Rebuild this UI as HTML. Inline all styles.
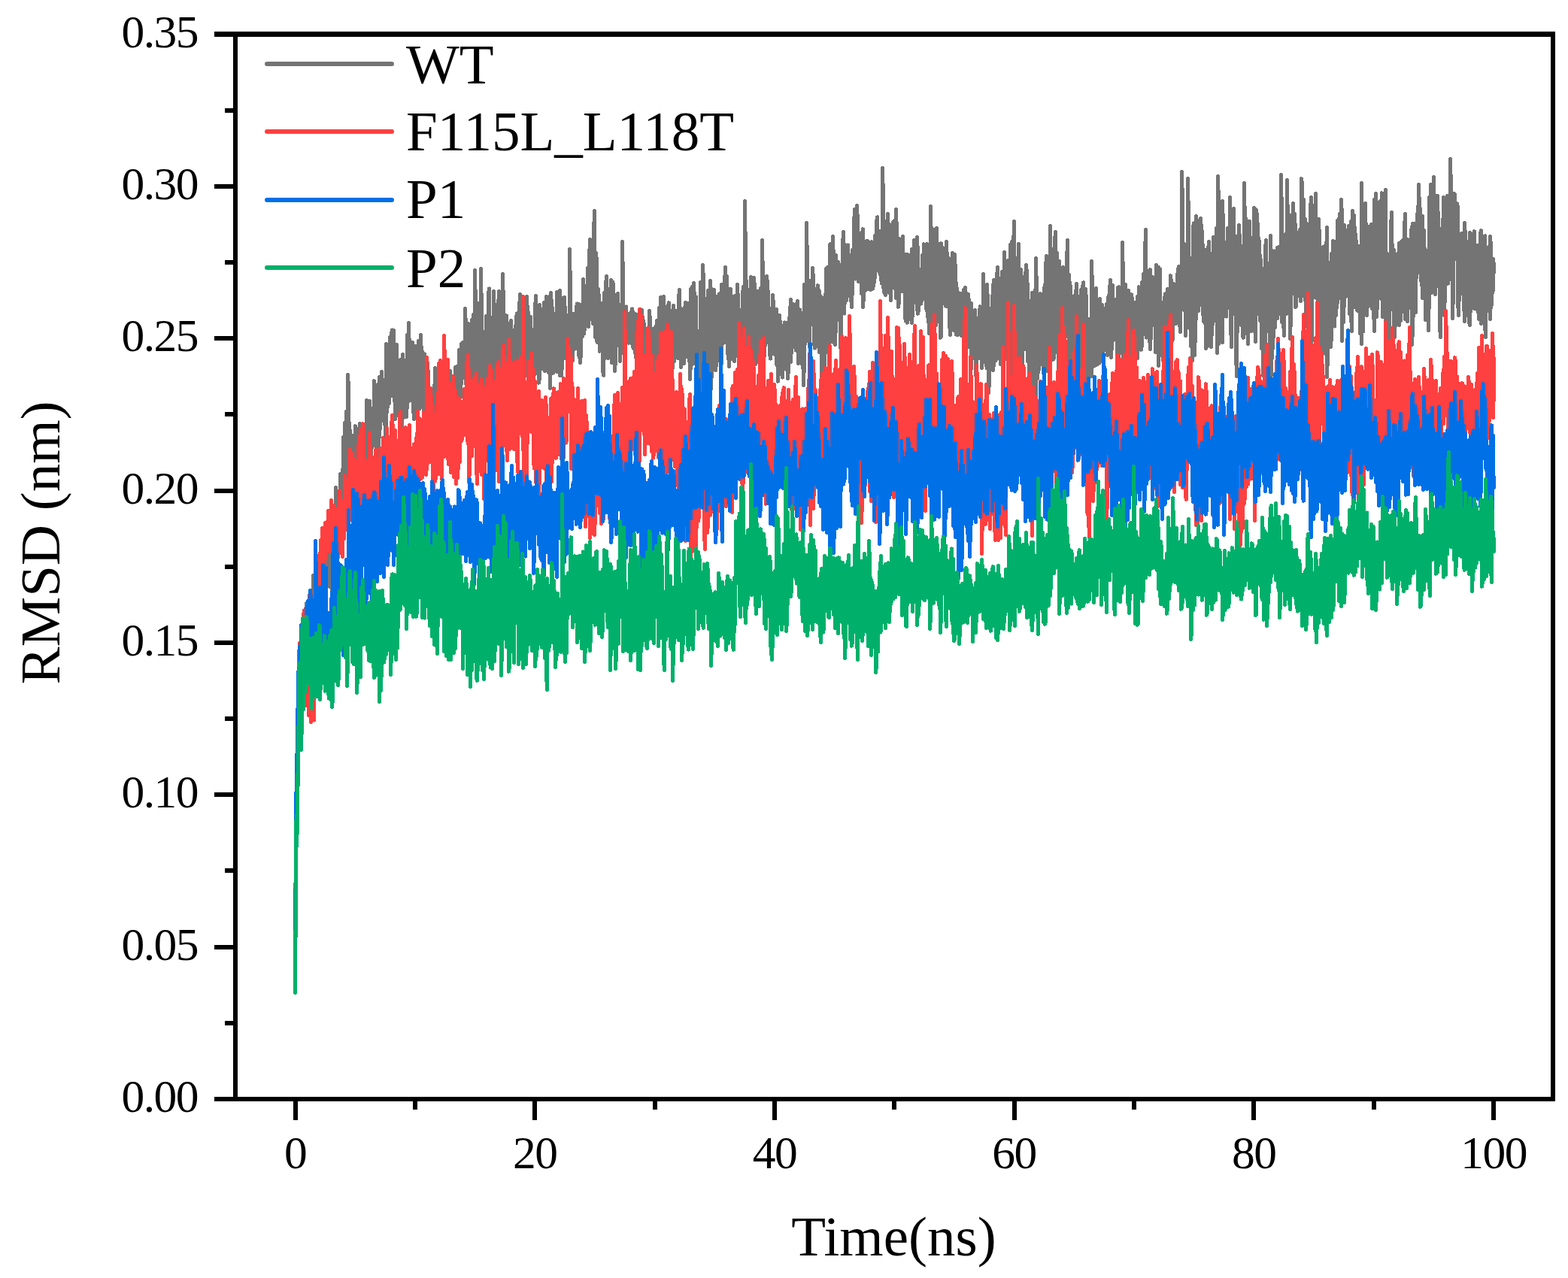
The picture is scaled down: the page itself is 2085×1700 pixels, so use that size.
<!DOCTYPE html><html><head><meta charset="utf-8"><style>html,body{margin:0;padding:0;background:#fff;overflow:hidden}svg{display:block}</style></head><body><svg width="2085" height="1700" viewBox="0 0 2085 1700"><rect width="100%" height="100%" fill="#fff"/><g><path d="M392.5 1240L392.5 1240 392.5 1197 393.5 1184 393.5 1116 394.5 1120 394.5 1063 395.5 1041 395.5 1017 396.5 1010 396.5 950 397.5 964 397.5 927 398.5 936 398.5 902 399.5 887 399.5 921 400.5 888 400.5 877 401.5 867 401.5 898 402.5 861 402.5 846 403.5 841 403.5 872 404.5 855 404.5 842 405.5 831 405.5 868 406.5 861 406.5 823 407.5 803 407.5 863 408.5 840 408.5 823 409.5 831 409.5 840 410.5 848 410.5 822 411.5 816 411.5 876 412.5 838 412.5 809 413.5 813 413.5 844 414.5 820 414.5 802 415.5 805 415.5 855 416.5 820 416.5 766 417.5 785 417.5 815 418.5 807 418.5 833 419.5 817 419.5 802 420.5 790 420.5 816 421.5 832 421.5 785 422.5 792 422.5 816 423.5 819 423.5 792 424.5 788 424.5 819 425.5 803 425.5 766 426.5 778 426.5 817 427.5 795 427.5 760 428.5 749 428.5 783 429.5 799 429.5 749 430.5 754 430.5 779 431.5 774 431.5 732 432.5 748 432.5 764 433.5 755 433.5 735 434.5 740 434.5 764 435.5 760 435.5 702 436.5 729 436.5 761 437.5 762 437.5 736 438.5 730 438.5 780 439.5 754 439.5 734 440.5 765 440.5 699 441.5 734 441.5 792 442.5 794 442.5 729 443.5 735 443.5 697 444.5 679 444.5 716 445.5 694 445.5 742 446.5 735 446.5 649 447.5 668 447.5 746 448.5 701 448.5 681 449.5 668 449.5 718 450.5 721 450.5 665 451.5 653 451.5 692 452.5 695 452.5 631 453.5 633 453.5 671 454.5 672 454.5 654 455.5 668 455.5 625 456.5 634 456.5 582 457.5 601 457.5 675 458.5 622 458.5 563 459.5 566 459.5 644 460.5 632 460.5 548 461.5 549 461.5 618 462.5 595 462.5 499 463.5 530 463.5 623 464.5 619 464.5 563 465.5 594 465.5 623 466.5 649 466.5 597 467.5 582 467.5 615 468.5 618 468.5 582 469.5 580 469.5 641 470.5 636 470.5 605 471.5 617 471.5 629 472.5 653 472.5 567 473.5 573 473.5 599 474.5 585 474.5 615 475.5 609 475.5 575 476.5 595 476.5 625 477.5 628 477.5 581 478.5 564 478.5 625 479.5 634 479.5 603 480.5 592 480.5 637 481.5 615 481.5 594 482.5 588 482.5 644 483.5 631 483.5 599 484.5 599 484.5 617 485.5 591 485.5 565 486.5 570 486.5 597 487.5 578 487.5 533 488.5 565 488.5 600 489.5 605 489.5 576 490.5 544 490.5 624 491.5 587 491.5 534 492.5 578 492.5 631 493.5 597 493.5 568 494.5 553 494.5 595 495.5 592 495.5 564 496.5 580 496.5 543 497.5 566 497.5 507 498.5 519 498.5 555 499.5 553 499.5 517 500.5 537 500.5 593 501.5 612 501.5 530 502.5 534 502.5 608 503.5 597 503.5 531 504.5 502 504.5 581 505.5 547 505.5 503 506.5 513 506.5 540 507.5 542 507.5 495 508.5 526 508.5 551 509.5 558 509.5 508 510.5 506 510.5 556 511.5 564 511.5 519 512.5 516 512.5 574 513.5 583 513.5 458 514.5 495 514.5 548 515.5 531 515.5 489 516.5 480 516.5 513 517.5 536 517.5 469 518.5 488 518.5 449 519.5 449 519.5 518 520.5 495 520.5 448 521.5 439 521.5 526 522.5 488 522.5 443 523.5 440 523.5 505 524.5 533 524.5 464 525.5 460 525.5 557 526.5 519 526.5 483 527.5 459 527.5 538 528.5 544 528.5 490 529.5 483 529.5 552 530.5 533 530.5 485 531.5 507 531.5 561 532.5 543 532.5 479 533.5 513 533.5 595 534.5 545 534.5 516 535.5 553 535.5 472 536.5 491 536.5 555 537.5 527 537.5 491 538.5 491 538.5 541 539.5 513 539.5 486 540.5 502 540.5 554 541.5 518 541.5 446 542.5 458 542.5 508 543.5 533 543.5 430 544.5 504 544.5 530 545.5 530 545.5 505 546.5 532 546.5 474 547.5 471 547.5 507 548.5 531 548.5 456 549.5 485 549.5 528 550.5 557 550.5 494 551.5 509 551.5 539 552.5 548 552.5 461 553.5 508 553.5 532 554.5 509 554.5 488 555.5 488 555.5 525 556.5 525 556.5 454 557.5 513 557.5 544 558.5 533 558.5 478 559.5 446 559.5 542 560.5 531 560.5 462 561.5 478 561.5 525 562.5 518 562.5 483 563.5 505 563.5 540 564.5 576 564.5 471 565.5 484 565.5 561 566.5 562 566.5 516 567.5 509 567.5 576 568.5 558 568.5 483 569.5 518 569.5 560 570.5 563 570.5 528 571.5 516 571.5 590 572.5 563 572.5 535 573.5 536 573.5 561 574.5 564 574.5 525 575.5 548 575.5 600 576.5 551 576.5 541 577.5 513 577.5 573 578.5 600 578.5 490 579.5 516 579.5 578 580.5 548 580.5 530 581.5 529 581.5 586 582.5 562 582.5 508 583.5 539 583.5 568 584.5 546 584.5 498 585.5 521 585.5 550 586.5 548 586.5 532 587.5 514 587.5 550 588.5 542 588.5 587 589.5 551 589.5 524 590.5 541 590.5 497 591.5 522 591.5 548 592.5 558 592.5 531 593.5 558 593.5 501 594.5 532 594.5 569 595.5 549 595.5 530 596.5 502 596.5 569 597.5 551 597.5 532 598.5 547 598.5 494 599.5 526 599.5 577 600.5 556 600.5 537 601.5 523 601.5 593 602.5 557 602.5 532 603.5 526 603.5 590 604.5 581 604.5 519 605.5 546 605.5 489 606.5 491 606.5 538 607.5 525 607.5 488 608.5 503 608.5 535 609.5 507 609.5 566 610.5 550 610.5 466 611.5 504 611.5 526 612.5 528 612.5 489 613.5 510 613.5 458 614.5 471 614.5 503 615.5 482 615.5 456 616.5 456 616.5 496 617.5 487 617.5 460 618.5 487 618.5 411 619.5 453 619.5 497 620.5 516 620.5 447 621.5 435 621.5 483 622.5 474 622.5 431 623.5 432 623.5 490 624.5 474 624.5 442 625.5 446 625.5 487 626.5 483 626.5 444 627.5 426 627.5 510 628.5 462 628.5 436 629.5 419 629.5 526 630.5 482 630.5 438 631.5 457 631.5 360 632.5 451 632.5 502 633.5 466 633.5 543 634.5 509 634.5 455 635.5 488 635.5 554 636.5 502 636.5 404 637.5 455 637.5 528 638.5 529 638.5 474 639.5 496 639.5 358 640.5 477 640.5 521 641.5 527 641.5 465 642.5 490 642.5 526 643.5 484 643.5 442 644.5 445 644.5 485 645.5 467 645.5 545 646.5 520 646.5 421 647.5 457 647.5 532 648.5 494 648.5 453 649.5 502 649.5 396 650.5 384 650.5 480 651.5 500 651.5 422 652.5 433 652.5 468 653.5 470 653.5 453 654.5 445 654.5 482 655.5 444 655.5 555 656.5 463 656.5 388 657.5 455 657.5 489 658.5 482 658.5 406 659.5 425 659.5 480 660.5 505 660.5 430 661.5 411 661.5 503 662.5 474 662.5 428 663.5 388 663.5 490 664.5 514 664.5 418 665.5 444 665.5 518 666.5 504 666.5 447 667.5 451 667.5 482 668.5 498 668.5 365 669.5 441 669.5 507 670.5 478 670.5 445 671.5 424 671.5 486 672.5 478 672.5 426 673.5 420 673.5 471 674.5 465 674.5 432 675.5 431 675.5 496 676.5 512 676.5 452 677.5 490 677.5 539 678.5 499 678.5 469 679.5 504 679.5 427 680.5 469 680.5 491 681.5 458 681.5 531 682.5 488 682.5 455 683.5 478 683.5 498 684.5 531 684.5 448 685.5 434 685.5 529 686.5 484 686.5 426 687.5 417 687.5 491 688.5 492 688.5 433 689.5 475 689.5 528 690.5 476 690.5 430 691.5 392 691.5 500 692.5 489 692.5 444 693.5 424 693.5 494 694.5 482 694.5 413 695.5 471 695.5 497 696.5 499 696.5 447 697.5 405 697.5 500 698.5 477 698.5 438 699.5 417 699.5 480 700.5 469 700.5 395 701.5 434 701.5 473 702.5 478 702.5 416 703.5 427 703.5 483 704.5 506 704.5 455 705.5 422 705.5 511 706.5 496 706.5 442 707.5 439 707.5 532 708.5 489 708.5 466 709.5 488 709.5 439 710.5 440 710.5 484 711.5 495 711.5 430 712.5 394 712.5 497 713.5 494 713.5 425 714.5 429 714.5 496 715.5 488 715.5 453 716.5 450 716.5 509 717.5 497 717.5 406 718.5 448 718.5 467 719.5 453 719.5 490 720.5 490 720.5 417 721.5 439 721.5 489 722.5 476 722.5 426 723.5 403 723.5 460 724.5 493 724.5 413 725.5 434 725.5 465 726.5 469 726.5 395 727.5 425 727.5 484 728.5 472 728.5 449 729.5 417 729.5 495 730.5 479 730.5 453 731.5 394 731.5 516 732.5 449 732.5 390 733.5 419 733.5 456 734.5 472 734.5 410 735.5 430 735.5 496 736.5 486 736.5 435 737.5 424 737.5 464 738.5 460 738.5 425 739.5 433 739.5 451 740.5 494 740.5 389 741.5 418 741.5 454 742.5 456 742.5 422 743.5 433 743.5 454 744.5 499 744.5 387 745.5 418 745.5 447 746.5 397 746.5 499 747.5 472 747.5 438 748.5 448 748.5 423 749.5 427 749.5 460 750.5 448 750.5 396 751.5 437 751.5 466 752.5 477 752.5 422 753.5 428 753.5 466 754.5 476 754.5 433 755.5 441 755.5 420 756.5 423 756.5 462 757.5 480 757.5 332 758.5 434 758.5 497 759.5 485 759.5 431 760.5 424 760.5 463 761.5 479 761.5 447 762.5 465 762.5 418 763.5 446 763.5 455 764.5 464 764.5 428 765.5 438 765.5 460 766.5 463 766.5 415 767.5 404 767.5 444 768.5 457 768.5 423 769.5 428 769.5 470 770.5 475 770.5 405 771.5 417 771.5 482 772.5 460 772.5 409 773.5 417 773.5 447 774.5 447 774.5 415 775.5 435 775.5 372 776.5 413 776.5 444 777.5 430 777.5 380 778.5 383 778.5 418 779.5 416 779.5 385 780.5 402 780.5 432 781.5 430 781.5 357 782.5 412 782.5 434 783.5 407 783.5 370 784.5 319 784.5 424 785.5 412 785.5 368 786.5 332 786.5 419 787.5 408 787.5 382 788.5 377 788.5 430 789.5 419 789.5 338 790.5 281 790.5 415 791.5 386 791.5 448 792.5 410 792.5 337 793.5 356 793.5 452 794.5 455 794.5 384 795.5 385 795.5 439 796.5 454 796.5 393 797.5 421 797.5 467 798.5 457 798.5 403 799.5 414 799.5 450 800.5 464 800.5 426 801.5 432 801.5 484 802.5 499 802.5 447 803.5 477 803.5 390 804.5 410 804.5 441 805.5 447 805.5 390 806.5 368 806.5 452 807.5 445 807.5 397 808.5 385 808.5 476 809.5 446 809.5 385 810.5 414 810.5 441 811.5 427 811.5 472 812.5 449 812.5 373 813.5 417 813.5 482 814.5 448 814.5 375 815.5 379 815.5 446 816.5 440 816.5 403 817.5 421 817.5 493 818.5 468 818.5 399 819.5 393 819.5 460 820.5 454 820.5 406 821.5 391 821.5 436 822.5 453 822.5 413 823.5 407 823.5 444 824.5 423 824.5 480 825.5 451 825.5 406 826.5 409 826.5 464 827.5 434 827.5 322 828.5 419 828.5 457 829.5 466 829.5 432 830.5 435 830.5 483 831.5 469 831.5 421 832.5 408 832.5 444 833.5 446 833.5 429 834.5 418 834.5 447 835.5 448 835.5 420 836.5 418 836.5 456 837.5 444 837.5 421 838.5 431 838.5 447 839.5 437 839.5 422 840.5 411 840.5 450 841.5 461 841.5 415 842.5 424 842.5 463 843.5 456 843.5 419 844.5 433 844.5 458 845.5 475 845.5 418 846.5 430 846.5 461 847.5 480 847.5 434 848.5 437 848.5 479 849.5 456 849.5 422 850.5 426 850.5 468 851.5 478 851.5 422 852.5 412 852.5 447 853.5 455 853.5 413 854.5 440 854.5 456 855.5 458 855.5 427 856.5 436 856.5 477 857.5 458 857.5 505 858.5 492 858.5 456 859.5 458 859.5 482 860.5 478 860.5 451 861.5 450 861.5 482 862.5 461 862.5 452 863.5 488 863.5 414 864.5 436 864.5 455 865.5 447 865.5 466 866.5 456 866.5 437 867.5 450 867.5 479 868.5 494 868.5 458 869.5 454 869.5 471 870.5 489 870.5 437 871.5 450 871.5 479 872.5 501 872.5 447 873.5 427 873.5 497 874.5 475 874.5 437 875.5 438 875.5 454 876.5 459 876.5 410 877.5 442 877.5 469 878.5 460 878.5 396 879.5 431 879.5 468 880.5 444 880.5 432 881.5 437 881.5 450 882.5 470 882.5 395 883.5 436 883.5 486 884.5 470 884.5 434 885.5 432 885.5 490 886.5 451 886.5 431 887.5 421 887.5 446 888.5 464 888.5 409 889.5 403 889.5 484 890.5 493 890.5 432 891.5 415 891.5 482 892.5 499 892.5 436 893.5 421 893.5 502 894.5 460 894.5 424 895.5 407 895.5 480 896.5 480 896.5 439 897.5 444 897.5 462 898.5 466 898.5 421 899.5 414 899.5 473 900.5 466 900.5 417 901.5 420 901.5 476 902.5 438 902.5 406 903.5 386 903.5 464 904.5 467 904.5 411 905.5 411 905.5 488 906.5 472 906.5 434 907.5 414 907.5 458 908.5 439 908.5 417 909.5 428 909.5 483 910.5 462 910.5 419 911.5 403 911.5 456 912.5 452 912.5 414 913.5 406 913.5 453 914.5 439 914.5 404 915.5 424 915.5 467 916.5 480 916.5 431 917.5 404 917.5 504 918.5 461 918.5 385 919.5 409 919.5 481 920.5 444 920.5 382 921.5 425 921.5 484 922.5 479 922.5 377 923.5 417 923.5 457 924.5 483 924.5 399 925.5 395 925.5 443 926.5 440 926.5 531 927.5 510 927.5 459 928.5 464 928.5 530 929.5 535 929.5 462 930.5 441 930.5 531 931.5 492 931.5 376 932.5 414 932.5 469 933.5 491 933.5 416 934.5 457 934.5 353 935.5 389 935.5 468 936.5 505 936.5 427 937.5 419 937.5 447 938.5 452 938.5 398 939.5 425 939.5 465 940.5 488 940.5 431 941.5 463 941.5 387 942.5 418 942.5 451 943.5 445 943.5 416 944.5 442 944.5 374 945.5 421 945.5 517 946.5 462 946.5 397 947.5 385 947.5 458 948.5 453 948.5 403 949.5 386 949.5 479 950.5 490 950.5 395 951.5 416 951.5 492 952.5 477 952.5 427 953.5 448 953.5 395 954.5 416 954.5 438 955.5 453 955.5 403 956.5 391 956.5 477 957.5 480 957.5 408 958.5 420 958.5 452 959.5 483 959.5 379 960.5 417 960.5 448 961.5 452 961.5 406 962.5 406 962.5 456 963.5 450 963.5 398 964.5 356 964.5 441 965.5 435 965.5 385 966.5 368 966.5 417 967.5 417 967.5 457 968.5 477 968.5 385 969.5 414 969.5 487 970.5 459 970.5 411 971.5 385 971.5 445 972.5 444 972.5 395 973.5 395 973.5 456 974.5 461 974.5 433 975.5 437 975.5 478 976.5 480 976.5 430 977.5 462 977.5 394 978.5 422 978.5 473 979.5 457 979.5 419 980.5 457 980.5 379 981.5 417 981.5 470 982.5 460 982.5 412 983.5 418 983.5 473 984.5 465 984.5 414 985.5 434 985.5 445 986.5 420 986.5 486 987.5 444 987.5 397 988.5 382 988.5 447 989.5 443 989.5 407 990.5 452 990.5 268 991.5 416 991.5 493 992.5 483 992.5 374 993.5 408 993.5 441 994.5 407 994.5 487 995.5 440 995.5 412 996.5 426 996.5 393 997.5 405 997.5 437 998.5 414 998.5 369 999.5 399 999.5 465 1000.5 472 1000.5 376 1001.5 402 1001.5 436 1002.5 439 1002.5 370 1003.5 393 1003.5 440 1004.5 410 1004.5 484 1005.5 461 1005.5 423 1006.5 432 1006.5 481 1007.5 450 1007.5 388 1008.5 418 1008.5 452 1009.5 433 1009.5 395 1010.5 406 1010.5 442 1011.5 470 1011.5 384 1012.5 402 1012.5 461 1013.5 453 1013.5 320 1014.5 418 1014.5 451 1015.5 432 1015.5 482 1016.5 457 1016.5 423 1017.5 412 1017.5 459 1018.5 455 1018.5 399 1019.5 368 1019.5 442 1020.5 442 1020.5 374 1021.5 417 1021.5 451 1022.5 441 1022.5 410 1023.5 421 1023.5 465 1024.5 477 1024.5 423 1025.5 414 1025.5 455 1026.5 453 1026.5 420 1027.5 438 1027.5 393 1028.5 414 1028.5 457 1029.5 471 1029.5 430 1030.5 436 1030.5 458 1031.5 464 1031.5 429 1032.5 412 1032.5 484 1033.5 486 1033.5 437 1034.5 447 1034.5 507 1035.5 471 1035.5 447 1036.5 420 1036.5 478 1037.5 467 1037.5 428 1038.5 438 1038.5 463 1039.5 455 1039.5 493 1040.5 502 1040.5 437 1041.5 442 1041.5 474 1042.5 483 1042.5 441 1043.5 429 1043.5 483 1044.5 489 1044.5 461 1045.5 459 1045.5 491 1046.5 479 1046.5 437 1047.5 454 1047.5 503 1048.5 480 1048.5 442 1049.5 423 1049.5 461 1050.5 475 1050.5 431 1051.5 399 1051.5 481 1052.5 445 1052.5 411 1053.5 404 1053.5 452 1054.5 449 1054.5 430 1055.5 436 1055.5 456 1056.5 444 1056.5 423 1057.5 414 1057.5 456 1058.5 466 1058.5 405 1059.5 421 1059.5 441 1060.5 442 1060.5 401 1061.5 429 1061.5 483 1062.5 462 1062.5 422 1063.5 412 1063.5 480 1064.5 481 1064.5 424 1065.5 416 1065.5 449 1066.5 433 1066.5 476 1067.5 489 1067.5 434 1068.5 443 1068.5 512 1069.5 453 1069.5 379 1070.5 428 1070.5 457 1071.5 445 1071.5 415 1072.5 442 1072.5 297 1073.5 404 1073.5 443 1074.5 450 1074.5 412 1075.5 407 1075.5 441 1076.5 461 1076.5 374 1077.5 390 1077.5 427 1078.5 432 1078.5 392 1079.5 400 1079.5 429 1080.5 428 1080.5 357 1081.5 383 1081.5 417 1082.5 384 1082.5 451 1083.5 463 1083.5 395 1084.5 421 1084.5 454 1085.5 459 1085.5 437 1086.5 448 1086.5 413 1087.5 426 1087.5 380 1088.5 394 1088.5 446 1089.5 468 1089.5 388 1090.5 403 1090.5 438 1091.5 459 1091.5 411 1092.5 396 1092.5 502 1093.5 470 1093.5 419 1094.5 406 1094.5 456 1095.5 437 1095.5 500 1096.5 453 1096.5 411 1097.5 392 1097.5 442 1098.5 436 1098.5 358 1099.5 397 1099.5 441 1100.5 407 1100.5 356 1101.5 384 1101.5 469 1102.5 449 1102.5 399 1103.5 449 1103.5 326 1104.5 325 1104.5 412 1105.5 410 1105.5 373 1106.5 387 1106.5 438 1107.5 455 1107.5 315 1108.5 379 1108.5 432 1109.5 434 1109.5 383 1110.5 371 1110.5 458 1111.5 404 1111.5 340 1112.5 377 1112.5 409 1113.5 425 1113.5 369 1114.5 349 1114.5 407 1115.5 425 1115.5 360 1116.5 360 1116.5 408 1117.5 361 1117.5 462 1118.5 412 1118.5 353 1119.5 363 1119.5 402 1120.5 413 1120.5 343 1121.5 309 1121.5 408 1122.5 417 1122.5 345 1123.5 332 1123.5 403 1124.5 378 1124.5 326 1125.5 339 1125.5 399 1126.5 373 1126.5 335 1127.5 326 1127.5 355 1128.5 345 1128.5 372 1129.5 382 1129.5 347 1130.5 340 1130.5 384 1131.5 400 1131.5 365 1132.5 340 1132.5 408 1133.5 353 1133.5 333 1134.5 333 1134.5 351 1135.5 352 1135.5 316 1136.5 279 1136.5 363 1137.5 371 1137.5 315 1138.5 310 1138.5 355 1139.5 336 1139.5 274 1140.5 314 1140.5 348 1141.5 336 1141.5 374 1142.5 358 1142.5 329 1143.5 311 1143.5 350 1144.5 361 1144.5 313 1145.5 327 1145.5 390 1146.5 363 1146.5 313 1147.5 305 1147.5 408 1148.5 383 1148.5 346 1149.5 329 1149.5 366 1150.5 386 1150.5 332 1151.5 352 1151.5 380 1152.5 378 1152.5 321 1153.5 321 1153.5 384 1154.5 359 1154.5 322 1155.5 333 1155.5 360 1156.5 379 1156.5 335 1157.5 325 1157.5 385 1158.5 359 1158.5 346 1159.5 370 1159.5 322 1160.5 332 1160.5 384 1161.5 375 1161.5 346 1162.5 333 1162.5 375 1163.5 361 1163.5 314 1164.5 321 1164.5 350 1165.5 343 1165.5 303 1166.5 289 1166.5 342 1167.5 327 1167.5 359 1168.5 357 1168.5 326 1169.5 311 1169.5 360 1170.5 365 1170.5 308 1171.5 335 1171.5 362 1172.5 377 1172.5 335 1173.5 358 1173.5 224 1174.5 299 1174.5 370 1175.5 388 1175.5 337 1176.5 345 1176.5 390 1177.5 392 1177.5 325 1178.5 350 1178.5 295 1179.5 336 1179.5 372 1180.5 357 1180.5 285 1181.5 324 1181.5 358 1182.5 389 1182.5 302 1183.5 329 1183.5 355 1184.5 399 1184.5 301 1185.5 328 1185.5 344 1186.5 378 1186.5 300 1187.5 296 1187.5 339 1188.5 321 1188.5 359 1189.5 383 1189.5 294 1190.5 320 1190.5 345 1191.5 396 1191.5 279 1192.5 339 1192.5 380 1193.5 378 1193.5 327 1194.5 324 1194.5 408 1195.5 395 1195.5 318 1196.5 333 1196.5 367 1197.5 371 1197.5 323 1198.5 321 1198.5 384 1199.5 387 1199.5 348 1200.5 315 1200.5 386 1201.5 387 1201.5 345 1202.5 338 1202.5 381 1203.5 346 1203.5 418 1204.5 427 1204.5 351 1205.5 339 1205.5 394 1206.5 362 1206.5 429 1207.5 421 1207.5 339 1208.5 345 1208.5 407 1209.5 402 1209.5 357 1210.5 389 1210.5 417 1211.5 392 1211.5 361 1212.5 332 1212.5 429 1213.5 403 1213.5 336 1214.5 364 1214.5 387 1215.5 367 1215.5 320 1216.5 336 1216.5 369 1217.5 377 1217.5 338 1218.5 336 1218.5 382 1219.5 412 1219.5 316 1220.5 357 1220.5 417 1221.5 407 1221.5 381 1222.5 378 1222.5 400 1223.5 402 1223.5 361 1224.5 359 1224.5 404 1225.5 394 1225.5 369 1226.5 393 1226.5 340 1227.5 352 1227.5 381 1228.5 386 1228.5 325 1229.5 328 1229.5 397 1230.5 390 1230.5 356 1231.5 374 1231.5 409 1232.5 413 1232.5 325 1233.5 356 1233.5 406 1234.5 428 1234.5 372 1235.5 345 1235.5 443 1236.5 430 1236.5 392 1237.5 416 1237.5 275 1238.5 370 1238.5 466 1239.5 448 1239.5 379 1240.5 380 1240.5 427 1241.5 416 1241.5 376 1242.5 439 1242.5 306 1243.5 362 1243.5 400 1244.5 432 1244.5 322 1245.5 304 1245.5 387 1246.5 427 1246.5 324 1247.5 341 1247.5 383 1248.5 376 1248.5 404 1249.5 399 1249.5 364 1250.5 374 1250.5 449 1251.5 447 1251.5 324 1252.5 334 1252.5 404 1253.5 389 1253.5 345 1254.5 356 1254.5 392 1255.5 395 1255.5 331 1256.5 334 1256.5 393 1257.5 407 1257.5 351 1258.5 322 1258.5 403 1259.5 407 1259.5 337 1260.5 352 1260.5 387 1261.5 374 1261.5 344 1262.5 356 1262.5 412 1263.5 445 1263.5 351 1264.5 384 1264.5 405 1265.5 416 1265.5 381 1266.5 337 1266.5 429 1267.5 439 1267.5 339 1268.5 371 1268.5 433 1269.5 403 1269.5 339 1270.5 382 1270.5 430 1271.5 445 1271.5 377 1272.5 395 1272.5 434 1273.5 428 1273.5 389 1274.5 395 1274.5 445 1275.5 433 1275.5 396 1276.5 404 1276.5 434 1277.5 440 1277.5 391 1278.5 391 1278.5 446 1279.5 445 1279.5 407 1280.5 407 1280.5 423 1281.5 443 1281.5 386 1282.5 399 1282.5 442 1283.5 450 1283.5 383 1284.5 404 1284.5 437 1285.5 427 1285.5 391 1286.5 409 1286.5 430 1287.5 461 1287.5 392 1288.5 411 1288.5 432 1289.5 412 1289.5 455 1290.5 457 1290.5 419 1291.5 404 1291.5 490 1292.5 448 1292.5 424 1293.5 429 1293.5 472 1294.5 476 1294.5 420 1295.5 425 1295.5 466 1296.5 470 1296.5 413 1297.5 445 1297.5 495 1298.5 503 1298.5 448 1299.5 443 1299.5 467 1300.5 471 1300.5 446 1301.5 428 1301.5 476 1302.5 476 1302.5 416 1303.5 408 1303.5 461 1304.5 455 1304.5 426 1305.5 412 1305.5 489 1306.5 471 1306.5 416 1307.5 443 1307.5 365 1308.5 409 1308.5 458 1309.5 455 1309.5 400 1310.5 399 1310.5 436 1311.5 429 1311.5 479 1312.5 490 1312.5 379 1313.5 422 1313.5 465 1314.5 429 1314.5 522 1315.5 496 1315.5 425 1316.5 421 1316.5 451 1317.5 484 1317.5 411 1318.5 435 1318.5 470 1319.5 464 1319.5 432 1320.5 379 1320.5 492 1321.5 477 1321.5 373 1322.5 435 1322.5 475 1323.5 480 1323.5 456 1324.5 463 1324.5 434 1325.5 446 1325.5 380 1326.5 356 1326.5 477 1327.5 466 1327.5 398 1328.5 373 1328.5 460 1329.5 461 1329.5 390 1330.5 377 1330.5 484 1331.5 436 1331.5 385 1332.5 362 1332.5 470 1333.5 432 1333.5 382 1334.5 377 1334.5 439 1335.5 425 1335.5 336 1336.5 390 1336.5 477 1337.5 445 1337.5 383 1338.5 370 1338.5 413 1339.5 437 1339.5 354 1340.5 347 1340.5 452 1341.5 488 1341.5 381 1342.5 348 1342.5 463 1343.5 437 1343.5 326 1344.5 368 1344.5 515 1345.5 429 1345.5 322 1346.5 375 1346.5 487 1347.5 421 1347.5 370 1348.5 295 1348.5 452 1349.5 484 1349.5 380 1350.5 400 1350.5 446 1351.5 481 1351.5 407 1352.5 421 1352.5 470 1353.5 456 1353.5 393 1354.5 325 1354.5 483 1355.5 490 1355.5 380 1356.5 371 1356.5 448 1357.5 442 1357.5 359 1358.5 425 1358.5 493 1359.5 510 1359.5 369 1360.5 426 1360.5 445 1361.5 421 1361.5 395 1362.5 404 1362.5 464 1363.5 429 1363.5 387 1364.5 353 1364.5 450 1365.5 438 1365.5 360 1366.5 419 1366.5 480 1367.5 467 1367.5 452 1368.5 439 1368.5 504 1369.5 488 1369.5 450 1370.5 430 1370.5 489 1371.5 524 1371.5 422 1372.5 390 1372.5 494 1373.5 477 1373.5 418 1374.5 403 1374.5 519 1375.5 459 1375.5 409 1376.5 386 1376.5 496 1377.5 540 1377.5 344 1378.5 429 1378.5 470 1379.5 439 1379.5 503 1380.5 482 1380.5 408 1381.5 404 1381.5 491 1382.5 443 1382.5 395 1383.5 391 1383.5 479 1384.5 474 1384.5 426 1385.5 434 1385.5 484 1386.5 464 1386.5 420 1387.5 393 1387.5 496 1388.5 491 1388.5 387 1389.5 379 1389.5 436 1390.5 401 1390.5 369 1391.5 341 1391.5 493 1392.5 420 1392.5 370 1393.5 351 1393.5 434 1394.5 443 1394.5 387 1395.5 390 1395.5 478 1396.5 435 1396.5 301 1397.5 403 1397.5 462 1398.5 450 1398.5 387 1399.5 400 1399.5 474 1400.5 478 1400.5 405 1401.5 381 1401.5 476 1402.5 458 1402.5 330 1403.5 309 1403.5 436 1404.5 417 1404.5 366 1405.5 337 1405.5 412 1406.5 430 1406.5 356 1407.5 364 1407.5 441 1408.5 506 1408.5 348 1409.5 420 1409.5 458 1410.5 465 1410.5 416 1411.5 404 1411.5 492 1412.5 511 1412.5 389 1413.5 356 1413.5 449 1414.5 427 1414.5 390 1415.5 363 1415.5 431 1416.5 425 1416.5 379 1417.5 378 1417.5 436 1418.5 429 1418.5 376 1419.5 320 1419.5 447 1420.5 428 1420.5 399 1421.5 366 1421.5 445 1422.5 489 1422.5 376 1423.5 387 1423.5 475 1424.5 446 1424.5 409 1425.5 414 1425.5 491 1426.5 467 1426.5 430 1427.5 403 1427.5 502 1428.5 420 1428.5 394 1429.5 405 1429.5 483 1430.5 457 1430.5 408 1431.5 378 1431.5 445 1432.5 435 1432.5 401 1433.5 429 1433.5 444 1434.5 423 1434.5 498 1435.5 447 1435.5 398 1436.5 394 1436.5 520 1437.5 483 1437.5 386 1438.5 418 1438.5 452 1439.5 456 1439.5 390 1440.5 376 1440.5 495 1441.5 450 1441.5 387 1442.5 407 1442.5 463 1443.5 489 1443.5 385 1444.5 412 1444.5 451 1445.5 428 1445.5 519 1446.5 500 1446.5 439 1447.5 425 1447.5 471 1448.5 472 1448.5 426 1449.5 440 1449.5 485 1450.5 474 1450.5 428 1451.5 500 1451.5 348 1452.5 415 1452.5 461 1453.5 441 1453.5 398 1454.5 411 1454.5 487 1455.5 475 1455.5 410 1456.5 406 1456.5 463 1457.5 449 1457.5 384 1458.5 454 1458.5 485 1459.5 478 1459.5 430 1460.5 423 1460.5 474 1461.5 483 1461.5 434 1462.5 398 1462.5 481 1463.5 480 1463.5 418 1464.5 421 1464.5 462 1465.5 470 1465.5 406 1466.5 433 1466.5 470 1467.5 462 1467.5 430 1468.5 411 1468.5 461 1469.5 462 1469.5 415 1470.5 413 1470.5 448 1471.5 463 1471.5 405 1472.5 421 1472.5 472 1473.5 445 1473.5 400 1474.5 393 1474.5 466 1475.5 438 1475.5 399 1476.5 373 1476.5 430 1477.5 394 1477.5 475 1478.5 440 1478.5 396 1479.5 380 1479.5 449 1480.5 421 1480.5 398 1481.5 401 1481.5 452 1482.5 441 1482.5 399 1483.5 414 1483.5 432 1484.5 429 1484.5 417 1485.5 412 1485.5 450 1486.5 488 1486.5 383 1487.5 395 1487.5 483 1488.5 441 1488.5 382 1489.5 385 1489.5 465 1490.5 430 1490.5 390 1491.5 389 1491.5 429 1492.5 446 1492.5 323 1493.5 417 1493.5 480 1494.5 458 1494.5 409 1495.5 408 1495.5 487 1496.5 447 1496.5 379 1497.5 398 1497.5 450 1498.5 443 1498.5 402 1499.5 400 1499.5 465 1500.5 428 1500.5 387 1501.5 422 1501.5 446 1502.5 483 1502.5 400 1503.5 394 1503.5 431 1504.5 437 1504.5 392 1505.5 404 1505.5 445 1506.5 460 1506.5 402 1507.5 412 1507.5 441 1508.5 425 1508.5 403 1509.5 418 1509.5 443 1510.5 458 1510.5 412 1511.5 405 1511.5 437 1512.5 476 1512.5 395 1513.5 396 1513.5 427 1514.5 451 1514.5 382 1515.5 391 1515.5 437 1516.5 432 1516.5 385 1517.5 396 1517.5 465 1518.5 453 1518.5 376 1519.5 383 1519.5 426 1520.5 443 1520.5 365 1521.5 373 1521.5 444 1522.5 404 1522.5 366 1523.5 306 1523.5 436 1524.5 449 1524.5 384 1525.5 365 1525.5 439 1526.5 412 1526.5 367 1527.5 361 1527.5 431 1528.5 454 1528.5 366 1529.5 359 1529.5 464 1530.5 419 1530.5 382 1531.5 383 1531.5 407 1532.5 431 1532.5 369 1533.5 398 1533.5 432 1534.5 425 1534.5 401 1535.5 388 1535.5 418 1536.5 409 1536.5 468 1537.5 418 1537.5 353 1538.5 392 1538.5 413 1539.5 449 1539.5 375 1540.5 356 1540.5 486 1541.5 428 1541.5 370 1542.5 358 1542.5 432 1543.5 406 1543.5 459 1544.5 437 1544.5 403 1545.5 404 1545.5 461 1546.5 479 1546.5 403 1547.5 425 1547.5 445 1548.5 447 1548.5 405 1549.5 391 1549.5 460 1550.5 467 1550.5 418 1551.5 418 1551.5 443 1552.5 454 1552.5 385 1553.5 404 1553.5 470 1554.5 426 1554.5 395 1555.5 410 1555.5 431 1556.5 428 1556.5 367 1557.5 381 1557.5 425 1558.5 419 1558.5 453 1559.5 450 1559.5 408 1560.5 394 1560.5 431 1561.5 429 1561.5 378 1562.5 382 1562.5 419 1563.5 419 1563.5 382 1564.5 380 1564.5 430 1565.5 427 1565.5 379 1566.5 358 1566.5 408 1567.5 421 1567.5 355 1568.5 377 1568.5 418 1569.5 441 1569.5 371 1570.5 373 1570.5 396 1571.5 400 1571.5 229 1572.5 309 1572.5 383 1573.5 391 1573.5 355 1574.5 325 1574.5 412 1575.5 412 1575.5 339 1576.5 381 1576.5 446 1577.5 393 1577.5 338 1578.5 360 1578.5 407 1579.5 385 1579.5 238 1580.5 349 1580.5 379 1581.5 383 1581.5 436 1582.5 428 1582.5 350 1583.5 360 1583.5 460 1584.5 395 1584.5 372 1585.5 343 1585.5 479 1586.5 380 1586.5 307 1587.5 297 1587.5 365 1588.5 336 1588.5 472 1589.5 415 1589.5 363 1590.5 424 1590.5 288 1591.5 332 1591.5 400 1592.5 400 1592.5 294 1593.5 330 1593.5 413 1594.5 395 1594.5 334 1595.5 330 1595.5 377 1596.5 368 1596.5 291 1597.5 317 1597.5 392 1598.5 385 1598.5 308 1599.5 366 1599.5 397 1600.5 427 1600.5 338 1601.5 367 1601.5 403 1602.5 430 1602.5 333 1603.5 333 1603.5 463 1604.5 397 1604.5 358 1605.5 350 1605.5 460 1606.5 422 1606.5 343 1607.5 322 1607.5 443 1608.5 393 1608.5 346 1609.5 367 1609.5 401 1610.5 353 1610.5 461 1611.5 409 1611.5 338 1612.5 337 1612.5 431 1613.5 424 1613.5 316 1614.5 317 1614.5 386 1615.5 412 1615.5 351 1616.5 360 1616.5 403 1617.5 419 1617.5 304 1618.5 327 1618.5 469 1619.5 402 1619.5 235 1620.5 304 1620.5 457 1621.5 386 1621.5 326 1622.5 329 1622.5 420 1623.5 420 1623.5 330 1624.5 343 1624.5 384 1625.5 455 1625.5 268 1626.5 325 1626.5 389 1627.5 366 1627.5 415 1628.5 419 1628.5 323 1629.5 339 1629.5 407 1630.5 421 1630.5 335 1631.5 323 1631.5 376 1632.5 398 1632.5 304 1633.5 307 1633.5 409 1634.5 373 1634.5 313 1635.5 358 1635.5 263 1636.5 327 1636.5 400 1637.5 461 1637.5 324 1638.5 346 1638.5 418 1639.5 416 1639.5 308 1640.5 278 1640.5 399 1641.5 382 1641.5 338 1642.5 349 1642.5 397 1643.5 378 1643.5 441 1644.5 500 1644.5 315 1645.5 384 1645.5 441 1646.5 416 1646.5 378 1647.5 426 1647.5 300 1648.5 340 1648.5 400 1649.5 421 1649.5 327 1650.5 339 1650.5 397 1651.5 433 1651.5 348 1652.5 354 1652.5 446 1653.5 449 1653.5 364 1654.5 444 1654.5 244 1655.5 359 1655.5 396 1656.5 386 1656.5 291 1657.5 296 1657.5 413 1658.5 425 1658.5 336 1659.5 352 1659.5 457 1660.5 373 1660.5 325 1661.5 295 1661.5 394 1662.5 400 1662.5 319 1663.5 337 1663.5 440 1664.5 404 1664.5 317 1665.5 333 1665.5 385 1666.5 351 1666.5 421 1667.5 440 1667.5 277 1668.5 307 1668.5 378 1669.5 454 1669.5 279 1670.5 280 1670.5 373 1671.5 349 1671.5 285 1672.5 325 1672.5 393 1673.5 411 1673.5 317 1674.5 325 1674.5 402 1675.5 426 1675.5 340 1676.5 356 1676.5 412 1677.5 376 1677.5 463 1678.5 434 1678.5 393 1679.5 413 1679.5 499 1680.5 452 1680.5 378 1681.5 357 1681.5 420 1682.5 469 1682.5 341 1683.5 320 1683.5 410 1684.5 433 1684.5 361 1685.5 350 1685.5 404 1686.5 372 1686.5 440 1687.5 439 1687.5 355 1688.5 373 1688.5 432 1689.5 492 1689.5 314 1690.5 376 1690.5 499 1691.5 421 1691.5 380 1692.5 352 1692.5 463 1693.5 416 1693.5 345 1694.5 334 1694.5 411 1695.5 435 1695.5 381 1696.5 386 1696.5 420 1697.5 419 1697.5 377 1698.5 423 1698.5 330 1699.5 350 1699.5 383 1700.5 403 1700.5 329 1701.5 370 1701.5 417 1702.5 400 1702.5 362 1703.5 409 1703.5 233 1704.5 345 1704.5 428 1705.5 400 1705.5 330 1706.5 333 1706.5 406 1707.5 446 1707.5 365 1708.5 351 1708.5 398 1709.5 401 1709.5 312 1710.5 317 1710.5 417 1711.5 383 1711.5 240 1712.5 360 1712.5 402 1713.5 393 1713.5 325 1714.5 350 1714.5 371 1715.5 319 1715.5 450 1716.5 395 1716.5 287 1717.5 312 1717.5 383 1718.5 391 1718.5 327 1719.5 377 1719.5 271 1720.5 327 1720.5 376 1721.5 387 1721.5 285 1722.5 327 1722.5 408 1723.5 407 1723.5 334 1724.5 347 1724.5 373 1725.5 386 1725.5 348 1726.5 319 1726.5 390 1727.5 375 1727.5 312 1728.5 306 1728.5 382 1729.5 400 1729.5 338 1730.5 336 1730.5 238 1731.5 251 1731.5 387 1732.5 372 1732.5 287 1733.5 266 1733.5 354 1734.5 354 1734.5 386 1735.5 399 1735.5 292 1736.5 357 1736.5 434 1737.5 415 1737.5 349 1738.5 375 1738.5 298 1739.5 306 1739.5 429 1740.5 413 1740.5 376 1741.5 362 1741.5 436 1742.5 368 1742.5 293 1743.5 263 1743.5 459 1744.5 443 1744.5 325 1745.5 355 1745.5 385 1746.5 356 1746.5 278 1747.5 324 1747.5 395 1748.5 358 1748.5 313 1749.5 258 1749.5 378 1750.5 396 1750.5 351 1751.5 376 1751.5 324 1752.5 316 1752.5 436 1753.5 420 1753.5 292 1754.5 340 1754.5 450 1755.5 402 1755.5 503 1756.5 411 1756.5 378 1757.5 344 1757.5 424 1758.5 385 1758.5 466 1759.5 461 1759.5 329 1760.5 363 1760.5 449 1761.5 425 1761.5 328 1762.5 403 1762.5 470 1763.5 461 1763.5 377 1764.5 303 1764.5 501 1765.5 448 1765.5 383 1766.5 399 1766.5 349 1767.5 352 1767.5 421 1768.5 435 1768.5 353 1769.5 386 1769.5 461 1770.5 435 1770.5 338 1771.5 349 1771.5 414 1772.5 403 1772.5 321 1773.5 349 1773.5 422 1774.5 434 1774.5 342 1775.5 322 1775.5 400 1776.5 419 1776.5 364 1777.5 329 1777.5 409 1778.5 390 1778.5 294 1779.5 302 1779.5 349 1780.5 362 1780.5 303 1781.5 285 1781.5 342 1782.5 334 1782.5 391 1783.5 397 1783.5 266 1784.5 306 1784.5 453 1785.5 348 1785.5 326 1786.5 302 1786.5 428 1787.5 360 1787.5 300 1788.5 317 1788.5 346 1789.5 316 1789.5 391 1790.5 394 1790.5 312 1791.5 341 1791.5 393 1792.5 374 1792.5 347 1793.5 369 1793.5 301 1794.5 311 1794.5 417 1795.5 383 1795.5 310 1796.5 295 1796.5 394 1797.5 440 1797.5 339 1798.5 369 1798.5 281 1799.5 332 1799.5 398 1800.5 389 1800.5 287 1801.5 337 1801.5 408 1802.5 376 1802.5 312 1803.5 336 1803.5 371 1804.5 356 1804.5 412 1805.5 413 1805.5 327 1806.5 333 1806.5 403 1807.5 395 1807.5 341 1808.5 342 1808.5 443 1809.5 389 1809.5 366 1810.5 457 1810.5 244 1811.5 375 1811.5 432 1812.5 441 1812.5 384 1813.5 387 1813.5 362 1814.5 345 1814.5 413 1815.5 407 1815.5 271 1816.5 365 1816.5 418 1817.5 419 1817.5 349 1818.5 313 1818.5 386 1819.5 407 1819.5 321 1820.5 302 1820.5 372 1821.5 401 1821.5 315 1822.5 324 1822.5 374 1823.5 403 1823.5 299 1824.5 354 1824.5 410 1825.5 405 1825.5 334 1826.5 300 1826.5 379 1827.5 440 1827.5 266 1828.5 298 1828.5 421 1829.5 391 1829.5 258 1830.5 292 1830.5 421 1831.5 388 1831.5 288 1832.5 276 1832.5 348 1833.5 332 1833.5 283 1834.5 312 1834.5 376 1835.5 374 1835.5 268 1836.5 299 1836.5 397 1837.5 361 1837.5 257 1838.5 322 1838.5 421 1839.5 379 1839.5 333 1840.5 328 1840.5 386 1841.5 359 1841.5 312 1842.5 253 1842.5 428 1843.5 438 1843.5 355 1844.5 338 1844.5 429 1845.5 404 1845.5 356 1846.5 355 1846.5 475 1847.5 414 1847.5 346 1848.5 343 1848.5 412 1849.5 375 1849.5 320 1850.5 283 1850.5 367 1851.5 373 1851.5 326 1852.5 343 1852.5 387 1853.5 333 1853.5 449 1854.5 448 1854.5 383 1855.5 375 1855.5 433 1856.5 422 1856.5 361 1857.5 348 1857.5 380 1858.5 418 1858.5 338 1859.5 353 1859.5 382 1860.5 432 1860.5 324 1861.5 341 1861.5 406 1862.5 426 1862.5 338 1863.5 322 1863.5 403 1864.5 389 1864.5 358 1865.5 371 1865.5 320 1866.5 361 1866.5 414 1867.5 370 1867.5 323 1868.5 285 1868.5 424 1869.5 415 1869.5 342 1870.5 327 1870.5 372 1871.5 345 1871.5 427 1872.5 372 1872.5 319 1873.5 328 1873.5 391 1874.5 381 1874.5 327 1875.5 320 1875.5 398 1876.5 399 1876.5 311 1877.5 302 1877.5 458 1878.5 420 1878.5 298 1879.5 375 1879.5 420 1880.5 404 1880.5 303 1881.5 298 1881.5 396 1882.5 415 1882.5 312 1883.5 333 1883.5 369 1884.5 354 1884.5 310 1885.5 275 1885.5 358 1886.5 339 1886.5 246 1887.5 308 1887.5 337 1888.5 326 1888.5 278 1889.5 304 1889.5 363 1890.5 379 1890.5 324 1891.5 288 1891.5 396 1892.5 364 1892.5 330 1893.5 307 1893.5 365 1894.5 379 1894.5 331 1895.5 347 1895.5 425 1896.5 389 1896.5 356 1897.5 356 1897.5 367 1898.5 394 1898.5 334 1899.5 357 1899.5 439 1900.5 338 1900.5 263 1901.5 264 1901.5 335 1902.5 359 1902.5 246 1903.5 309 1903.5 389 1904.5 368 1904.5 328 1905.5 359 1905.5 297 1906.5 332 1906.5 236 1907.5 320 1907.5 351 1908.5 315 1908.5 391 1909.5 360 1909.5 322 1910.5 317 1910.5 376 1911.5 377 1911.5 261 1912.5 335 1912.5 376 1913.5 368 1913.5 331 1914.5 336 1914.5 420 1915.5 448 1915.5 331 1916.5 334 1916.5 373 1917.5 397 1917.5 333 1918.5 292 1918.5 373 1919.5 407 1919.5 263 1920.5 290 1920.5 419 1921.5 359 1921.5 309 1922.5 301 1922.5 363 1923.5 344 1923.5 302 1924.5 321 1924.5 261 1925.5 299 1925.5 377 1926.5 364 1926.5 272 1927.5 294 1927.5 340 1928.5 362 1928.5 212 1929.5 288 1929.5 354 1930.5 351 1930.5 259 1931.5 315 1931.5 423 1932.5 356 1932.5 258 1933.5 258 1933.5 326 1934.5 343 1934.5 259 1935.5 293 1935.5 344 1936.5 341 1936.5 305 1937.5 328 1937.5 271 1938.5 278 1938.5 379 1939.5 419 1939.5 321 1940.5 339 1940.5 399 1941.5 377 1941.5 336 1942.5 330 1942.5 389 1943.5 351 1943.5 311 1944.5 330 1944.5 362 1945.5 376 1945.5 313 1946.5 324 1946.5 371 1947.5 427 1947.5 297 1948.5 332 1948.5 386 1949.5 411 1949.5 325 1950.5 354 1950.5 401 1951.5 379 1951.5 340 1952.5 322 1952.5 399 1953.5 429 1953.5 347 1954.5 310 1954.5 432 1955.5 373 1955.5 339 1956.5 331 1956.5 380 1957.5 378 1957.5 345 1958.5 349 1958.5 376 1959.5 375 1959.5 315 1960.5 308 1960.5 410 1961.5 378 1961.5 340 1962.5 350 1962.5 389 1963.5 409 1963.5 346 1964.5 327 1964.5 408 1965.5 415 1965.5 352 1966.5 349 1966.5 424 1967.5 391 1967.5 359 1968.5 375 1968.5 312 1969.5 307 1969.5 430 1970.5 401 1970.5 344 1971.5 358 1971.5 415 1972.5 400 1972.5 376 1973.5 383 1973.5 328 1974.5 314 1974.5 413 1975.5 448 1975.5 366 1976.5 343 1976.5 402 1977.5 392 1977.5 351 1978.5 348 1978.5 400 1979.5 398 1979.5 329 1980.5 351 1980.5 390 1981.5 424 1981.5 315 1982.5 338 1982.5 409 1983.5 399 1983.5 361 1984.5 361 1984.5 389 1985.5 383 1985.5 345 1986.5 362 1986.5 362" fill="none" stroke="#747474" stroke-width="5.5" stroke-linejoin="round" stroke-linecap="round" shape-rendering="crispEdges"/><path d="M392.5 1230L392.5 1230 392.5 1176 393.5 1181 393.5 1108 394.5 1095 394.5 1019 395.5 1027 395.5 959 396.5 967 396.5 905 397.5 915 397.5 890 398.5 856 398.5 941 399.5 902 399.5 880 400.5 902 400.5 854 401.5 867 401.5 908 402.5 911 402.5 873 403.5 885 403.5 826 404.5 812 404.5 887 405.5 899 405.5 854 406.5 884 406.5 938 407.5 904 407.5 859 408.5 850 408.5 879 409.5 897 409.5 845 410.5 858 410.5 951 411.5 918 411.5 792 412.5 860 412.5 913 413.5 960 413.5 847 414.5 806 414.5 905 415.5 900 415.5 847 416.5 841 416.5 944 417.5 958 417.5 810 418.5 787 418.5 867 419.5 836 419.5 808 420.5 788 420.5 836 421.5 797 421.5 781 422.5 797 422.5 745 423.5 741 423.5 785 424.5 769 424.5 742 425.5 736 425.5 795 426.5 753 426.5 719 427.5 736 427.5 772 428.5 734 428.5 703 429.5 723 429.5 778 430.5 774 430.5 707 431.5 706 431.5 752 432.5 725 432.5 696 433.5 701 433.5 725 434.5 726 434.5 703 435.5 694 435.5 734 436.5 732 436.5 680 437.5 701 437.5 718 438.5 710 438.5 688 439.5 691 439.5 720 440.5 713 440.5 666 441.5 691 441.5 734 442.5 718 442.5 688 443.5 673 443.5 733 444.5 736 444.5 688 445.5 678 445.5 732 446.5 713 446.5 696 447.5 696 447.5 731 448.5 756 448.5 677 449.5 699 449.5 741 450.5 724 450.5 683 451.5 709 451.5 653 452.5 685 452.5 735 453.5 702 453.5 671 454.5 682 454.5 710 455.5 740 455.5 676 456.5 696 456.5 714 457.5 716 457.5 667 458.5 699 458.5 633 459.5 649 459.5 683 460.5 678 460.5 649 461.5 658 461.5 703 462.5 705 462.5 669 463.5 674 463.5 700 464.5 671 464.5 628 465.5 598 465.5 681 466.5 666 466.5 619 467.5 639 467.5 690 468.5 692 468.5 603 469.5 623 469.5 674 470.5 672 470.5 644 471.5 651 471.5 619 472.5 613 472.5 650 473.5 621 473.5 687 474.5 664 474.5 614 475.5 626 475.5 648 476.5 657 476.5 608 477.5 585 477.5 666 478.5 674 478.5 597 479.5 572 479.5 700 480.5 643 480.5 618 481.5 619 481.5 672 482.5 660 482.5 564 483.5 572 483.5 669 484.5 655 484.5 613 485.5 630 485.5 642 486.5 622 486.5 674 487.5 641 487.5 613 488.5 624 488.5 648 489.5 672 489.5 618 490.5 616 490.5 683 491.5 672 491.5 576 492.5 638 492.5 667 493.5 645 493.5 629 494.5 626 494.5 689 495.5 662 495.5 608 496.5 620 496.5 668 497.5 672 497.5 618 498.5 631 498.5 680 499.5 693 499.5 599 500.5 640 500.5 665 501.5 682 501.5 642 502.5 615 502.5 675 503.5 650 503.5 635 504.5 610 504.5 701 505.5 677 505.5 597 506.5 636 506.5 665 507.5 661 507.5 628 508.5 622 508.5 667 509.5 658 509.5 583 510.5 591 510.5 647 511.5 638 511.5 593 512.5 608 512.5 646 513.5 663 513.5 620 514.5 668 514.5 570 515.5 622 515.5 646 516.5 629 516.5 598 517.5 582 517.5 638 518.5 624 518.5 594 519.5 588 519.5 629 520.5 622 520.5 582 521.5 553 521.5 638 522.5 608 522.5 566 523.5 588 523.5 673 524.5 635 524.5 599 525.5 573 525.5 630 526.5 632 526.5 586 527.5 604 527.5 632 528.5 609 528.5 677 529.5 631 529.5 591 530.5 606 530.5 677 531.5 617 531.5 555 532.5 548 532.5 638 533.5 645 533.5 598 534.5 582 534.5 644 535.5 623 535.5 598 536.5 572 536.5 637 537.5 639 537.5 584 538.5 610 538.5 656 539.5 645 539.5 569 540.5 581 540.5 650 541.5 634 541.5 586 542.5 596 542.5 687 543.5 656 543.5 582 544.5 566 544.5 628 545.5 655 545.5 596 546.5 600 546.5 657 547.5 686 547.5 615 548.5 601 548.5 702 549.5 667 549.5 603 550.5 591 550.5 664 551.5 648 551.5 617 552.5 600 552.5 679 553.5 639 553.5 592 554.5 577 554.5 668 555.5 619 555.5 548 556.5 571 556.5 628 557.5 638 557.5 579 558.5 558 558.5 626 559.5 637 559.5 593 560.5 559 560.5 631 561.5 635 561.5 603 562.5 611 562.5 590 563.5 611 563.5 549 564.5 592 564.5 624 565.5 616 565.5 569 566.5 599 566.5 631 567.5 614 567.5 476 568.5 568 568.5 614 569.5 603 569.5 574 570.5 542 570.5 615 571.5 612 571.5 571 572.5 604 572.5 517 573.5 546 573.5 613 574.5 601 574.5 548 575.5 540 575.5 628 576.5 658 576.5 569 577.5 552 577.5 613 578.5 588 578.5 640 579.5 630 579.5 574 580.5 565 580.5 624 581.5 571 581.5 523 582.5 542 582.5 611 583.5 630 583.5 484 584.5 491 584.5 604 585.5 590 585.5 480 586.5 526 586.5 580 587.5 637 587.5 511 588.5 539 588.5 597 589.5 585 589.5 529 590.5 607 590.5 447 591.5 514 591.5 589 592.5 563 592.5 530 593.5 539 593.5 585 594.5 597 594.5 531 595.5 479 595.5 598 596.5 617 596.5 534 597.5 510 597.5 590 598.5 607 598.5 547 599.5 565 599.5 628 600.5 600 600.5 526 601.5 540 601.5 627 602.5 579 602.5 501 603.5 542 603.5 634 604.5 611 604.5 543 605.5 520 605.5 606 606.5 643 606.5 552 607.5 546 607.5 587 608.5 545 608.5 635 609.5 596 609.5 538 610.5 530 610.5 615 611.5 614 611.5 563 612.5 548 612.5 584 613.5 586 613.5 538 614.5 535 614.5 584 615.5 570 615.5 544 616.5 542 616.5 555 617.5 578 617.5 518 618.5 545 618.5 575 619.5 565 619.5 542 620.5 579 620.5 483 621.5 535 621.5 579 622.5 590 622.5 472 623.5 537 623.5 641 624.5 611 624.5 516 625.5 506 625.5 583 626.5 590 626.5 508 627.5 549 627.5 606 628.5 568 628.5 518 629.5 536 629.5 585 630.5 567 630.5 508 631.5 502 631.5 569 632.5 563 632.5 513 633.5 497 633.5 597 634.5 643 634.5 527 635.5 511 635.5 597 636.5 608 636.5 512 637.5 533 637.5 581 638.5 564 638.5 626 639.5 593 639.5 568 640.5 631 640.5 505 641.5 519 641.5 578 642.5 602 642.5 539 643.5 555 643.5 663 644.5 634 644.5 565 645.5 607 645.5 517 646.5 534 646.5 612 647.5 571 647.5 504 648.5 549 648.5 574 649.5 595 649.5 510 650.5 524 650.5 609 651.5 587 651.5 487 652.5 522 652.5 587 653.5 597 653.5 493 654.5 544 654.5 643 655.5 595 655.5 529 656.5 537 656.5 636 657.5 606 657.5 534 658.5 508 658.5 567 659.5 513 659.5 625 660.5 556 660.5 497 661.5 486 661.5 570 662.5 568 662.5 482 663.5 520 663.5 640 664.5 577 664.5 502 665.5 491 665.5 613 666.5 570 666.5 533 667.5 530 667.5 577 668.5 572 668.5 480 669.5 460 669.5 592 670.5 558 670.5 475 671.5 495 671.5 581 672.5 569 672.5 516 673.5 490 673.5 565 674.5 612 674.5 492 675.5 483 675.5 580 676.5 529 676.5 452 677.5 513 677.5 597 678.5 596 678.5 500 679.5 530 679.5 572 680.5 545 680.5 512 681.5 483 681.5 589 682.5 573 682.5 509 683.5 531 683.5 597 684.5 565 684.5 528 685.5 498 685.5 597 686.5 592 686.5 480 687.5 481 687.5 579 688.5 627 688.5 524 689.5 548 689.5 569 690.5 577 690.5 498 691.5 488 691.5 576 692.5 540 692.5 476 693.5 486 693.5 552 694.5 580 694.5 511 695.5 598 695.5 395 696.5 469 696.5 645 697.5 588 697.5 515 698.5 538 698.5 571 699.5 553 699.5 611 700.5 636 700.5 525 701.5 508 701.5 589 702.5 531 702.5 481 703.5 496 703.5 542 704.5 555 704.5 488 705.5 507 705.5 554 706.5 574 706.5 470 707.5 502 707.5 543 708.5 534 708.5 491 709.5 494 709.5 606 710.5 623 710.5 538 711.5 508 711.5 577 712.5 554 712.5 612 713.5 653 713.5 543 714.5 577 714.5 600 715.5 625 715.5 561 716.5 521 716.5 658 717.5 611 717.5 571 718.5 558 718.5 609 719.5 622 719.5 580 720.5 618 720.5 533 721.5 550 721.5 591 722.5 599 722.5 536 723.5 546 723.5 602 724.5 623 724.5 573 725.5 601 725.5 529 726.5 557 726.5 665 727.5 580 727.5 557 728.5 557 728.5 592 729.5 604 729.5 556 730.5 573 730.5 625 731.5 609 731.5 571 732.5 577 732.5 531 733.5 554 733.5 640 734.5 555 734.5 537 735.5 524 735.5 584 736.5 552 736.5 517 737.5 527 737.5 583 738.5 582 738.5 545 739.5 540 739.5 609 740.5 601 740.5 559 741.5 531 741.5 603 742.5 559 742.5 522 743.5 523 743.5 560 744.5 530 744.5 604 745.5 573 745.5 511 746.5 540 746.5 581 747.5 621 747.5 529 748.5 520 748.5 618 749.5 588 749.5 504 750.5 548 750.5 578 751.5 577 751.5 527 752.5 515 752.5 589 753.5 583 753.5 521 754.5 540 754.5 451 755.5 473 755.5 534 756.5 531 756.5 464 757.5 479 757.5 547 758.5 543 758.5 472 759.5 485 759.5 623 760.5 607 760.5 510 761.5 526 761.5 621 762.5 609 762.5 563 763.5 532 763.5 636 764.5 660 764.5 548 765.5 572 765.5 613 766.5 579 766.5 695 767.5 612 767.5 583 768.5 517 768.5 649 769.5 635 769.5 589 770.5 615 770.5 547 771.5 535 771.5 655 772.5 619 772.5 552 773.5 534 773.5 580 774.5 590 774.5 548 775.5 571 775.5 639 776.5 620 776.5 560 777.5 533 777.5 642 778.5 606 778.5 700 779.5 660 779.5 553 780.5 579 780.5 647 781.5 646 781.5 591 782.5 595 782.5 648 783.5 661 783.5 628 784.5 593 784.5 715 785.5 675 785.5 629 786.5 637 786.5 710 787.5 705 787.5 645 788.5 607 788.5 687 789.5 693 789.5 633 790.5 601 790.5 711 791.5 662 791.5 590 792.5 624 792.5 647 793.5 652 793.5 593 794.5 622 794.5 664 795.5 653 795.5 619 796.5 603 796.5 651 797.5 682 797.5 586 798.5 627 798.5 648 799.5 647 799.5 696 800.5 662 800.5 600 801.5 612 801.5 659 802.5 690 802.5 595 803.5 599 803.5 641 804.5 641 804.5 575 805.5 573 805.5 636 806.5 650 806.5 572 807.5 585 807.5 631 808.5 642 808.5 596 809.5 600 809.5 648 810.5 638 810.5 682 811.5 693 811.5 613 812.5 618 812.5 656 813.5 661 813.5 610 814.5 609 814.5 624 815.5 580 815.5 697 816.5 612 816.5 572 817.5 526 817.5 628 818.5 671 818.5 575 819.5 555 819.5 620 820.5 667 820.5 570 821.5 603 821.5 523 822.5 571 822.5 620 823.5 637 823.5 576 824.5 538 824.5 632 825.5 658 825.5 539 826.5 537 826.5 612 827.5 684 827.5 516 828.5 537 828.5 605 829.5 634 829.5 540 830.5 592 830.5 415 831.5 499 831.5 623 832.5 616 832.5 557 833.5 553 833.5 684 834.5 632 834.5 561 835.5 546 835.5 616 836.5 581 836.5 508 837.5 528 837.5 566 838.5 572 838.5 504 839.5 546 839.5 585 840.5 598 840.5 540 841.5 526 841.5 557 842.5 593 842.5 517 843.5 495 843.5 585 844.5 604 844.5 507 845.5 530 845.5 588 846.5 607 846.5 442 847.5 501 847.5 634 848.5 536 848.5 427 849.5 465 849.5 527 850.5 613 850.5 412 851.5 503 851.5 573 852.5 551 852.5 420 853.5 480 853.5 527 854.5 540 854.5 482 855.5 518 855.5 565 856.5 577 856.5 500 857.5 503 857.5 604 858.5 545 858.5 473 859.5 501 859.5 546 860.5 556 860.5 454 861.5 437 861.5 589 862.5 521 862.5 440 863.5 469 863.5 526 864.5 527 864.5 574 865.5 591 865.5 520 866.5 527 866.5 600 867.5 600 867.5 473 868.5 556 868.5 609 869.5 602 869.5 538 870.5 525 870.5 574 871.5 564 871.5 516 872.5 522 872.5 599 873.5 553 873.5 482 874.5 524 874.5 563 875.5 608 875.5 474 876.5 546 876.5 575 877.5 570 877.5 518 878.5 582 878.5 443 879.5 473 879.5 563 880.5 532 880.5 624 881.5 598 881.5 545 882.5 518 882.5 597 883.5 608 883.5 442 884.5 487 884.5 552 885.5 541 885.5 644 886.5 590 886.5 521 887.5 541 887.5 432 888.5 475 888.5 585 889.5 601 889.5 488 890.5 499 890.5 628 891.5 600 891.5 499 892.5 524 892.5 442 893.5 501 893.5 544 894.5 581 894.5 506 895.5 574 895.5 611 896.5 612 896.5 534 897.5 528 897.5 620 898.5 588 898.5 563 899.5 590 899.5 522 900.5 554 900.5 623 901.5 646 901.5 548 902.5 528 902.5 676 903.5 621 903.5 590 904.5 656 904.5 498 905.5 550 905.5 621 906.5 630 906.5 518 907.5 536 907.5 611 908.5 594 908.5 543 909.5 549 909.5 605 910.5 608 910.5 545 911.5 597 911.5 719 912.5 634 912.5 565 913.5 615 913.5 672 914.5 671 914.5 635 915.5 620 915.5 682 916.5 717 916.5 541 917.5 525 917.5 676 918.5 631 918.5 766 919.5 652 919.5 553 920.5 623 920.5 712 921.5 680 921.5 620 922.5 609 922.5 664 923.5 665 923.5 607 924.5 624 924.5 672 925.5 755 925.5 566 926.5 608 926.5 701 927.5 668 927.5 617 928.5 624 928.5 693 929.5 681 929.5 618 930.5 655 930.5 576 931.5 590 931.5 545 932.5 532 932.5 602 933.5 610 933.5 578 934.5 578 934.5 663 935.5 613 935.5 577 936.5 570 936.5 686 937.5 730 937.5 601 938.5 557 938.5 674 939.5 667 939.5 629 940.5 553 940.5 708 941.5 690 941.5 588 942.5 615 942.5 678 943.5 672 943.5 638 944.5 596 944.5 685 945.5 676 945.5 608 946.5 604 946.5 638 947.5 655 947.5 605 948.5 599 948.5 677 949.5 660 949.5 584 950.5 626 950.5 687 951.5 705 951.5 596 952.5 642 952.5 711 953.5 690 953.5 619 954.5 631 954.5 661 955.5 679 955.5 611 956.5 634 956.5 540 957.5 552 957.5 627 958.5 632 958.5 523 959.5 606 959.5 680 960.5 626 960.5 579 961.5 558 961.5 637 962.5 624 962.5 565 963.5 576 963.5 640 964.5 657 964.5 608 965.5 568 965.5 673 966.5 604 966.5 558 967.5 560 967.5 651 968.5 647 968.5 607 969.5 624 969.5 567 970.5 579 970.5 620 971.5 646 971.5 565 972.5 580 972.5 643 973.5 681 973.5 521 974.5 514 974.5 635 975.5 648 975.5 558 976.5 546 976.5 635 977.5 637 977.5 496 978.5 552 978.5 622 979.5 634 979.5 562 980.5 603 980.5 492 981.5 495 981.5 623 982.5 579 982.5 430 983.5 562 983.5 608 984.5 598 984.5 481 985.5 451 985.5 598 986.5 642 986.5 529 987.5 485 987.5 659 988.5 604 988.5 519 989.5 566 989.5 437 990.5 525 990.5 628 991.5 596 991.5 477 992.5 485 992.5 598 993.5 569 993.5 519 994.5 505 994.5 545 995.5 564 995.5 448 996.5 493 996.5 585 997.5 583 997.5 485 998.5 531 998.5 561 999.5 635 999.5 467 1000.5 502 1000.5 615 1001.5 581 1001.5 482 1002.5 503 1002.5 594 1003.5 586 1003.5 556 1004.5 524 1004.5 600 1005.5 529 1005.5 671 1006.5 612 1006.5 528 1007.5 514 1007.5 609 1008.5 580 1008.5 500 1009.5 514 1009.5 570 1010.5 599 1010.5 523 1011.5 454 1011.5 618 1012.5 594 1012.5 521 1013.5 456 1013.5 588 1014.5 583 1014.5 466 1015.5 450 1015.5 570 1016.5 598 1016.5 516 1017.5 543 1017.5 600 1018.5 560 1018.5 670 1019.5 658 1019.5 537 1020.5 536 1020.5 620 1021.5 580 1021.5 507 1022.5 534 1022.5 611 1023.5 624 1023.5 525 1024.5 529 1024.5 564 1025.5 585 1025.5 498 1026.5 538 1026.5 579 1027.5 588 1027.5 554 1028.5 530 1028.5 639 1029.5 598 1029.5 512 1030.5 531 1030.5 605 1031.5 614 1031.5 538 1032.5 545 1032.5 628 1033.5 609 1033.5 561 1034.5 557 1034.5 585 1035.5 587 1035.5 552 1036.5 540 1036.5 637 1037.5 618 1037.5 550 1038.5 541 1038.5 646 1039.5 622 1039.5 539 1040.5 523 1040.5 589 1041.5 596 1041.5 521 1042.5 516 1042.5 647 1043.5 634 1043.5 538 1044.5 540 1044.5 603 1045.5 607 1045.5 561 1046.5 579 1046.5 632 1047.5 644 1047.5 568 1048.5 519 1048.5 633 1049.5 655 1049.5 538 1050.5 560 1050.5 607 1051.5 624 1051.5 557 1052.5 579 1052.5 677 1053.5 624 1053.5 538 1054.5 532 1054.5 677 1055.5 667 1055.5 545 1056.5 535 1056.5 605 1057.5 604 1057.5 543 1058.5 502 1058.5 601 1059.5 661 1059.5 540 1060.5 564 1060.5 614 1061.5 585 1061.5 529 1062.5 579 1062.5 611 1063.5 607 1063.5 576 1064.5 604 1064.5 704 1065.5 675 1065.5 601 1066.5 641 1066.5 554 1067.5 544 1067.5 657 1068.5 673 1068.5 565 1069.5 565 1069.5 684 1070.5 646 1070.5 566 1071.5 544 1071.5 653 1072.5 666 1072.5 618 1073.5 602 1073.5 635 1074.5 606 1074.5 542 1075.5 506 1075.5 593 1076.5 652 1076.5 471 1077.5 549 1077.5 698 1078.5 579 1078.5 537 1079.5 578 1079.5 616 1080.5 631 1080.5 543 1081.5 481 1081.5 676 1082.5 616 1082.5 498 1083.5 563 1083.5 599 1084.5 614 1084.5 520 1085.5 546 1085.5 592 1086.5 629 1086.5 551 1087.5 586 1087.5 638 1088.5 645 1088.5 586 1089.5 585 1089.5 649 1090.5 647 1090.5 552 1091.5 506 1091.5 629 1092.5 605 1092.5 570 1093.5 616 1093.5 497 1094.5 534 1094.5 605 1095.5 543 1095.5 680 1096.5 578 1096.5 513 1097.5 490 1097.5 610 1098.5 624 1098.5 549 1099.5 504 1099.5 672 1100.5 626 1100.5 525 1101.5 532 1101.5 599 1102.5 690 1102.5 461 1103.5 461 1103.5 617 1104.5 625 1104.5 561 1105.5 573 1105.5 615 1106.5 664 1106.5 524 1107.5 501 1107.5 608 1108.5 646 1108.5 498 1109.5 545 1109.5 611 1110.5 612 1110.5 518 1111.5 480 1111.5 588 1112.5 525 1112.5 657 1113.5 649 1113.5 515 1114.5 506 1114.5 578 1115.5 597 1115.5 518 1116.5 492 1116.5 557 1117.5 538 1117.5 499 1118.5 523 1118.5 470 1119.5 448 1119.5 567 1120.5 591 1120.5 488 1121.5 482 1121.5 576 1122.5 565 1122.5 508 1123.5 523 1123.5 613 1124.5 591 1124.5 450 1125.5 498 1125.5 568 1126.5 589 1126.5 456 1127.5 470 1127.5 584 1128.5 601 1128.5 507 1129.5 559 1129.5 421 1130.5 501 1130.5 605 1131.5 598 1131.5 502 1132.5 544 1132.5 593 1133.5 639 1133.5 529 1134.5 522 1134.5 594 1135.5 559 1135.5 488 1136.5 529 1136.5 597 1137.5 606 1137.5 550 1138.5 528 1138.5 613 1139.5 595 1139.5 680 1140.5 635 1140.5 530 1141.5 543 1141.5 604 1142.5 647 1142.5 551 1143.5 567 1143.5 638 1144.5 671 1144.5 583 1145.5 592 1145.5 695 1146.5 644 1146.5 588 1147.5 570 1147.5 652 1148.5 658 1148.5 566 1149.5 601 1149.5 656 1150.5 623 1150.5 596 1151.5 591 1151.5 556 1152.5 541 1152.5 611 1153.5 581 1153.5 528 1154.5 517 1154.5 608 1155.5 626 1155.5 553 1156.5 495 1156.5 653 1157.5 559 1157.5 523 1158.5 566 1158.5 666 1159.5 593 1159.5 538 1160.5 483 1160.5 649 1161.5 605 1161.5 525 1162.5 538 1162.5 614 1163.5 616 1163.5 532 1164.5 575 1164.5 694 1165.5 666 1165.5 560 1166.5 537 1166.5 692 1167.5 633 1167.5 494 1168.5 515 1168.5 662 1169.5 654 1169.5 588 1170.5 622 1170.5 401 1171.5 570 1171.5 629 1172.5 635 1172.5 517 1173.5 515 1173.5 625 1174.5 589 1174.5 519 1175.5 516 1175.5 604 1176.5 620 1176.5 503 1177.5 447 1177.5 580 1178.5 616 1178.5 468 1179.5 488 1179.5 580 1180.5 561 1180.5 423 1181.5 512 1181.5 563 1182.5 595 1182.5 523 1183.5 523 1183.5 585 1184.5 580 1184.5 499 1185.5 468 1185.5 621 1186.5 647 1186.5 501 1187.5 521 1187.5 613 1188.5 661 1188.5 549 1189.5 519 1189.5 599 1190.5 613 1190.5 547 1191.5 587 1191.5 504 1192.5 562 1192.5 436 1193.5 479 1193.5 565 1194.5 628 1194.5 437 1195.5 476 1195.5 559 1196.5 569 1196.5 460 1197.5 535 1197.5 582 1198.5 576 1198.5 530 1199.5 516 1199.5 583 1200.5 589 1200.5 502 1201.5 527 1201.5 669 1202.5 620 1202.5 458 1203.5 516 1203.5 603 1204.5 584 1204.5 516 1205.5 490 1205.5 577 1206.5 589 1206.5 509 1207.5 545 1207.5 651 1208.5 598 1208.5 565 1209.5 656 1209.5 472 1210.5 542 1210.5 608 1211.5 560 1211.5 511 1212.5 482 1212.5 580 1213.5 593 1213.5 489 1214.5 509 1214.5 567 1215.5 573 1215.5 471 1216.5 434 1216.5 593 1217.5 607 1217.5 545 1218.5 521 1218.5 570 1219.5 534 1219.5 626 1220.5 685 1220.5 553 1221.5 611 1221.5 487 1222.5 568 1222.5 651 1223.5 601 1223.5 523 1224.5 584 1224.5 441 1225.5 500 1225.5 596 1226.5 588 1226.5 480 1227.5 449 1227.5 556 1228.5 611 1228.5 500 1229.5 540 1229.5 616 1230.5 679 1230.5 532 1231.5 558 1231.5 642 1232.5 569 1232.5 507 1233.5 505 1233.5 558 1234.5 563 1234.5 487 1235.5 486 1235.5 546 1236.5 514 1236.5 583 1237.5 567 1237.5 516 1238.5 571 1238.5 432 1239.5 476 1239.5 528 1240.5 552 1240.5 484 1241.5 489 1241.5 522 1242.5 580 1242.5 419 1243.5 506 1243.5 636 1244.5 597 1244.5 508 1245.5 497 1245.5 662 1246.5 628 1246.5 510 1247.5 562 1247.5 617 1248.5 581 1248.5 536 1249.5 542 1249.5 568 1250.5 579 1250.5 545 1251.5 563 1251.5 637 1252.5 646 1252.5 479 1253.5 525 1253.5 645 1254.5 621 1254.5 470 1255.5 565 1255.5 613 1256.5 574 1256.5 494 1257.5 474 1257.5 642 1258.5 584 1258.5 508 1259.5 498 1259.5 561 1260.5 620 1260.5 478 1261.5 524 1261.5 614 1262.5 608 1262.5 575 1263.5 606 1263.5 506 1264.5 519 1264.5 567 1265.5 574 1265.5 481 1266.5 534 1266.5 648 1267.5 681 1267.5 566 1268.5 562 1268.5 628 1269.5 577 1269.5 540 1270.5 551 1270.5 643 1271.5 630 1271.5 571 1272.5 545 1272.5 609 1273.5 617 1273.5 530 1274.5 528 1274.5 648 1275.5 573 1275.5 557 1276.5 559 1276.5 637 1277.5 587 1277.5 505 1278.5 539 1278.5 615 1279.5 608 1279.5 528 1280.5 539 1280.5 595 1281.5 625 1281.5 518 1282.5 426 1282.5 641 1283.5 540 1283.5 410 1284.5 420 1284.5 561 1285.5 511 1285.5 611 1286.5 617 1286.5 562 1287.5 557 1287.5 638 1288.5 624 1288.5 546 1289.5 522 1289.5 658 1290.5 656 1290.5 475 1291.5 568 1291.5 657 1292.5 655 1292.5 567 1293.5 535 1293.5 612 1294.5 591 1294.5 668 1295.5 638 1295.5 580 1296.5 554 1296.5 645 1297.5 659 1297.5 541 1298.5 583 1298.5 486 1299.5 519 1299.5 597 1300.5 576 1300.5 539 1301.5 553 1301.5 608 1302.5 645 1302.5 521 1303.5 554 1303.5 668 1304.5 674 1304.5 511 1305.5 632 1305.5 736 1306.5 629 1306.5 591 1307.5 597 1307.5 655 1308.5 639 1308.5 582 1309.5 618 1309.5 547 1310.5 533 1310.5 697 1311.5 685 1311.5 512 1312.5 524 1312.5 619 1313.5 608 1313.5 565 1314.5 580 1314.5 675 1315.5 625 1315.5 552 1316.5 587 1316.5 703 1317.5 642 1317.5 558 1318.5 573 1318.5 655 1319.5 636 1319.5 561 1320.5 573 1320.5 593 1321.5 600 1321.5 550 1322.5 594 1322.5 675 1323.5 718 1323.5 554 1324.5 567 1324.5 633 1325.5 619 1325.5 571 1326.5 553 1326.5 656 1327.5 718 1327.5 573 1328.5 600 1328.5 675 1329.5 665 1329.5 587 1330.5 551 1330.5 715 1331.5 657 1331.5 549 1332.5 559 1332.5 626 1333.5 633 1333.5 462 1334.5 479 1334.5 611 1335.5 649 1335.5 569 1336.5 585 1336.5 673 1337.5 711 1337.5 617 1338.5 636 1338.5 597 1339.5 613 1339.5 576 1340.5 598 1340.5 403 1341.5 541 1341.5 623 1342.5 596 1342.5 523 1343.5 555 1343.5 619 1344.5 592 1344.5 502 1345.5 563 1345.5 612 1346.5 616 1346.5 501 1347.5 550 1347.5 597 1348.5 598 1348.5 407 1349.5 530 1349.5 582 1350.5 603 1350.5 509 1351.5 509 1351.5 555 1352.5 526 1352.5 591 1353.5 569 1353.5 507 1354.5 537 1354.5 477 1355.5 501 1355.5 538 1356.5 513 1356.5 477 1357.5 509 1357.5 576 1358.5 568 1358.5 514 1359.5 522 1359.5 575 1360.5 549 1360.5 487 1361.5 493 1361.5 572 1362.5 538 1362.5 607 1363.5 616 1363.5 544 1364.5 565 1364.5 506 1365.5 511 1365.5 566 1366.5 554 1366.5 504 1367.5 514 1367.5 605 1368.5 580 1368.5 528 1369.5 497 1369.5 588 1370.5 593 1370.5 555 1371.5 540 1371.5 580 1372.5 561 1372.5 712 1373.5 592 1373.5 515 1374.5 551 1374.5 593 1375.5 567 1375.5 533 1376.5 539 1376.5 570 1377.5 580 1377.5 529 1378.5 547 1378.5 567 1379.5 585 1379.5 541 1380.5 534 1380.5 583 1381.5 599 1381.5 551 1382.5 543 1382.5 590 1383.5 584 1383.5 508 1384.5 539 1384.5 620 1385.5 597 1385.5 561 1386.5 558 1386.5 567 1387.5 600 1387.5 521 1388.5 526 1388.5 599 1389.5 588 1389.5 553 1390.5 531 1390.5 576 1391.5 576 1391.5 516 1392.5 548 1392.5 654 1393.5 621 1393.5 537 1394.5 555 1394.5 516 1395.5 550 1395.5 463 1396.5 493 1396.5 569 1397.5 553 1397.5 514 1398.5 521 1398.5 618 1399.5 566 1399.5 517 1400.5 512 1400.5 555 1401.5 509 1401.5 620 1402.5 615 1402.5 534 1403.5 553 1403.5 590 1404.5 562 1404.5 653 1405.5 579 1405.5 534 1406.5 558 1406.5 498 1407.5 492 1407.5 574 1408.5 578 1408.5 447 1409.5 529 1409.5 612 1410.5 647 1410.5 464 1411.5 454 1411.5 563 1412.5 556 1412.5 410 1413.5 496 1413.5 606 1414.5 623 1414.5 523 1415.5 565 1415.5 445 1416.5 469 1416.5 556 1417.5 572 1417.5 501 1418.5 516 1418.5 546 1419.5 508 1419.5 618 1420.5 585 1420.5 482 1421.5 518 1421.5 591 1422.5 574 1422.5 513 1423.5 523 1423.5 599 1424.5 614 1424.5 515 1425.5 533 1425.5 628 1426.5 611 1426.5 495 1427.5 506 1427.5 603 1428.5 586 1428.5 478 1429.5 465 1429.5 520 1430.5 498 1430.5 568 1431.5 549 1431.5 421 1432.5 528 1432.5 584 1433.5 580 1433.5 498 1434.5 530 1434.5 602 1435.5 561 1435.5 492 1436.5 501 1436.5 605 1437.5 597 1437.5 535 1438.5 542 1438.5 587 1439.5 578 1439.5 528 1440.5 567 1440.5 432 1441.5 481 1441.5 548 1442.5 559 1442.5 508 1443.5 540 1443.5 598 1444.5 568 1444.5 630 1445.5 598 1445.5 679 1446.5 684 1446.5 581 1447.5 605 1447.5 663 1448.5 714 1448.5 598 1449.5 563 1449.5 646 1450.5 650 1450.5 564 1451.5 553 1451.5 636 1452.5 660 1452.5 552 1453.5 553 1453.5 666 1454.5 620 1454.5 578 1455.5 571 1455.5 615 1456.5 612 1456.5 579 1457.5 566 1457.5 641 1458.5 586 1458.5 549 1459.5 530 1459.5 620 1460.5 595 1460.5 556 1461.5 507 1461.5 611 1462.5 589 1462.5 545 1463.5 531 1463.5 615 1464.5 562 1464.5 530 1465.5 518 1465.5 619 1466.5 599 1466.5 501 1467.5 560 1467.5 611 1468.5 596 1468.5 552 1469.5 595 1469.5 617 1470.5 618 1470.5 533 1471.5 564 1471.5 695 1472.5 630 1472.5 584 1473.5 600 1473.5 565 1474.5 558 1474.5 608 1475.5 632 1475.5 525 1476.5 554 1476.5 607 1477.5 600 1477.5 563 1478.5 581 1478.5 544 1479.5 497 1479.5 606 1480.5 605 1480.5 533 1481.5 516 1481.5 568 1482.5 543 1482.5 604 1483.5 589 1483.5 498 1484.5 494 1484.5 585 1485.5 626 1485.5 473 1486.5 547 1486.5 654 1487.5 606 1487.5 533 1488.5 557 1488.5 618 1489.5 607 1489.5 567 1490.5 607 1490.5 479 1491.5 551 1491.5 618 1492.5 636 1492.5 517 1493.5 555 1493.5 616 1494.5 631 1494.5 560 1495.5 555 1495.5 472 1496.5 487 1496.5 570 1497.5 555 1497.5 480 1498.5 523 1498.5 621 1499.5 562 1499.5 485 1500.5 426 1500.5 590 1501.5 528 1501.5 476 1502.5 487 1502.5 568 1503.5 576 1503.5 501 1504.5 511 1504.5 562 1505.5 568 1505.5 527 1506.5 563 1506.5 457 1507.5 440 1507.5 616 1508.5 582 1508.5 449 1509.5 520 1509.5 578 1510.5 606 1510.5 502 1511.5 489 1511.5 579 1512.5 603 1512.5 520 1513.5 524 1513.5 560 1514.5 520 1514.5 617 1515.5 616 1515.5 507 1516.5 529 1516.5 566 1517.5 521 1517.5 631 1518.5 577 1518.5 561 1519.5 543 1519.5 641 1520.5 579 1520.5 503 1521.5 532 1521.5 615 1522.5 642 1522.5 508 1523.5 519 1523.5 597 1524.5 639 1524.5 553 1525.5 550 1525.5 604 1526.5 586 1526.5 499 1527.5 514 1527.5 599 1528.5 624 1528.5 514 1529.5 570 1529.5 620 1530.5 636 1530.5 556 1531.5 529 1531.5 623 1532.5 589 1532.5 491 1533.5 504 1533.5 593 1534.5 564 1534.5 649 1535.5 631 1535.5 542 1536.5 541 1536.5 617 1537.5 599 1537.5 563 1538.5 600 1538.5 495 1539.5 561 1539.5 673 1540.5 652 1540.5 609 1541.5 611 1541.5 586 1542.5 595 1542.5 569 1543.5 523 1543.5 634 1544.5 631 1544.5 546 1545.5 551 1545.5 587 1546.5 601 1546.5 534 1547.5 479 1547.5 598 1548.5 547 1548.5 435 1549.5 476 1549.5 572 1550.5 584 1550.5 449 1551.5 516 1551.5 575 1552.5 574 1552.5 490 1553.5 436 1553.5 575 1554.5 616 1554.5 444 1555.5 427 1555.5 548 1556.5 609 1556.5 419 1557.5 476 1557.5 627 1558.5 588 1558.5 522 1559.5 552 1559.5 617 1560.5 613 1560.5 522 1561.5 537 1561.5 654 1562.5 571 1562.5 523 1563.5 482 1563.5 614 1564.5 579 1564.5 483 1565.5 479 1565.5 614 1566.5 584 1566.5 494 1567.5 500 1567.5 568 1568.5 543 1568.5 511 1569.5 507 1569.5 644 1570.5 578 1570.5 538 1571.5 545 1571.5 596 1572.5 585 1572.5 648 1573.5 617 1573.5 540 1574.5 568 1574.5 633 1575.5 605 1575.5 525 1576.5 563 1576.5 658 1577.5 664 1577.5 543 1578.5 532 1578.5 624 1579.5 596 1579.5 524 1580.5 489 1580.5 594 1581.5 578 1581.5 520 1582.5 559 1582.5 477 1583.5 481 1583.5 570 1584.5 588 1584.5 552 1585.5 514 1585.5 603 1586.5 620 1586.5 564 1587.5 562 1587.5 610 1588.5 659 1588.5 559 1589.5 536 1589.5 623 1590.5 698 1590.5 541 1591.5 613 1591.5 665 1592.5 695 1592.5 600 1593.5 671 1593.5 502 1594.5 514 1594.5 599 1595.5 626 1595.5 557 1596.5 575 1596.5 606 1597.5 692 1597.5 519 1598.5 530 1598.5 643 1599.5 640 1599.5 542 1600.5 521 1600.5 662 1601.5 613 1601.5 553 1602.5 535 1602.5 577 1603.5 570 1603.5 511 1604.5 540 1604.5 623 1605.5 570 1605.5 551 1606.5 556 1606.5 611 1607.5 629 1607.5 562 1608.5 550 1608.5 612 1609.5 608 1609.5 543 1610.5 559 1610.5 631 1611.5 607 1611.5 540 1612.5 548 1612.5 647 1613.5 686 1613.5 602 1614.5 585 1614.5 622 1615.5 670 1615.5 535 1616.5 564 1616.5 635 1617.5 632 1617.5 613 1618.5 615 1618.5 647 1619.5 611 1619.5 688 1620.5 629 1620.5 589 1621.5 628 1621.5 659 1622.5 632 1622.5 583 1623.5 526 1623.5 668 1624.5 656 1624.5 582 1625.5 597 1625.5 664 1626.5 661 1626.5 603 1627.5 614 1627.5 581 1628.5 561 1628.5 645 1629.5 620 1629.5 562 1630.5 555 1630.5 628 1631.5 630 1631.5 568 1632.5 557 1632.5 627 1633.5 616 1633.5 563 1634.5 555 1634.5 603 1635.5 559 1635.5 690 1636.5 612 1636.5 554 1637.5 588 1637.5 647 1638.5 639 1638.5 552 1639.5 572 1639.5 668 1640.5 681 1640.5 558 1641.5 593 1641.5 703 1642.5 621 1642.5 572 1643.5 554 1643.5 628 1644.5 647 1644.5 580 1645.5 570 1645.5 680 1646.5 647 1646.5 578 1647.5 603 1647.5 720 1648.5 643 1648.5 616 1649.5 623 1649.5 724 1650.5 670 1650.5 619 1651.5 578 1651.5 670 1652.5 702 1652.5 606 1653.5 571 1653.5 671 1654.5 668 1654.5 587 1655.5 663 1655.5 511 1656.5 568 1656.5 612 1657.5 647 1657.5 561 1658.5 584 1658.5 633 1659.5 644 1659.5 503 1660.5 548 1660.5 620 1661.5 637 1661.5 549 1662.5 548 1662.5 594 1663.5 603 1663.5 558 1664.5 585 1664.5 518 1665.5 567 1665.5 636 1666.5 616 1666.5 514 1667.5 572 1667.5 616 1668.5 578 1668.5 692 1669.5 598 1669.5 559 1670.5 539 1670.5 611 1671.5 596 1671.5 535 1672.5 489 1672.5 607 1673.5 576 1673.5 492 1674.5 513 1674.5 606 1675.5 586 1675.5 553 1676.5 588 1676.5 508 1677.5 529 1677.5 629 1678.5 594 1678.5 512 1679.5 521 1679.5 617 1680.5 611 1680.5 564 1681.5 591 1681.5 473 1682.5 499 1682.5 564 1683.5 591 1683.5 509 1684.5 459 1684.5 618 1685.5 570 1685.5 499 1686.5 498 1686.5 592 1687.5 592 1687.5 509 1688.5 561 1688.5 630 1689.5 593 1689.5 521 1690.5 523 1690.5 604 1691.5 593 1691.5 535 1692.5 534 1692.5 576 1693.5 564 1693.5 528 1694.5 516 1694.5 622 1695.5 569 1695.5 546 1696.5 531 1696.5 568 1697.5 557 1697.5 490 1698.5 475 1698.5 559 1699.5 595 1699.5 451 1700.5 496 1700.5 610 1701.5 545 1701.5 503 1702.5 471 1702.5 576 1703.5 555 1703.5 508 1704.5 511 1704.5 559 1705.5 582 1705.5 519 1706.5 560 1706.5 466 1707.5 515 1707.5 574 1708.5 611 1708.5 518 1709.5 517 1709.5 581 1710.5 592 1710.5 522 1711.5 525 1711.5 608 1712.5 592 1712.5 562 1713.5 574 1713.5 522 1714.5 527 1714.5 611 1715.5 597 1715.5 495 1716.5 504 1716.5 574 1717.5 608 1717.5 502 1718.5 449 1718.5 558 1719.5 559 1719.5 522 1720.5 533 1720.5 485 1721.5 516 1721.5 597 1722.5 587 1722.5 526 1723.5 533 1723.5 620 1724.5 610 1724.5 529 1725.5 534 1725.5 566 1726.5 542 1726.5 604 1727.5 625 1727.5 552 1728.5 539 1728.5 596 1729.5 591 1729.5 547 1730.5 521 1730.5 593 1731.5 569 1731.5 481 1732.5 442 1732.5 559 1733.5 594 1733.5 419 1734.5 487 1734.5 557 1735.5 582 1735.5 499 1736.5 493 1736.5 545 1737.5 543 1737.5 500 1738.5 512 1738.5 530 1739.5 543 1739.5 390 1740.5 464 1740.5 604 1741.5 636 1741.5 497 1742.5 469 1742.5 559 1743.5 533 1743.5 635 1744.5 554 1744.5 485 1745.5 460 1745.5 585 1746.5 588 1746.5 503 1747.5 519 1747.5 477 1748.5 486 1748.5 586 1749.5 593 1749.5 450 1750.5 500 1750.5 569 1751.5 551 1751.5 403 1752.5 500 1752.5 601 1753.5 567 1753.5 526 1754.5 590 1754.5 461 1755.5 472 1755.5 541 1756.5 562 1756.5 486 1757.5 470 1757.5 548 1758.5 556 1758.5 486 1759.5 533 1759.5 564 1760.5 530 1760.5 608 1761.5 600 1761.5 538 1762.5 530 1762.5 575 1763.5 586 1763.5 526 1764.5 515 1764.5 628 1765.5 569 1765.5 533 1766.5 542 1766.5 563 1767.5 581 1767.5 528 1768.5 506 1768.5 597 1769.5 578 1769.5 542 1770.5 524 1770.5 566 1771.5 570 1771.5 521 1772.5 515 1772.5 572 1773.5 590 1773.5 542 1774.5 555 1774.5 626 1775.5 583 1775.5 534 1776.5 539 1776.5 584 1777.5 574 1777.5 526 1778.5 507 1778.5 554 1779.5 537 1779.5 571 1780.5 590 1780.5 530 1781.5 537 1781.5 579 1782.5 569 1782.5 507 1783.5 506 1783.5 644 1784.5 595 1784.5 542 1785.5 546 1785.5 566 1786.5 509 1786.5 635 1787.5 605 1787.5 549 1788.5 544 1788.5 645 1789.5 594 1789.5 547 1790.5 526 1790.5 583 1791.5 628 1791.5 534 1792.5 541 1792.5 612 1793.5 615 1793.5 556 1794.5 623 1794.5 488 1795.5 537 1795.5 598 1796.5 632 1796.5 501 1797.5 547 1797.5 648 1798.5 658 1798.5 576 1799.5 600 1799.5 667 1800.5 647 1800.5 600 1801.5 598 1801.5 575 1802.5 582 1802.5 622 1803.5 603 1803.5 515 1804.5 489 1804.5 587 1805.5 611 1805.5 475 1806.5 577 1806.5 665 1807.5 671 1807.5 573 1808.5 551 1808.5 598 1809.5 560 1809.5 636 1810.5 603 1810.5 488 1811.5 502 1811.5 586 1812.5 595 1812.5 554 1813.5 521 1813.5 644 1814.5 552 1814.5 522 1815.5 507 1815.5 572 1816.5 557 1816.5 464 1817.5 501 1817.5 582 1818.5 605 1818.5 490 1819.5 539 1819.5 618 1820.5 551 1820.5 476 1821.5 517 1821.5 594 1822.5 563 1822.5 502 1823.5 487 1823.5 598 1824.5 547 1824.5 472 1825.5 519 1825.5 622 1826.5 611 1826.5 552 1827.5 547 1827.5 563 1828.5 560 1828.5 584 1829.5 619 1829.5 547 1830.5 532 1830.5 595 1831.5 580 1831.5 469 1832.5 480 1832.5 597 1833.5 577 1833.5 558 1834.5 526 1834.5 596 1835.5 617 1835.5 551 1836.5 580 1836.5 482 1837.5 521 1837.5 587 1838.5 594 1838.5 486 1839.5 535 1839.5 624 1840.5 590 1840.5 514 1841.5 540 1841.5 636 1842.5 626 1842.5 429 1843.5 520 1843.5 573 1844.5 559 1844.5 478 1845.5 507 1845.5 541 1846.5 583 1846.5 454 1847.5 528 1847.5 627 1848.5 591 1848.5 522 1849.5 521 1849.5 572 1850.5 578 1850.5 522 1851.5 548 1851.5 437 1852.5 479 1852.5 592 1853.5 539 1853.5 460 1854.5 475 1854.5 560 1855.5 563 1855.5 508 1856.5 527 1856.5 611 1857.5 579 1857.5 511 1858.5 530 1858.5 594 1859.5 583 1859.5 459 1860.5 455 1860.5 563 1861.5 539 1861.5 507 1862.5 469 1862.5 606 1863.5 521 1863.5 482 1864.5 498 1864.5 530 1865.5 499 1865.5 588 1866.5 555 1866.5 491 1867.5 480 1867.5 546 1868.5 574 1868.5 482 1869.5 506 1869.5 605 1870.5 613 1870.5 543 1871.5 581 1871.5 473 1872.5 492 1872.5 627 1873.5 597 1873.5 518 1874.5 436 1874.5 610 1875.5 576 1875.5 495 1876.5 541 1876.5 607 1877.5 576 1877.5 545 1878.5 551 1878.5 594 1879.5 632 1879.5 550 1880.5 537 1880.5 622 1881.5 606 1881.5 505 1882.5 544 1882.5 567 1883.5 534 1883.5 641 1884.5 584 1884.5 531 1885.5 537 1885.5 573 1886.5 575 1886.5 502 1887.5 541 1887.5 581 1888.5 589 1888.5 556 1889.5 575 1889.5 522 1890.5 522 1890.5 563 1891.5 558 1891.5 526 1892.5 537 1892.5 564 1893.5 572 1893.5 491 1894.5 525 1894.5 555 1895.5 540 1895.5 583 1896.5 582 1896.5 514 1897.5 524 1897.5 583 1898.5 562 1898.5 521 1899.5 506 1899.5 574 1900.5 568 1900.5 509 1901.5 517 1901.5 566 1902.5 583 1902.5 479 1903.5 500 1903.5 562 1904.5 609 1904.5 506 1905.5 520 1905.5 571 1906.5 573 1906.5 542 1907.5 547 1907.5 619 1908.5 572 1908.5 525 1909.5 507 1909.5 573 1910.5 573 1910.5 542 1911.5 530 1911.5 605 1912.5 599 1912.5 543 1913.5 543 1913.5 614 1914.5 622 1914.5 539 1915.5 517 1915.5 601 1916.5 555 1916.5 523 1917.5 537 1917.5 560 1918.5 552 1918.5 505 1919.5 492 1919.5 563 1920.5 532 1920.5 475 1921.5 480 1921.5 528 1922.5 517 1922.5 414 1923.5 482 1923.5 523 1924.5 546 1924.5 470 1925.5 500 1925.5 579 1926.5 572 1926.5 512 1927.5 507 1927.5 561 1928.5 556 1928.5 592 1929.5 619 1929.5 481 1930.5 532 1930.5 587 1931.5 575 1931.5 490 1932.5 533 1932.5 593 1933.5 564 1933.5 515 1934.5 542 1934.5 476 1935.5 485 1935.5 550 1936.5 540 1936.5 510 1937.5 501 1937.5 558 1938.5 545 1938.5 523 1939.5 510 1939.5 602 1940.5 594 1940.5 523 1941.5 515 1941.5 561 1942.5 574 1942.5 519 1943.5 532 1943.5 579 1944.5 542 1944.5 510 1945.5 514 1945.5 560 1946.5 533 1946.5 515 1947.5 521 1947.5 606 1948.5 554 1948.5 523 1949.5 515 1949.5 547 1950.5 560 1950.5 524 1951.5 515 1951.5 540 1952.5 556 1952.5 502 1953.5 518 1953.5 560 1954.5 575 1954.5 531 1955.5 539 1955.5 595 1956.5 610 1956.5 512 1957.5 542 1957.5 605 1958.5 573 1958.5 524 1959.5 541 1959.5 581 1960.5 595 1960.5 534 1961.5 519 1961.5 589 1962.5 580 1962.5 539 1963.5 510 1963.5 607 1964.5 590 1964.5 497 1965.5 537 1965.5 573 1966.5 532 1966.5 463 1967.5 520 1967.5 580 1968.5 582 1968.5 500 1969.5 520 1969.5 558 1970.5 578 1970.5 447 1971.5 531 1971.5 577 1972.5 541 1972.5 526 1973.5 493 1973.5 581 1974.5 567 1974.5 506 1975.5 496 1975.5 536 1976.5 550 1976.5 461 1977.5 461 1977.5 583 1978.5 568 1978.5 471 1979.5 482 1979.5 570 1980.5 535 1980.5 467 1981.5 509 1981.5 552 1982.5 532 1982.5 491 1983.5 499 1983.5 554 1984.5 537 1984.5 444 1985.5 498 1985.5 555 1986.5 477 1986.5 477" fill="none" stroke="#ff4040" stroke-width="5.5" stroke-linejoin="round" stroke-linecap="round" shape-rendering="crispEdges"/><path d="M392.5 1250L392.5 1250 392.5 1184 393.5 1183 393.5 1055 394.5 1057 394.5 1004 395.5 1034 395.5 944 396.5 960 396.5 903 397.5 889 397.5 964 398.5 901 398.5 865 399.5 857 399.5 903 400.5 880 400.5 832 401.5 854 401.5 879 402.5 871 402.5 838 403.5 824 403.5 869 404.5 873 404.5 843 405.5 835 405.5 864 406.5 866 406.5 839 407.5 856 407.5 809 408.5 831 408.5 866 409.5 851 409.5 800 410.5 803 410.5 868 411.5 877 411.5 825 412.5 786 412.5 885 413.5 860 413.5 793 414.5 805 414.5 878 415.5 913 415.5 825 416.5 821 416.5 857 417.5 860 417.5 820 418.5 812 418.5 861 419.5 872 419.5 720 420.5 818 420.5 882 421.5 881 421.5 843 422.5 836 422.5 926 423.5 901 423.5 820 424.5 816 424.5 868 425.5 923 425.5 782 426.5 813 426.5 874 427.5 856 427.5 795 428.5 781 428.5 870 429.5 854 429.5 752 430.5 765 430.5 815 431.5 791 431.5 874 432.5 848 432.5 773 433.5 756 433.5 857 434.5 865 434.5 823 435.5 833 435.5 919 436.5 876 436.5 831 437.5 816 437.5 851 438.5 875 438.5 821 439.5 826 439.5 870 440.5 840 440.5 817 441.5 788 441.5 855 442.5 859 442.5 773 443.5 723 443.5 838 444.5 823 444.5 775 445.5 799 445.5 838 446.5 804 446.5 703 447.5 770 447.5 821 448.5 855 448.5 737 449.5 774 449.5 813 450.5 841 450.5 760 451.5 775 451.5 847 452.5 821 452.5 752 453.5 753 453.5 825 454.5 850 454.5 766 455.5 767 455.5 816 456.5 777 456.5 871 457.5 856 457.5 778 458.5 780 458.5 814 459.5 777 459.5 870 460.5 826 460.5 745 461.5 762 461.5 811 462.5 802 462.5 749 463.5 766 463.5 679 464.5 744 464.5 768 465.5 767 465.5 715 466.5 730 466.5 795 467.5 808 467.5 733 468.5 717 468.5 756 469.5 723 469.5 652 470.5 697 470.5 752 471.5 779 471.5 709 472.5 745 472.5 778 473.5 775 473.5 721 474.5 657 474.5 820 475.5 765 475.5 715 476.5 738 476.5 665 477.5 691 477.5 777 478.5 751 478.5 682 479.5 724 479.5 818 480.5 742 480.5 706 481.5 724 481.5 750 482.5 718 482.5 686 483.5 666 483.5 751 484.5 738 484.5 659 485.5 674 485.5 725 486.5 693 486.5 816 487.5 750 487.5 687 488.5 667 488.5 765 489.5 741 489.5 693 490.5 668 490.5 772 491.5 750 491.5 696 492.5 666 492.5 789 493.5 735 493.5 691 494.5 689 494.5 777 495.5 806 495.5 671 496.5 660 496.5 726 497.5 786 497.5 655 498.5 658 498.5 703 499.5 663 499.5 749 500.5 750 500.5 702 501.5 687 501.5 773 502.5 739 502.5 695 503.5 668 503.5 728 504.5 715 504.5 670 505.5 682 505.5 762 506.5 705 506.5 641 507.5 666 507.5 725 508.5 698 508.5 675 509.5 675 509.5 703 510.5 767 510.5 609 511.5 679 511.5 749 512.5 696 512.5 651 513.5 665 513.5 687 514.5 706 514.5 661 515.5 638 515.5 751 516.5 715 516.5 661 517.5 684 517.5 620 518.5 662 518.5 711 519.5 704 519.5 657 520.5 643 520.5 687 521.5 674 521.5 732 522.5 716 522.5 680 523.5 670 523.5 751 524.5 715 524.5 669 525.5 685 525.5 704 526.5 697 526.5 653 527.5 669 527.5 696 528.5 690 528.5 640 529.5 667 529.5 711 530.5 702 530.5 646 531.5 677 531.5 718 532.5 739 532.5 636 533.5 670 533.5 714 534.5 699 534.5 636 535.5 653 535.5 704 536.5 686 536.5 753 537.5 708 537.5 650 538.5 671 538.5 726 539.5 728 539.5 686 540.5 709 540.5 639 541.5 673 541.5 706 542.5 685 542.5 733 543.5 723 543.5 700 544.5 728 544.5 622 545.5 686 545.5 724 546.5 731 546.5 709 547.5 686 547.5 734 548.5 740 548.5 691 549.5 633 549.5 758 550.5 716 550.5 627 551.5 647 551.5 726 552.5 674 552.5 633 553.5 639 553.5 687 554.5 691 554.5 660 555.5 682 555.5 637 556.5 643 556.5 692 557.5 703 557.5 649 558.5 660 558.5 698 559.5 699 559.5 644 560.5 669 560.5 687 561.5 707 561.5 663 562.5 643 562.5 690 563.5 696 563.5 653 564.5 651 564.5 687 565.5 700 565.5 657 566.5 689 566.5 711 567.5 717 567.5 672 568.5 672 568.5 699 569.5 690 569.5 672 570.5 680 570.5 722 571.5 713 571.5 661 572.5 696 572.5 705 573.5 722 573.5 671 574.5 697 574.5 641 575.5 654 575.5 701 576.5 719 576.5 676 577.5 681 577.5 701 578.5 699 578.5 666 579.5 663 579.5 711 580.5 703 580.5 660 581.5 653 581.5 721 582.5 721 582.5 685 583.5 706 583.5 663 584.5 689 584.5 728 585.5 735 585.5 653 586.5 705 586.5 737 587.5 736 587.5 644 588.5 639 588.5 737 589.5 728 589.5 650 590.5 666 590.5 721 591.5 711 591.5 673 592.5 695 592.5 762 593.5 711 593.5 671 594.5 688 594.5 748 595.5 727 595.5 665 596.5 683 596.5 714 597.5 736 597.5 685 598.5 674 598.5 753 599.5 713 599.5 684 600.5 689 600.5 726 601.5 723 601.5 690 602.5 687 602.5 744 603.5 757 603.5 683 604.5 674 604.5 743 605.5 766 605.5 687 606.5 681 606.5 752 607.5 739 607.5 689 608.5 705 608.5 749 609.5 766 609.5 652 610.5 654 610.5 717 611.5 707 611.5 662 612.5 680 612.5 733 613.5 737 613.5 688 614.5 705 614.5 721 615.5 717 615.5 684 616.5 693 616.5 736 617.5 711 617.5 666 618.5 686 618.5 715 619.5 688 619.5 746 620.5 710 620.5 674 621.5 655 621.5 738 622.5 707 622.5 673 623.5 684 623.5 725 624.5 719 624.5 638 625.5 692 625.5 747 626.5 725 626.5 685 627.5 687 627.5 645 628.5 672 628.5 722 629.5 709 629.5 660 630.5 703 630.5 777 631.5 725 631.5 687 632.5 692 632.5 734 633.5 735 633.5 665 634.5 673 634.5 744 635.5 731 635.5 696 636.5 709 636.5 750 637.5 713 637.5 790 638.5 723 638.5 696 639.5 707 639.5 766 640.5 736 640.5 714 641.5 700 641.5 748 642.5 766 642.5 704 643.5 704 643.5 730 644.5 732 644.5 687 645.5 742 645.5 632 646.5 643 646.5 710 647.5 738 647.5 671 648.5 675 648.5 740 649.5 740 649.5 652 650.5 665 650.5 594 651.5 676 651.5 741 652.5 734 652.5 628 653.5 709 653.5 760 654.5 714 654.5 673 655.5 716 655.5 539 656.5 640 656.5 726 657.5 712 657.5 664 658.5 680 658.5 730 659.5 717 659.5 654 660.5 660 660.5 723 661.5 718 661.5 653 662.5 670 662.5 751 663.5 739 663.5 699 664.5 699 664.5 748 665.5 719 665.5 667 666.5 672 666.5 754 667.5 684 667.5 597 668.5 628 668.5 707 669.5 722 669.5 679 670.5 671 670.5 712 671.5 697 671.5 646 672.5 642 672.5 714 673.5 735 673.5 667 674.5 677 674.5 733 675.5 750 675.5 668 676.5 655 676.5 700 677.5 723 677.5 646 678.5 660 678.5 757 679.5 701 679.5 652 680.5 620 680.5 695 681.5 667 681.5 642 682.5 635 682.5 686 683.5 671 683.5 718 684.5 689 684.5 646 685.5 646 685.5 722 686.5 709 686.5 680 687.5 643 687.5 717 688.5 701 688.5 633 689.5 671 689.5 722 690.5 751 690.5 676 691.5 693 691.5 655 692.5 628 692.5 696 693.5 701 693.5 637 694.5 682 694.5 748 695.5 700 695.5 660 696.5 655 696.5 692 697.5 668 697.5 732 698.5 740 698.5 655 699.5 643 699.5 684 700.5 703 700.5 634 701.5 655 701.5 690 702.5 706 702.5 646 703.5 641 703.5 687 704.5 729 704.5 642 705.5 654 705.5 692 706.5 695 706.5 711 707.5 722 707.5 693 708.5 713 708.5 661 709.5 657 709.5 762 710.5 714 710.5 649 711.5 670 711.5 693 712.5 700 712.5 670 713.5 707 713.5 628 714.5 687 714.5 704 715.5 710 715.5 669 716.5 661 716.5 724 717.5 722 717.5 665 718.5 693 718.5 738 719.5 743 719.5 689 720.5 679 720.5 745 721.5 732 721.5 682 722.5 647 722.5 774 723.5 749 723.5 692 724.5 691 724.5 644 725.5 670 725.5 699 726.5 679 726.5 734 727.5 712 727.5 628 728.5 620 728.5 726 729.5 689 729.5 653 730.5 635 730.5 748 731.5 723 731.5 635 732.5 690 732.5 709 733.5 669 733.5 761 734.5 736 734.5 672 735.5 658 735.5 721 736.5 739 736.5 656 737.5 674 737.5 726 738.5 730 738.5 695 739.5 693 739.5 730 740.5 767 740.5 660 741.5 651 741.5 714 742.5 687 742.5 622 743.5 662 743.5 700 744.5 716 744.5 671 745.5 687 745.5 646 746.5 632 746.5 694 747.5 687 747.5 557 748.5 651 748.5 730 749.5 738 749.5 669 750.5 674 750.5 747 751.5 720 751.5 677 752.5 688 752.5 707 753.5 736 753.5 616 754.5 654 754.5 702 755.5 702 755.5 667 756.5 665 756.5 693 757.5 693 757.5 666 758.5 653 758.5 687 759.5 702 759.5 653 760.5 651 760.5 703 761.5 661 761.5 648 762.5 642 762.5 672 763.5 666 763.5 606 764.5 633 764.5 657 765.5 655 765.5 606 766.5 617 766.5 697 767.5 694 767.5 622 768.5 649 768.5 593 769.5 614 769.5 681 770.5 675 770.5 631 771.5 623 771.5 701 772.5 673 772.5 626 773.5 624 773.5 658 774.5 687 774.5 597 775.5 618 775.5 664 776.5 683 776.5 593 777.5 591 777.5 680 778.5 644 778.5 592 779.5 578 779.5 643 780.5 630 780.5 577 781.5 598 781.5 661 782.5 651 782.5 577 783.5 586 783.5 683 784.5 629 784.5 601 785.5 575 785.5 650 786.5 633 786.5 599 787.5 609 787.5 679 788.5 685 788.5 589 789.5 581 789.5 627 790.5 650 790.5 591 791.5 569 791.5 652 792.5 655 792.5 580 793.5 575 793.5 656 794.5 641 794.5 505 795.5 583 795.5 602 796.5 617 796.5 583 797.5 556 797.5 657 798.5 632 798.5 542 799.5 584 799.5 658 800.5 658 800.5 614 801.5 607 801.5 693 802.5 663 802.5 619 803.5 623 803.5 595 804.5 578 804.5 656 805.5 623 805.5 590 806.5 543 806.5 681 807.5 659 807.5 593 808.5 540 808.5 649 809.5 649 809.5 605 810.5 554 810.5 666 811.5 695 811.5 591 812.5 630 812.5 721 813.5 706 813.5 648 814.5 635 814.5 683 815.5 669 815.5 630 816.5 619 816.5 690 817.5 688 817.5 631 818.5 607 818.5 678 819.5 710 819.5 636 820.5 672 820.5 579 821.5 637 821.5 666 822.5 674 822.5 650 823.5 677 823.5 601 824.5 610 824.5 663 825.5 658 825.5 614 826.5 643 826.5 694 827.5 704 827.5 637 828.5 638 828.5 695 829.5 688 829.5 650 830.5 651 830.5 681 831.5 697 831.5 656 832.5 617 832.5 741 833.5 689 833.5 668 834.5 658 834.5 687 835.5 685 835.5 642 836.5 649 836.5 709 837.5 696 837.5 636 838.5 588 838.5 725 839.5 692 839.5 653 840.5 662 840.5 701 841.5 676 841.5 621 842.5 626 842.5 681 843.5 705 843.5 623 844.5 616 844.5 676 845.5 661 845.5 602 846.5 576 846.5 668 847.5 693 847.5 617 848.5 655 848.5 707 849.5 699 849.5 617 850.5 635 850.5 699 851.5 694 851.5 634 852.5 686 852.5 773 853.5 709 853.5 624 854.5 638 854.5 713 855.5 756 855.5 627 856.5 640 856.5 701 857.5 703 857.5 650 858.5 666 858.5 739 859.5 700 859.5 643 860.5 672 860.5 739 861.5 730 861.5 672 862.5 662 862.5 721 863.5 686 863.5 639 864.5 654 864.5 721 865.5 681 865.5 622 866.5 614 866.5 682 867.5 641 867.5 738 868.5 722 868.5 685 869.5 692 869.5 721 870.5 747 870.5 622 871.5 680 871.5 718 872.5 755 872.5 642 873.5 624 873.5 685 874.5 739 874.5 626 875.5 625 875.5 668 876.5 660 876.5 636 877.5 657 877.5 612 878.5 599 878.5 665 879.5 629 879.5 701 880.5 709 880.5 614 881.5 632 881.5 686 882.5 706 882.5 634 883.5 644 883.5 690 884.5 709 884.5 641 885.5 643 885.5 709 886.5 711 886.5 633 887.5 658 887.5 688 888.5 674 888.5 731 889.5 682 889.5 654 890.5 635 890.5 701 891.5 698 891.5 612 892.5 649 892.5 689 893.5 680 893.5 649 894.5 660 894.5 698 895.5 670 895.5 627 896.5 643 896.5 677 897.5 681 897.5 657 898.5 668 898.5 692 899.5 712 899.5 653 900.5 678 900.5 712 901.5 729 901.5 660 902.5 674 902.5 707 903.5 702 903.5 657 904.5 675 904.5 637 905.5 619 905.5 719 906.5 684 906.5 645 907.5 635 907.5 685 908.5 717 908.5 599 909.5 612 909.5 650 910.5 617 910.5 698 911.5 648 911.5 581 912.5 609 912.5 688 913.5 687 913.5 620 914.5 666 914.5 718 915.5 690 915.5 624 916.5 601 916.5 680 917.5 688 917.5 637 918.5 622 918.5 689 919.5 652 919.5 597 920.5 567 920.5 653 921.5 641 921.5 544 922.5 582 922.5 624 923.5 656 923.5 577 924.5 528 924.5 675 925.5 639 925.5 542 926.5 472 926.5 615 927.5 598 927.5 643 928.5 673 928.5 595 929.5 657 929.5 506 930.5 568 930.5 624 931.5 642 931.5 530 932.5 603 932.5 664 933.5 675 933.5 581 934.5 574 934.5 636 935.5 629 935.5 519 936.5 470 936.5 584 937.5 565 937.5 649 938.5 586 938.5 538 939.5 563 939.5 678 940.5 650 940.5 486 941.5 561 941.5 619 942.5 570 942.5 670 943.5 630 943.5 500 944.5 498 944.5 629 945.5 641 945.5 552 946.5 552 946.5 633 947.5 648 947.5 555 948.5 595 948.5 676 949.5 627 949.5 594 950.5 568 950.5 666 951.5 721 951.5 583 952.5 608 952.5 678 953.5 631 953.5 566 954.5 545 954.5 653 955.5 608 955.5 553 956.5 547 956.5 666 957.5 666 957.5 607 958.5 618 958.5 464 959.5 590 959.5 667 960.5 720 960.5 598 961.5 620 961.5 561 962.5 520 962.5 642 963.5 606 963.5 565 964.5 565 964.5 607 965.5 562 965.5 660 966.5 635 966.5 574 967.5 579 967.5 660 968.5 628 968.5 594 969.5 589 969.5 647 970.5 679 970.5 589 971.5 538 971.5 654 972.5 613 972.5 549 973.5 574 973.5 606 974.5 598 974.5 566 975.5 548 975.5 654 976.5 605 976.5 536 977.5 552 977.5 618 978.5 662 978.5 531 979.5 563 979.5 609 980.5 617 980.5 559 981.5 593 981.5 620 982.5 637 982.5 590 983.5 588 983.5 633 984.5 623 984.5 555 985.5 553 985.5 597 986.5 575 986.5 630 987.5 633 987.5 561 988.5 623 988.5 634 989.5 631 989.5 552 990.5 580 990.5 591 991.5 564 991.5 623 992.5 616 992.5 567 993.5 534 993.5 622 994.5 618 994.5 601 995.5 579 995.5 627 996.5 633 996.5 601 997.5 627 997.5 571 998.5 586 998.5 649 999.5 647 999.5 584 1000.5 605 1000.5 649 1001.5 654 1001.5 586 1002.5 565 1002.5 638 1003.5 673 1003.5 585 1004.5 588 1004.5 639 1005.5 646 1005.5 575 1006.5 594 1006.5 659 1007.5 646 1007.5 594 1008.5 577 1008.5 685 1009.5 628 1009.5 594 1010.5 613 1010.5 686 1011.5 664 1011.5 632 1012.5 659 1012.5 605 1013.5 614 1013.5 659 1014.5 651 1014.5 607 1015.5 588 1015.5 651 1016.5 650 1016.5 619 1017.5 595 1017.5 653 1018.5 650 1018.5 630 1019.5 615 1019.5 650 1020.5 654 1020.5 621 1021.5 622 1021.5 669 1022.5 652 1022.5 636 1023.5 627 1023.5 655 1024.5 642 1024.5 696 1025.5 677 1025.5 631 1026.5 650 1026.5 666 1027.5 649 1027.5 696 1028.5 663 1028.5 635 1029.5 646 1029.5 698 1030.5 651 1030.5 639 1031.5 649 1031.5 625 1032.5 600 1032.5 661 1033.5 631 1033.5 570 1034.5 581 1034.5 624 1035.5 627 1035.5 561 1036.5 604 1036.5 648 1037.5 646 1037.5 622 1038.5 645 1038.5 595 1039.5 600 1039.5 632 1040.5 633 1040.5 579 1041.5 598 1041.5 649 1042.5 632 1042.5 582 1043.5 594 1043.5 642 1044.5 635 1044.5 573 1045.5 556 1045.5 648 1046.5 621 1046.5 594 1047.5 588 1047.5 620 1048.5 601 1048.5 673 1049.5 648 1049.5 609 1050.5 617 1050.5 655 1051.5 670 1051.5 633 1052.5 627 1052.5 658 1053.5 655 1053.5 628 1054.5 639 1054.5 603 1055.5 614 1055.5 648 1056.5 658 1056.5 588 1057.5 615 1057.5 670 1058.5 660 1058.5 641 1059.5 628 1059.5 686 1060.5 685 1060.5 643 1061.5 626 1061.5 673 1062.5 662 1062.5 651 1063.5 640 1063.5 668 1064.5 666 1064.5 621 1065.5 607 1065.5 671 1066.5 662 1066.5 611 1067.5 626 1067.5 655 1068.5 607 1068.5 706 1069.5 652 1069.5 588 1070.5 609 1070.5 644 1071.5 613 1071.5 681 1072.5 655 1072.5 551 1073.5 591 1073.5 639 1074.5 661 1074.5 600 1075.5 651 1075.5 536 1076.5 597 1076.5 648 1077.5 635 1077.5 458 1078.5 518 1078.5 629 1079.5 600 1079.5 661 1080.5 639 1080.5 572 1081.5 576 1081.5 619 1082.5 644 1082.5 567 1083.5 572 1083.5 641 1084.5 615 1084.5 526 1085.5 600 1085.5 614 1086.5 583 1086.5 549 1087.5 567 1087.5 648 1088.5 633 1088.5 577 1089.5 601 1089.5 668 1090.5 665 1090.5 623 1091.5 626 1091.5 673 1092.5 659 1092.5 626 1093.5 612 1093.5 652 1094.5 620 1094.5 704 1095.5 644 1095.5 628 1096.5 630 1096.5 667 1097.5 656 1097.5 571 1098.5 624 1098.5 649 1099.5 606 1099.5 708 1100.5 674 1100.5 588 1101.5 609 1101.5 662 1102.5 685 1102.5 626 1103.5 625 1103.5 732 1104.5 721 1104.5 606 1105.5 622 1105.5 676 1106.5 667 1106.5 550 1107.5 573 1107.5 628 1108.5 553 1108.5 735 1109.5 669 1109.5 605 1110.5 637 1110.5 553 1111.5 596 1111.5 638 1112.5 702 1112.5 551 1113.5 577 1113.5 637 1114.5 629 1114.5 512 1115.5 578 1115.5 615 1116.5 603 1116.5 639 1117.5 700 1117.5 557 1118.5 552 1118.5 652 1119.5 622 1119.5 573 1120.5 565 1120.5 631 1121.5 644 1121.5 555 1122.5 555 1122.5 640 1123.5 632 1123.5 548 1124.5 537 1124.5 570 1125.5 573 1125.5 493 1126.5 499 1126.5 579 1127.5 612 1127.5 513 1128.5 554 1128.5 620 1129.5 618 1129.5 542 1130.5 555 1130.5 609 1131.5 653 1131.5 550 1132.5 559 1132.5 654 1133.5 672 1133.5 561 1134.5 578 1134.5 597 1135.5 620 1135.5 545 1136.5 552 1136.5 633 1137.5 683 1137.5 579 1138.5 614 1138.5 671 1139.5 681 1139.5 596 1140.5 642 1140.5 544 1141.5 556 1141.5 584 1142.5 583 1142.5 555 1143.5 530 1143.5 595 1144.5 610 1144.5 539 1145.5 535 1145.5 599 1146.5 583 1146.5 547 1147.5 519 1147.5 652 1148.5 592 1148.5 530 1149.5 542 1149.5 660 1150.5 601 1150.5 582 1151.5 630 1151.5 534 1152.5 597 1152.5 630 1153.5 597 1153.5 559 1154.5 554 1154.5 609 1155.5 591 1155.5 628 1156.5 640 1156.5 538 1157.5 510 1157.5 593 1158.5 550 1158.5 659 1159.5 603 1159.5 557 1160.5 544 1160.5 612 1161.5 604 1161.5 581 1162.5 568 1162.5 692 1163.5 623 1163.5 570 1164.5 534 1164.5 657 1165.5 615 1165.5 469 1166.5 538 1166.5 585 1167.5 540 1167.5 650 1168.5 632 1168.5 573 1169.5 569 1169.5 723 1170.5 676 1170.5 512 1171.5 512 1171.5 606 1172.5 612 1172.5 510 1173.5 578 1173.5 659 1174.5 679 1174.5 548 1175.5 548 1175.5 618 1176.5 632 1176.5 548 1177.5 561 1177.5 658 1178.5 654 1178.5 611 1179.5 571 1179.5 697 1180.5 659 1180.5 600 1181.5 617 1181.5 577 1182.5 583 1182.5 662 1183.5 653 1183.5 584 1184.5 563 1184.5 619 1185.5 619 1185.5 586 1186.5 551 1186.5 624 1187.5 627 1187.5 543 1188.5 602 1188.5 651 1189.5 649 1189.5 575 1190.5 585 1190.5 648 1191.5 651 1191.5 562 1192.5 605 1192.5 648 1193.5 637 1193.5 716 1194.5 689 1194.5 623 1195.5 620 1195.5 660 1196.5 660 1196.5 618 1197.5 649 1197.5 723 1198.5 667 1198.5 587 1199.5 630 1199.5 667 1200.5 679 1200.5 629 1201.5 610 1201.5 663 1202.5 665 1202.5 620 1203.5 610 1203.5 666 1204.5 632 1204.5 710 1205.5 648 1205.5 603 1206.5 605 1206.5 659 1207.5 622 1207.5 584 1208.5 595 1208.5 660 1209.5 638 1209.5 601 1210.5 609 1210.5 640 1211.5 661 1211.5 608 1212.5 598 1212.5 647 1213.5 625 1213.5 693 1214.5 655 1214.5 615 1215.5 633 1215.5 659 1216.5 699 1216.5 603 1217.5 634 1217.5 682 1218.5 674 1218.5 624 1219.5 650 1219.5 708 1220.5 666 1220.5 633 1221.5 654 1221.5 585 1222.5 565 1222.5 654 1223.5 662 1223.5 614 1224.5 620 1224.5 669 1225.5 688 1225.5 618 1226.5 615 1226.5 634 1227.5 638 1227.5 581 1228.5 586 1228.5 631 1229.5 622 1229.5 556 1230.5 571 1230.5 647 1231.5 637 1231.5 532 1232.5 568 1232.5 635 1233.5 622 1233.5 587 1234.5 592 1234.5 638 1235.5 623 1235.5 562 1236.5 532 1236.5 659 1237.5 653 1237.5 621 1238.5 601 1238.5 684 1239.5 672 1239.5 569 1240.5 583 1240.5 661 1241.5 671 1241.5 626 1242.5 625 1242.5 691 1243.5 682 1243.5 626 1244.5 676 1244.5 570 1245.5 612 1245.5 647 1246.5 626 1246.5 593 1247.5 599 1247.5 685 1248.5 687 1248.5 511 1249.5 531 1249.5 634 1250.5 610 1250.5 547 1251.5 540 1251.5 610 1252.5 617 1252.5 577 1253.5 610 1253.5 650 1254.5 646 1254.5 572 1255.5 542 1255.5 732 1256.5 666 1256.5 621 1257.5 638 1257.5 689 1258.5 664 1258.5 620 1259.5 590 1259.5 673 1260.5 622 1260.5 573 1261.5 571 1261.5 673 1262.5 624 1262.5 567 1263.5 585 1263.5 650 1264.5 671 1264.5 593 1265.5 570 1265.5 639 1266.5 622 1266.5 673 1267.5 650 1267.5 699 1268.5 675 1268.5 635 1269.5 635 1269.5 674 1270.5 714 1270.5 590 1271.5 675 1271.5 695 1272.5 710 1272.5 644 1273.5 642 1273.5 689 1274.5 642 1274.5 769 1275.5 716 1275.5 646 1276.5 628 1276.5 687 1277.5 695 1277.5 664 1278.5 600 1278.5 758 1279.5 705 1279.5 629 1280.5 619 1280.5 689 1281.5 697 1281.5 637 1282.5 632 1282.5 688 1283.5 667 1283.5 636 1284.5 658 1284.5 693 1285.5 700 1285.5 635 1286.5 647 1286.5 684 1287.5 719 1287.5 599 1288.5 642 1288.5 678 1289.5 632 1289.5 740 1290.5 669 1290.5 637 1291.5 649 1291.5 697 1292.5 665 1292.5 637 1293.5 614 1293.5 680 1294.5 646 1294.5 601 1295.5 617 1295.5 687 1296.5 690 1296.5 595 1297.5 577 1297.5 694 1298.5 662 1298.5 552 1299.5 594 1299.5 631 1300.5 682 1300.5 568 1301.5 559 1301.5 635 1302.5 650 1302.5 532 1303.5 588 1303.5 687 1304.5 611 1304.5 594 1305.5 573 1305.5 643 1306.5 608 1306.5 570 1307.5 580 1307.5 612 1308.5 598 1308.5 561 1309.5 575 1309.5 680 1310.5 636 1310.5 591 1311.5 595 1311.5 641 1312.5 625 1312.5 683 1313.5 669 1313.5 586 1314.5 585 1314.5 649 1315.5 640 1315.5 559 1316.5 600 1316.5 646 1317.5 638 1317.5 600 1318.5 603 1318.5 643 1319.5 617 1319.5 679 1320.5 639 1320.5 560 1321.5 618 1321.5 655 1322.5 644 1322.5 595 1323.5 572 1323.5 663 1324.5 666 1324.5 542 1325.5 580 1325.5 673 1326.5 700 1326.5 579 1327.5 581 1327.5 679 1328.5 683 1328.5 604 1329.5 586 1329.5 638 1330.5 662 1330.5 581 1331.5 602 1331.5 664 1332.5 656 1332.5 603 1333.5 599 1333.5 669 1334.5 653 1334.5 608 1335.5 640 1335.5 570 1336.5 585 1336.5 676 1337.5 625 1337.5 518 1338.5 582 1338.5 637 1339.5 645 1339.5 578 1340.5 551 1340.5 633 1341.5 639 1341.5 566 1342.5 583 1342.5 619 1343.5 631 1343.5 548 1344.5 597 1344.5 642 1345.5 652 1345.5 528 1346.5 617 1346.5 642 1347.5 638 1347.5 581 1348.5 615 1348.5 531 1349.5 562 1349.5 653 1350.5 636 1350.5 576 1351.5 587 1351.5 650 1352.5 627 1352.5 590 1353.5 610 1353.5 567 1354.5 565 1354.5 624 1355.5 620 1355.5 574 1356.5 574 1356.5 631 1357.5 621 1357.5 581 1358.5 538 1358.5 642 1359.5 626 1359.5 563 1360.5 568 1360.5 664 1361.5 638 1361.5 599 1362.5 590 1362.5 632 1363.5 616 1363.5 693 1364.5 676 1364.5 617 1365.5 665 1365.5 562 1366.5 606 1366.5 669 1367.5 687 1367.5 608 1368.5 585 1368.5 655 1369.5 638 1369.5 553 1370.5 614 1370.5 692 1371.5 681 1371.5 573 1372.5 616 1372.5 657 1373.5 679 1373.5 600 1374.5 616 1374.5 688 1375.5 653 1375.5 613 1376.5 589 1376.5 689 1377.5 634 1377.5 600 1378.5 579 1378.5 642 1379.5 643 1379.5 591 1380.5 572 1380.5 654 1381.5 679 1381.5 564 1382.5 570 1382.5 637 1383.5 659 1383.5 512 1384.5 509 1384.5 614 1385.5 609 1385.5 570 1386.5 600 1386.5 636 1387.5 647 1387.5 596 1388.5 652 1388.5 491 1389.5 625 1389.5 687 1390.5 674 1390.5 569 1391.5 636 1391.5 682 1392.5 691 1392.5 595 1393.5 571 1393.5 658 1394.5 665 1394.5 601 1395.5 579 1395.5 704 1396.5 645 1396.5 581 1397.5 596 1397.5 696 1398.5 669 1398.5 584 1399.5 564 1399.5 627 1400.5 611 1400.5 567 1401.5 576 1401.5 610 1402.5 622 1402.5 556 1403.5 564 1403.5 594 1404.5 583 1404.5 623 1405.5 615 1405.5 579 1406.5 600 1406.5 524 1407.5 535 1407.5 603 1408.5 635 1408.5 532 1409.5 575 1409.5 629 1410.5 635 1410.5 583 1411.5 602 1411.5 667 1412.5 654 1412.5 550 1413.5 618 1413.5 667 1414.5 623 1414.5 601 1415.5 574 1415.5 638 1416.5 610 1416.5 586 1417.5 582 1417.5 643 1418.5 607 1418.5 557 1419.5 528 1419.5 658 1420.5 595 1420.5 568 1421.5 564 1421.5 617 1422.5 623 1422.5 505 1423.5 481 1423.5 635 1424.5 586 1424.5 549 1425.5 503 1425.5 600 1426.5 603 1426.5 508 1427.5 521 1427.5 595 1428.5 591 1428.5 558 1429.5 543 1429.5 593 1430.5 549 1430.5 508 1431.5 530 1431.5 569 1432.5 560 1432.5 484 1433.5 447 1433.5 612 1434.5 608 1434.5 517 1435.5 546 1435.5 595 1436.5 594 1436.5 541 1437.5 540 1437.5 601 1438.5 584 1438.5 529 1439.5 582 1439.5 601 1440.5 571 1440.5 645 1441.5 634 1441.5 545 1442.5 568 1442.5 619 1443.5 617 1443.5 511 1444.5 515 1444.5 584 1445.5 605 1445.5 545 1446.5 557 1446.5 628 1447.5 618 1447.5 504 1448.5 555 1448.5 603 1449.5 615 1449.5 568 1450.5 557 1450.5 621 1451.5 569 1451.5 538 1452.5 553 1452.5 581 1453.5 568 1453.5 523 1454.5 534 1454.5 610 1455.5 602 1455.5 502 1456.5 553 1456.5 604 1457.5 638 1457.5 558 1458.5 557 1458.5 592 1459.5 603 1459.5 557 1460.5 554 1460.5 610 1461.5 578 1461.5 534 1462.5 536 1462.5 592 1463.5 614 1463.5 561 1464.5 553 1464.5 580 1465.5 581 1465.5 535 1466.5 524 1466.5 565 1467.5 619 1467.5 472 1468.5 528 1468.5 610 1469.5 612 1469.5 492 1470.5 535 1470.5 568 1471.5 573 1471.5 540 1472.5 536 1472.5 577 1473.5 568 1473.5 554 1474.5 538 1474.5 597 1475.5 607 1475.5 557 1476.5 585 1476.5 624 1477.5 647 1477.5 589 1478.5 591 1478.5 685 1479.5 661 1479.5 611 1480.5 582 1480.5 653 1481.5 686 1481.5 612 1482.5 643 1482.5 576 1483.5 632 1483.5 680 1484.5 657 1484.5 561 1485.5 618 1485.5 662 1486.5 633 1486.5 599 1487.5 615 1487.5 664 1488.5 630 1488.5 602 1489.5 617 1489.5 636 1490.5 650 1490.5 609 1491.5 624 1491.5 675 1492.5 659 1492.5 586 1493.5 629 1493.5 650 1494.5 665 1494.5 578 1495.5 609 1495.5 641 1496.5 610 1496.5 702 1497.5 673 1497.5 594 1498.5 609 1498.5 656 1499.5 691 1499.5 575 1500.5 615 1500.5 643 1501.5 675 1501.5 596 1502.5 629 1502.5 651 1503.5 658 1503.5 604 1504.5 624 1504.5 567 1505.5 614 1505.5 622 1506.5 636 1506.5 604 1507.5 589 1507.5 648 1508.5 659 1508.5 604 1509.5 583 1509.5 670 1510.5 621 1510.5 596 1511.5 595 1511.5 627 1512.5 627 1512.5 594 1513.5 590 1513.5 643 1514.5 646 1514.5 555 1515.5 551 1515.5 664 1516.5 624 1516.5 609 1517.5 596 1517.5 636 1518.5 598 1518.5 526 1519.5 589 1519.5 640 1520.5 647 1520.5 571 1521.5 539 1521.5 680 1522.5 629 1522.5 576 1523.5 591 1523.5 618 1524.5 643 1524.5 573 1525.5 576 1525.5 611 1526.5 637 1526.5 577 1527.5 562 1527.5 595 1528.5 608 1528.5 567 1529.5 571 1529.5 617 1530.5 593 1530.5 557 1531.5 594 1531.5 502 1532.5 544 1532.5 664 1533.5 604 1533.5 542 1534.5 547 1534.5 603 1535.5 610 1535.5 517 1536.5 528 1536.5 588 1537.5 581 1537.5 517 1538.5 566 1538.5 658 1539.5 603 1539.5 574 1540.5 563 1540.5 641 1541.5 603 1541.5 572 1542.5 580 1542.5 626 1543.5 620 1543.5 512 1544.5 582 1544.5 637 1545.5 690 1545.5 577 1546.5 552 1546.5 630 1547.5 629 1547.5 572 1548.5 578 1548.5 671 1549.5 668 1549.5 548 1550.5 525 1550.5 625 1551.5 610 1551.5 575 1552.5 634 1552.5 443 1553.5 567 1553.5 662 1554.5 629 1554.5 561 1555.5 587 1555.5 624 1556.5 648 1556.5 539 1557.5 528 1557.5 618 1558.5 632 1558.5 555 1559.5 570 1559.5 645 1560.5 606 1560.5 530 1561.5 565 1561.5 628 1562.5 618 1562.5 517 1563.5 549 1563.5 637 1564.5 619 1564.5 580 1565.5 591 1565.5 637 1566.5 607 1566.5 564 1567.5 569 1567.5 597 1568.5 598 1568.5 626 1569.5 615 1569.5 589 1570.5 584 1570.5 625 1571.5 619 1571.5 582 1572.5 602 1572.5 527 1573.5 555 1573.5 646 1574.5 641 1574.5 545 1575.5 569 1575.5 592 1576.5 601 1576.5 542 1577.5 533 1577.5 590 1578.5 606 1578.5 528 1579.5 576 1579.5 606 1580.5 612 1580.5 538 1581.5 524 1581.5 593 1582.5 614 1582.5 533 1583.5 554 1583.5 598 1584.5 617 1584.5 554 1585.5 580 1585.5 643 1586.5 667 1586.5 544 1587.5 530 1587.5 617 1588.5 659 1588.5 566 1589.5 586 1589.5 611 1590.5 593 1590.5 655 1591.5 691 1591.5 596 1592.5 607 1592.5 650 1593.5 673 1593.5 600 1594.5 618 1594.5 669 1595.5 660 1595.5 616 1596.5 618 1596.5 668 1597.5 638 1597.5 593 1598.5 589 1598.5 682 1599.5 667 1599.5 607 1600.5 610 1600.5 640 1601.5 611 1601.5 678 1602.5 674 1602.5 568 1603.5 619 1603.5 684 1604.5 671 1604.5 644 1605.5 640 1605.5 564 1606.5 589 1606.5 658 1607.5 640 1607.5 598 1608.5 586 1608.5 655 1609.5 659 1609.5 607 1610.5 602 1610.5 653 1611.5 657 1611.5 594 1612.5 582 1612.5 684 1613.5 650 1613.5 582 1614.5 597 1614.5 701 1615.5 604 1615.5 512 1616.5 536 1616.5 628 1617.5 629 1617.5 583 1618.5 596 1618.5 695 1619.5 698 1619.5 582 1620.5 551 1620.5 641 1621.5 619 1621.5 666 1622.5 643 1622.5 595 1623.5 566 1623.5 632 1624.5 649 1624.5 569 1625.5 499 1625.5 651 1626.5 645 1626.5 535 1627.5 553 1627.5 711 1628.5 660 1628.5 557 1629.5 569 1629.5 605 1630.5 589 1630.5 649 1631.5 619 1631.5 579 1632.5 571 1632.5 612 1633.5 654 1633.5 554 1634.5 530 1634.5 621 1635.5 639 1635.5 595 1636.5 604 1636.5 522 1637.5 550 1637.5 660 1638.5 661 1638.5 549 1639.5 586 1639.5 630 1640.5 606 1640.5 683 1641.5 647 1641.5 591 1642.5 598 1642.5 664 1643.5 610 1643.5 598 1644.5 576 1644.5 665 1645.5 611 1645.5 576 1646.5 588 1646.5 545 1647.5 512 1647.5 586 1648.5 608 1648.5 492 1649.5 512 1649.5 616 1650.5 613 1650.5 484 1651.5 545 1651.5 647 1652.5 566 1652.5 527 1653.5 506 1653.5 565 1654.5 584 1654.5 490 1655.5 526 1655.5 596 1656.5 594 1656.5 537 1657.5 562 1657.5 587 1658.5 634 1658.5 538 1659.5 557 1659.5 624 1660.5 617 1660.5 584 1661.5 554 1661.5 619 1662.5 574 1662.5 531 1663.5 530 1663.5 596 1664.5 600 1664.5 543 1665.5 530 1665.5 582 1666.5 564 1666.5 608 1667.5 614 1667.5 510 1668.5 565 1668.5 648 1669.5 667 1669.5 584 1670.5 572 1670.5 622 1671.5 588 1671.5 518 1672.5 557 1672.5 602 1673.5 551 1673.5 658 1674.5 619 1674.5 515 1675.5 545 1675.5 601 1676.5 626 1676.5 547 1677.5 515 1677.5 604 1678.5 572 1678.5 546 1679.5 541 1679.5 587 1680.5 640 1680.5 520 1681.5 518 1681.5 619 1682.5 653 1682.5 573 1683.5 559 1683.5 592 1684.5 586 1684.5 535 1685.5 525 1685.5 560 1686.5 590 1686.5 490 1687.5 559 1687.5 646 1688.5 616 1688.5 575 1689.5 559 1689.5 654 1690.5 582 1690.5 504 1691.5 539 1691.5 615 1692.5 613 1692.5 557 1693.5 568 1693.5 624 1694.5 593 1694.5 532 1695.5 498 1695.5 617 1696.5 624 1696.5 577 1697.5 587 1697.5 550 1698.5 535 1698.5 576 1699.5 600 1699.5 458 1700.5 547 1700.5 598 1701.5 598 1701.5 518 1702.5 549 1702.5 592 1703.5 612 1703.5 540 1704.5 539 1704.5 611 1705.5 564 1705.5 669 1706.5 608 1706.5 530 1707.5 592 1707.5 646 1708.5 596 1708.5 567 1709.5 556 1709.5 607 1710.5 627 1710.5 546 1711.5 586 1711.5 639 1712.5 601 1712.5 569 1713.5 548 1713.5 609 1714.5 644 1714.5 550 1715.5 588 1715.5 630 1716.5 600 1716.5 548 1717.5 537 1717.5 652 1718.5 624 1718.5 528 1719.5 590 1719.5 656 1720.5 625 1720.5 560 1721.5 543 1721.5 667 1722.5 644 1722.5 549 1723.5 543 1723.5 600 1724.5 623 1724.5 566 1725.5 552 1725.5 637 1726.5 618 1726.5 567 1727.5 552 1727.5 620 1728.5 624 1728.5 534 1729.5 579 1729.5 602 1730.5 577 1730.5 542 1731.5 608 1731.5 454 1732.5 552 1732.5 659 1733.5 666 1733.5 527 1734.5 564 1734.5 631 1735.5 603 1735.5 564 1736.5 513 1736.5 634 1737.5 627 1737.5 589 1738.5 583 1738.5 632 1739.5 636 1739.5 566 1740.5 600 1740.5 620 1741.5 598 1741.5 646 1742.5 623 1742.5 681 1743.5 714 1743.5 625 1744.5 601 1744.5 669 1745.5 657 1745.5 588 1746.5 589 1746.5 690 1747.5 672 1747.5 604 1748.5 596 1748.5 655 1749.5 639 1749.5 589 1750.5 607 1750.5 680 1751.5 676 1751.5 594 1752.5 611 1752.5 642 1753.5 648 1753.5 587 1754.5 604 1754.5 662 1755.5 647 1755.5 599 1756.5 606 1756.5 667 1757.5 656 1757.5 605 1758.5 611 1758.5 690 1759.5 651 1759.5 622 1760.5 577 1760.5 672 1761.5 662 1761.5 580 1762.5 623 1762.5 706 1763.5 660 1763.5 626 1764.5 592 1764.5 661 1765.5 682 1765.5 524 1766.5 578 1766.5 592 1767.5 587 1767.5 649 1768.5 663 1768.5 594 1769.5 642 1769.5 540 1770.5 594 1770.5 653 1771.5 696 1771.5 564 1772.5 531 1772.5 651 1773.5 687 1773.5 602 1774.5 634 1774.5 691 1775.5 679 1775.5 532 1776.5 608 1776.5 640 1777.5 597 1777.5 701 1778.5 645 1778.5 557 1779.5 566 1779.5 629 1780.5 651 1780.5 549 1781.5 586 1781.5 639 1782.5 632 1782.5 549 1783.5 564 1783.5 636 1784.5 655 1784.5 585 1785.5 591 1785.5 488 1786.5 525 1786.5 602 1787.5 585 1787.5 528 1788.5 535 1788.5 652 1789.5 603 1789.5 505 1790.5 515 1790.5 578 1791.5 597 1791.5 481 1792.5 440 1792.5 611 1793.5 589 1793.5 517 1794.5 491 1794.5 564 1795.5 587 1795.5 508 1796.5 524 1796.5 595 1797.5 589 1797.5 551 1798.5 522 1798.5 591 1799.5 591 1799.5 562 1800.5 539 1800.5 668 1801.5 630 1801.5 549 1802.5 561 1802.5 588 1803.5 600 1803.5 534 1804.5 538 1804.5 592 1805.5 617 1805.5 531 1806.5 533 1806.5 594 1807.5 591 1807.5 546 1808.5 541 1808.5 575 1809.5 558 1809.5 629 1810.5 624 1810.5 518 1811.5 538 1811.5 582 1812.5 593 1812.5 548 1813.5 531 1813.5 585 1814.5 616 1814.5 518 1815.5 522 1815.5 603 1816.5 599 1816.5 556 1817.5 569 1817.5 621 1818.5 623 1818.5 545 1819.5 570 1819.5 624 1820.5 610 1820.5 557 1821.5 594 1821.5 513 1822.5 577 1822.5 595 1823.5 569 1823.5 635 1824.5 603 1824.5 563 1825.5 589 1825.5 631 1826.5 612 1826.5 563 1827.5 581 1827.5 610 1828.5 602 1828.5 556 1829.5 576 1829.5 641 1830.5 621 1830.5 580 1831.5 582 1831.5 653 1832.5 616 1832.5 582 1833.5 607 1833.5 672 1834.5 653 1834.5 601 1835.5 612 1835.5 656 1836.5 632 1836.5 594 1837.5 592 1837.5 636 1838.5 632 1838.5 590 1839.5 591 1839.5 676 1840.5 618 1840.5 587 1841.5 598 1841.5 636 1842.5 635 1842.5 582 1843.5 604 1843.5 656 1844.5 679 1844.5 615 1845.5 599 1845.5 634 1846.5 616 1846.5 547 1847.5 591 1847.5 674 1848.5 640 1848.5 587 1849.5 583 1849.5 625 1850.5 639 1850.5 589 1851.5 617 1851.5 643 1852.5 658 1852.5 615 1853.5 658 1853.5 566 1854.5 622 1854.5 674 1855.5 678 1855.5 567 1856.5 597 1856.5 657 1857.5 672 1857.5 592 1858.5 628 1858.5 674 1859.5 686 1859.5 596 1860.5 575 1860.5 631 1861.5 636 1861.5 584 1862.5 551 1862.5 634 1863.5 621 1863.5 593 1864.5 579 1864.5 620 1865.5 611 1865.5 640 1866.5 639 1866.5 604 1867.5 625 1867.5 576 1868.5 584 1868.5 625 1869.5 602 1869.5 658 1870.5 644 1870.5 610 1871.5 602 1871.5 638 1872.5 657 1872.5 574 1873.5 588 1873.5 626 1874.5 618 1874.5 573 1875.5 560 1875.5 618 1876.5 601 1876.5 570 1877.5 601 1877.5 531 1878.5 524 1878.5 612 1879.5 601 1879.5 579 1880.5 572 1880.5 606 1881.5 645 1881.5 540 1882.5 548 1882.5 601 1883.5 582 1883.5 630 1884.5 622 1884.5 554 1885.5 570 1885.5 642 1886.5 644 1886.5 585 1887.5 581 1887.5 626 1888.5 627 1888.5 593 1889.5 588 1889.5 632 1890.5 603 1890.5 573 1891.5 570 1891.5 633 1892.5 651 1892.5 581 1893.5 617 1893.5 528 1894.5 585 1894.5 631 1895.5 621 1895.5 582 1896.5 592 1896.5 611 1897.5 611 1897.5 650 1898.5 634 1898.5 610 1899.5 630 1899.5 553 1900.5 619 1900.5 645 1901.5 623 1901.5 590 1902.5 589 1902.5 662 1903.5 665 1903.5 570 1904.5 543 1904.5 616 1905.5 657 1905.5 571 1906.5 587 1906.5 633 1907.5 645 1907.5 610 1908.5 588 1908.5 632 1909.5 643 1909.5 578 1910.5 624 1910.5 697 1911.5 694 1911.5 577 1912.5 596 1912.5 678 1913.5 616 1913.5 542 1914.5 599 1914.5 621 1915.5 638 1915.5 584 1916.5 594 1916.5 682 1917.5 676 1917.5 620 1918.5 608 1918.5 653 1919.5 639 1919.5 614 1920.5 578 1920.5 689 1921.5 642 1921.5 595 1922.5 605 1922.5 673 1923.5 654 1923.5 613 1924.5 573 1924.5 668 1925.5 673 1925.5 634 1926.5 629 1926.5 598 1927.5 576 1927.5 646 1928.5 606 1928.5 564 1929.5 537 1929.5 628 1930.5 619 1930.5 573 1931.5 577 1931.5 611 1932.5 635 1932.5 584 1933.5 577 1933.5 607 1934.5 637 1934.5 522 1935.5 581 1935.5 653 1936.5 666 1936.5 586 1937.5 600 1937.5 682 1938.5 661 1938.5 583 1939.5 593 1939.5 636 1940.5 633 1940.5 562 1941.5 569 1941.5 600 1942.5 604 1942.5 534 1943.5 577 1943.5 602 1944.5 614 1944.5 557 1945.5 598 1945.5 677 1946.5 634 1946.5 567 1947.5 592 1947.5 661 1948.5 635 1948.5 577 1949.5 613 1949.5 635 1950.5 630 1950.5 674 1951.5 653 1951.5 610 1952.5 588 1952.5 694 1953.5 661 1953.5 586 1954.5 585 1954.5 658 1955.5 676 1955.5 581 1956.5 601 1956.5 647 1957.5 620 1957.5 684 1958.5 674 1958.5 579 1959.5 573 1959.5 666 1960.5 663 1960.5 612 1961.5 636 1961.5 583 1962.5 597 1962.5 656 1963.5 620 1963.5 548 1964.5 571 1964.5 635 1965.5 663 1965.5 589 1966.5 600 1966.5 644 1967.5 632 1967.5 590 1968.5 572 1968.5 673 1969.5 609 1969.5 577 1970.5 588 1970.5 521 1971.5 536 1971.5 585 1972.5 582 1972.5 511 1973.5 562 1973.5 586 1974.5 610 1974.5 531 1975.5 574 1975.5 619 1976.5 625 1976.5 586 1977.5 607 1977.5 667 1978.5 678 1978.5 622 1979.5 619 1979.5 650 1980.5 649 1980.5 606 1981.5 613 1981.5 635 1982.5 685 1982.5 570 1983.5 566 1983.5 681 1984.5 684 1984.5 597 1985.5 580 1985.5 628 1986.5 648 1986.5 648" fill="none" stroke="#0070e6" stroke-width="5.5" stroke-linejoin="round" stroke-linecap="round" shape-rendering="crispEdges"/><path d="M392.5 1320L392.5 1320 392.5 1253 393.5 1232 393.5 1093 394.5 1093 394.5 1125 395.5 1070 395.5 1031 396.5 1044 396.5 967 397.5 971 397.5 914 398.5 883 398.5 957 399.5 930 399.5 900 400.5 880 400.5 997 401.5 925 401.5 868 402.5 823 402.5 942 403.5 943 403.5 848 404.5 880 404.5 914 405.5 893 405.5 851 406.5 850 406.5 919 407.5 889 407.5 821 408.5 834 408.5 872 409.5 879 409.5 908 410.5 890 410.5 862 411.5 849 411.5 879 412.5 886 412.5 910 413.5 914 413.5 877 414.5 852 414.5 942 415.5 903 415.5 883 416.5 910 416.5 849 417.5 869 417.5 905 418.5 889 418.5 858 419.5 870 419.5 926 420.5 898 420.5 843 421.5 883 421.5 925 422.5 910 422.5 873 423.5 864 423.5 906 424.5 911 424.5 832 425.5 834 425.5 930 426.5 885 426.5 864 427.5 864 427.5 907 428.5 908 428.5 858 429.5 861 429.5 895 430.5 900 430.5 864 431.5 876 431.5 846 432.5 860 432.5 919 433.5 912 433.5 854 434.5 871 434.5 912 435.5 909 435.5 873 436.5 860 436.5 913 437.5 929 437.5 882 438.5 906 438.5 846 439.5 875 439.5 916 440.5 931 440.5 839 441.5 876 441.5 940 442.5 920 442.5 838 443.5 838 443.5 864 444.5 886 444.5 809 445.5 844 445.5 878 446.5 895 446.5 832 447.5 840 447.5 906 448.5 878 448.5 851 449.5 857 449.5 911 450.5 890 450.5 804 451.5 787 451.5 853 452.5 865 452.5 792 453.5 816 453.5 861 454.5 830 454.5 797 455.5 755 455.5 857 456.5 828 456.5 764 457.5 757 457.5 819 458.5 825 458.5 798 459.5 800 459.5 874 460.5 840 460.5 798 461.5 803 461.5 912 462.5 854 462.5 812 463.5 790 463.5 849 464.5 844 464.5 767 465.5 760 465.5 817 466.5 785 466.5 857 467.5 834 467.5 791 468.5 836 468.5 880 469.5 876 469.5 816 470.5 834 470.5 883 471.5 867 471.5 794 472.5 762 472.5 882 473.5 853 473.5 798 474.5 811 474.5 921 475.5 881 475.5 833 476.5 836 476.5 875 477.5 866 477.5 827 478.5 819 478.5 881 479.5 900 479.5 828 480.5 843 480.5 782 481.5 807 481.5 829 482.5 848 482.5 772 483.5 825 483.5 857 484.5 847 484.5 811 485.5 806 485.5 845 486.5 856 486.5 827 487.5 823 487.5 845 488.5 830 488.5 863 489.5 866 489.5 827 490.5 804 490.5 878 491.5 849 491.5 802 492.5 840 492.5 879 493.5 858 493.5 827 494.5 827 494.5 873 495.5 851 495.5 786 496.5 809 496.5 852 497.5 901 497.5 773 498.5 814 498.5 872 499.5 898 499.5 785 500.5 790 500.5 830 501.5 839 501.5 811 502.5 808 502.5 878 503.5 878 503.5 814 504.5 787 504.5 933 505.5 871 505.5 816 506.5 808 506.5 918 507.5 857 507.5 830 508.5 859 508.5 786 509.5 820 509.5 846 510.5 839 510.5 881 511.5 869 511.5 837 512.5 853 512.5 812 513.5 814 513.5 870 514.5 852 514.5 805 515.5 805 515.5 845 516.5 864 516.5 823 517.5 815 517.5 855 518.5 839 518.5 820 519.5 823 519.5 897 520.5 842 520.5 778 521.5 764 521.5 840 522.5 824 522.5 798 523.5 811 523.5 849 524.5 847 524.5 775 525.5 765 525.5 858 526.5 877 526.5 778 527.5 804 527.5 850 528.5 862 528.5 813 529.5 834 529.5 726 530.5 731 530.5 812 531.5 804 531.5 710 532.5 760 532.5 810 533.5 790 533.5 700 534.5 709 534.5 783 535.5 758 535.5 739 536.5 752 536.5 662 537.5 692 537.5 766 538.5 805 538.5 697 539.5 734 539.5 780 540.5 731 540.5 836 541.5 772 541.5 746 542.5 740 542.5 781 543.5 793 543.5 729 544.5 743 544.5 797 545.5 814 545.5 702 546.5 730 546.5 755 547.5 748 547.5 780 548.5 801 548.5 658 549.5 743 549.5 820 550.5 789 550.5 737 551.5 720 551.5 786 552.5 760 552.5 660 553.5 721 553.5 820 554.5 808 554.5 734 555.5 679 555.5 795 556.5 764 556.5 699 557.5 701 557.5 731 558.5 773 558.5 653 559.5 688 559.5 794 560.5 765 560.5 719 561.5 693 561.5 821 562.5 774 562.5 730 563.5 732 563.5 809 564.5 822 564.5 748 565.5 715 565.5 807 566.5 789 566.5 755 567.5 745 567.5 798 568.5 766 568.5 699 569.5 719 569.5 753 570.5 736 570.5 799 571.5 832 571.5 764 572.5 727 572.5 815 573.5 817 573.5 754 574.5 770 574.5 846 575.5 813 575.5 755 576.5 729 576.5 797 577.5 857 577.5 710 578.5 748 578.5 777 579.5 785 579.5 713 580.5 725 580.5 837 581.5 869 581.5 735 582.5 755 582.5 832 583.5 781 583.5 725 584.5 757 584.5 674 585.5 742 585.5 804 586.5 761 586.5 665 587.5 689 587.5 820 588.5 759 588.5 732 589.5 721 589.5 780 590.5 725 590.5 866 591.5 824 591.5 759 592.5 751 592.5 801 593.5 789 593.5 872 594.5 810 594.5 754 595.5 739 595.5 834 596.5 877 596.5 790 597.5 758 597.5 856 598.5 817 598.5 695 599.5 773 599.5 877 600.5 828 600.5 724 601.5 765 601.5 820 602.5 862 602.5 763 603.5 763 603.5 868 604.5 808 604.5 755 605.5 783 605.5 862 606.5 808 606.5 763 607.5 725 607.5 836 608.5 794 608.5 745 609.5 752 609.5 830 610.5 811 610.5 762 611.5 741 611.5 808 612.5 835 612.5 752 613.5 778 613.5 811 614.5 822 614.5 781 615.5 785 615.5 889 616.5 824 616.5 798 617.5 796 617.5 868 618.5 856 618.5 792 619.5 770 619.5 846 620.5 860 620.5 777 621.5 800 621.5 897 622.5 866 622.5 829 623.5 813 623.5 867 624.5 856 624.5 806 625.5 793 625.5 913 626.5 845 626.5 802 627.5 774 627.5 891 628.5 836 628.5 758 629.5 826 629.5 879 630.5 878 630.5 794 631.5 792 631.5 858 632.5 877 632.5 809 633.5 787 633.5 900 634.5 905 634.5 806 635.5 806 635.5 891 636.5 850 636.5 771 637.5 796 637.5 844 638.5 848 638.5 745 639.5 771 639.5 825 640.5 799 640.5 864 641.5 891 641.5 814 642.5 862 642.5 747 643.5 766 643.5 903 644.5 849 644.5 785 645.5 791 645.5 842 646.5 841 646.5 802 647.5 810 647.5 856 648.5 841 648.5 807 649.5 756 649.5 877 650.5 862 650.5 777 651.5 787 651.5 876 652.5 888 652.5 772 653.5 810 653.5 844 654.5 889 654.5 774 655.5 826 655.5 878 656.5 825 656.5 788 657.5 728 657.5 879 658.5 833 658.5 770 659.5 798 659.5 731 660.5 757 660.5 838 661.5 806 661.5 700 662.5 759 662.5 854 663.5 856 663.5 748 664.5 714 664.5 830 665.5 853 665.5 794 666.5 726 666.5 898 667.5 832 667.5 776 668.5 764 668.5 798 669.5 814 669.5 687 670.5 706 670.5 817 671.5 846 671.5 740 672.5 697 672.5 826 673.5 860 673.5 754 674.5 774 674.5 842 675.5 821 675.5 768 676.5 758 676.5 893 677.5 881 677.5 745 678.5 769 678.5 829 679.5 803 679.5 720 680.5 733 680.5 794 681.5 785 681.5 708 682.5 750 682.5 830 683.5 881 683.5 741 684.5 751 684.5 828 685.5 826 685.5 781 686.5 758 686.5 828 687.5 809 687.5 723 688.5 750 688.5 812 689.5 787 689.5 883 690.5 820 690.5 768 691.5 760 691.5 876 692.5 803 692.5 759 693.5 770 693.5 822 694.5 813 694.5 737 695.5 759 695.5 888 696.5 820 696.5 774 697.5 810 697.5 849 698.5 843 698.5 768 699.5 785 699.5 883 700.5 831 700.5 774 701.5 782 701.5 833 702.5 857 702.5 807 703.5 807 703.5 842 704.5 838 704.5 766 705.5 783 705.5 834 706.5 852 706.5 795 707.5 797 707.5 865 708.5 842 708.5 788 709.5 808 709.5 833 710.5 843 710.5 813 711.5 780 711.5 886 712.5 859 712.5 779 713.5 785 713.5 872 714.5 847 714.5 758 715.5 800 715.5 857 716.5 831 716.5 773 717.5 766 717.5 855 718.5 837 718.5 779 719.5 793 719.5 846 720.5 861 720.5 782 721.5 804 721.5 758 722.5 760 722.5 850 723.5 812 723.5 783 724.5 816 724.5 875 725.5 858 725.5 799 726.5 774 726.5 876 727.5 917 727.5 770 728.5 802 728.5 864 729.5 865 729.5 816 730.5 838 730.5 860 731.5 847 731.5 800 732.5 779 732.5 829 733.5 834 733.5 749 734.5 759 734.5 842 735.5 844 735.5 787 736.5 773 736.5 836 737.5 863 737.5 787 738.5 828 738.5 887 739.5 857 739.5 842 740.5 816 740.5 871 741.5 858 741.5 790 742.5 827 742.5 859 743.5 865 743.5 828 744.5 835 744.5 850 745.5 867 745.5 798 746.5 819 746.5 863 747.5 861 747.5 658 748.5 825 748.5 854 749.5 845 749.5 799 750.5 794 750.5 843 751.5 880 751.5 768 752.5 791 752.5 843 753.5 868 753.5 772 754.5 787 754.5 822 755.5 805 755.5 763 756.5 763 756.5 811 757.5 816 757.5 772 758.5 796 758.5 721 759.5 715 759.5 815 760.5 804 760.5 758 761.5 763 761.5 834 762.5 816 762.5 766 763.5 772 763.5 798 764.5 796 764.5 740 765.5 749 765.5 798 766.5 789 766.5 751 767.5 741 767.5 854 768.5 828 768.5 775 769.5 776 769.5 839 770.5 848 770.5 740 771.5 803 771.5 829 772.5 798 772.5 767 773.5 759 773.5 862 774.5 821 774.5 747 775.5 734 775.5 853 776.5 847 776.5 804 777.5 791 777.5 880 778.5 838 778.5 769 779.5 811 779.5 726 780.5 794 780.5 837 781.5 859 781.5 744 782.5 768 782.5 838 783.5 825 783.5 751 784.5 721 784.5 865 785.5 828 785.5 758 786.5 760 786.5 808 787.5 821 787.5 768 788.5 771 788.5 808 789.5 822 789.5 743 790.5 788 790.5 825 791.5 831 791.5 784 792.5 818 792.5 735 793.5 734 793.5 828 794.5 820 794.5 797 795.5 815 795.5 777 796.5 762 796.5 842 797.5 819 797.5 767 798.5 779 798.5 821 799.5 810 799.5 762 800.5 785 800.5 847 801.5 825 801.5 758 802.5 770 802.5 813 803.5 800 803.5 732 804.5 736 804.5 794 805.5 797 805.5 763 806.5 788 806.5 734 807.5 762 807.5 808 808.5 834 808.5 781 809.5 791 809.5 830 810.5 828 810.5 787 811.5 751 811.5 891 812.5 826 812.5 754 813.5 780 813.5 811 814.5 789 814.5 862 815.5 828 815.5 776 816.5 768 816.5 814 817.5 844 817.5 761 818.5 814 818.5 889 819.5 855 819.5 804 820.5 838 820.5 760 821.5 785 821.5 853 822.5 856 822.5 747 823.5 755 823.5 817 824.5 805 824.5 694 825.5 743 825.5 816 826.5 820 826.5 758 827.5 753 827.5 796 828.5 766 828.5 866 829.5 806 829.5 702 830.5 761 830.5 812 831.5 812 831.5 776 832.5 804 832.5 864 833.5 855 833.5 797 834.5 800 834.5 861 835.5 866 835.5 814 836.5 808 836.5 829 837.5 829 837.5 801 838.5 732 838.5 878 839.5 849 839.5 770 840.5 736 840.5 820 841.5 795 841.5 757 842.5 742 842.5 802 843.5 865 843.5 711 844.5 764 844.5 813 845.5 820 845.5 785 846.5 790 846.5 833 847.5 844 847.5 766 848.5 790 848.5 890 849.5 806 849.5 741 850.5 795 850.5 863 851.5 891 851.5 810 852.5 809 852.5 866 853.5 843 853.5 780 854.5 786 854.5 834 855.5 839 855.5 745 856.5 790 856.5 843 857.5 808 857.5 767 858.5 768 858.5 840 859.5 859 859.5 771 860.5 735 860.5 862 861.5 827 861.5 786 862.5 784 862.5 743 863.5 777 863.5 707 864.5 713 864.5 805 865.5 816 865.5 772 866.5 779 866.5 849 867.5 792 867.5 747 868.5 735 868.5 821 869.5 855 869.5 783 870.5 812 870.5 735 871.5 751 871.5 811 872.5 809 872.5 727 873.5 763 873.5 820 874.5 819 874.5 780 875.5 773 875.5 859 876.5 793 876.5 714 877.5 737 877.5 788 878.5 775 878.5 848 879.5 808 879.5 738 880.5 789 880.5 837 881.5 847 881.5 787 882.5 799 882.5 867 883.5 891 883.5 818 884.5 809 884.5 848 885.5 850 885.5 793 886.5 822 886.5 755 887.5 708 887.5 838 888.5 811 888.5 771 889.5 790 889.5 845 890.5 842 890.5 793 891.5 767 891.5 856 892.5 863 892.5 796 893.5 782 893.5 851 894.5 802 894.5 905 895.5 831 895.5 782 896.5 796 896.5 855 897.5 832 897.5 782 898.5 847 898.5 717 899.5 753 899.5 807 900.5 818 900.5 769 901.5 796 901.5 722 902.5 750 902.5 851 903.5 825 903.5 769 904.5 790 904.5 850 905.5 808 905.5 797 906.5 796 906.5 878 907.5 849 907.5 795 908.5 801 908.5 856 909.5 820 909.5 733 910.5 786 910.5 841 911.5 832 911.5 777 912.5 775 912.5 827 913.5 819 913.5 771 914.5 772 914.5 852 915.5 864 915.5 739 916.5 730 916.5 853 917.5 812 917.5 749 918.5 793 918.5 857 919.5 824 919.5 744 920.5 748 920.5 805 921.5 756 921.5 863 922.5 799 922.5 772 923.5 773 923.5 807 924.5 783 924.5 766 925.5 789 925.5 730 926.5 747 926.5 808 927.5 809 927.5 776 928.5 735 928.5 836 929.5 814 929.5 740 930.5 752 930.5 809 931.5 814 931.5 772 932.5 761 932.5 801 933.5 814 933.5 765 934.5 788 934.5 830 935.5 835 935.5 790 936.5 809 936.5 751 937.5 765 937.5 816 938.5 810 938.5 768 939.5 752 939.5 813 940.5 803 940.5 750 941.5 773 941.5 808 942.5 836 942.5 777 943.5 785 943.5 836 944.5 837 944.5 786 945.5 809 945.5 885 946.5 833 946.5 798 947.5 826 947.5 852 948.5 848 948.5 825 949.5 847 949.5 790 950.5 801 950.5 850 951.5 848 951.5 788 952.5 796 952.5 853 953.5 835 953.5 794 954.5 791 954.5 859 955.5 821 955.5 763 956.5 778 956.5 824 957.5 814 957.5 846 958.5 835 958.5 803 959.5 802 959.5 839 960.5 824 960.5 775 961.5 790 961.5 843 962.5 834 962.5 801 963.5 805 963.5 848 964.5 847 964.5 790 965.5 800 965.5 864 966.5 821 966.5 783 967.5 767 967.5 822 968.5 855 968.5 786 969.5 774 969.5 850 970.5 803 970.5 772 971.5 782 971.5 818 972.5 828 972.5 788 973.5 792 973.5 817 974.5 776 974.5 860 975.5 864 975.5 789 976.5 769 976.5 840 977.5 810 977.5 771 978.5 776 978.5 694 979.5 735 979.5 756 980.5 766 980.5 699 981.5 718 981.5 767 982.5 756 982.5 695 983.5 683 983.5 770 984.5 820 984.5 720 985.5 743 985.5 649 986.5 678 986.5 750 987.5 743 987.5 693 988.5 655 988.5 776 989.5 805 989.5 713 990.5 723 990.5 803 991.5 828 991.5 778 992.5 809 992.5 744 993.5 744 993.5 804 994.5 786 994.5 706 995.5 738 995.5 790 996.5 773 996.5 705 997.5 739 997.5 767 998.5 754 998.5 618 999.5 691 999.5 791 1000.5 757 1000.5 725 1001.5 741 1001.5 708 1002.5 702 1002.5 780 1003.5 755 1003.5 679 1004.5 724 1004.5 779 1005.5 816 1005.5 677 1006.5 742 1006.5 790 1007.5 798 1007.5 738 1008.5 733 1008.5 778 1009.5 806 1009.5 746 1010.5 757 1010.5 776 1011.5 771 1011.5 704 1012.5 715 1012.5 748 1013.5 775 1013.5 713 1014.5 716 1014.5 778 1015.5 797 1015.5 711 1016.5 731 1016.5 829 1017.5 784 1017.5 733 1018.5 730 1018.5 836 1019.5 785 1019.5 743 1020.5 751 1020.5 818 1021.5 803 1021.5 743 1022.5 758 1022.5 813 1023.5 800 1023.5 741 1024.5 757 1024.5 833 1025.5 870 1025.5 776 1026.5 780 1026.5 877 1027.5 822 1027.5 766 1028.5 763 1028.5 824 1029.5 836 1029.5 768 1030.5 760 1030.5 830 1031.5 842 1031.5 770 1032.5 838 1032.5 687 1033.5 730 1033.5 844 1034.5 772 1034.5 690 1035.5 733 1035.5 750 1036.5 757 1036.5 829 1037.5 815 1037.5 769 1038.5 753 1038.5 814 1039.5 837 1039.5 740 1040.5 759 1040.5 830 1041.5 810 1041.5 767 1042.5 783 1042.5 724 1043.5 736 1043.5 789 1044.5 781 1044.5 684 1045.5 623 1045.5 839 1046.5 816 1046.5 714 1047.5 682 1047.5 803 1048.5 760 1048.5 705 1049.5 718 1049.5 778 1050.5 774 1050.5 733 1051.5 733 1051.5 793 1052.5 777 1052.5 744 1053.5 766 1053.5 674 1054.5 725 1054.5 767 1055.5 764 1055.5 711 1056.5 746 1056.5 765 1057.5 763 1057.5 725 1058.5 711 1058.5 759 1059.5 776 1059.5 716 1060.5 733 1060.5 750 1061.5 764 1061.5 731 1062.5 759 1062.5 791 1063.5 794 1063.5 747 1064.5 722 1064.5 783 1065.5 769 1065.5 740 1066.5 727 1066.5 796 1067.5 826 1067.5 706 1068.5 787 1068.5 816 1069.5 798 1069.5 780 1070.5 768 1070.5 839 1071.5 809 1071.5 764 1072.5 739 1072.5 799 1073.5 768 1073.5 845 1074.5 825 1074.5 744 1075.5 769 1075.5 794 1076.5 823 1076.5 725 1077.5 768 1077.5 818 1078.5 794 1078.5 712 1079.5 769 1079.5 811 1080.5 837 1080.5 752 1081.5 769 1081.5 719 1082.5 740 1082.5 784 1083.5 811 1083.5 736 1084.5 733 1084.5 814 1085.5 827 1085.5 777 1086.5 775 1086.5 808 1087.5 798 1087.5 780 1088.5 770 1088.5 827 1089.5 830 1089.5 787 1090.5 776 1090.5 826 1091.5 854 1091.5 774 1092.5 757 1092.5 830 1093.5 814 1093.5 787 1094.5 793 1094.5 841 1095.5 832 1095.5 781 1096.5 786 1096.5 740 1097.5 777 1097.5 799 1098.5 812 1098.5 752 1099.5 753 1099.5 812 1100.5 783 1100.5 743 1101.5 773 1101.5 820 1102.5 821 1102.5 766 1103.5 792 1103.5 730 1104.5 730 1104.5 809 1105.5 787 1105.5 749 1106.5 758 1106.5 808 1107.5 776 1107.5 745 1108.5 743 1108.5 817 1109.5 813 1109.5 773 1110.5 771 1110.5 835 1111.5 816 1111.5 767 1112.5 746 1112.5 833 1113.5 775 1113.5 743 1114.5 747 1114.5 842 1115.5 794 1115.5 742 1116.5 752 1116.5 815 1117.5 811 1117.5 765 1118.5 757 1118.5 807 1119.5 798 1119.5 823 1120.5 828 1120.5 749 1121.5 798 1121.5 832 1122.5 848 1122.5 801 1123.5 809 1123.5 875 1124.5 830 1124.5 786 1125.5 811 1125.5 752 1126.5 756 1126.5 815 1127.5 800 1127.5 762 1128.5 739 1128.5 801 1129.5 829 1129.5 756 1130.5 768 1130.5 850 1131.5 801 1131.5 772 1132.5 766 1132.5 859 1133.5 851 1133.5 792 1134.5 756 1134.5 834 1135.5 823 1135.5 778 1136.5 816 1136.5 726 1137.5 793 1137.5 831 1138.5 841 1138.5 770 1139.5 789 1139.5 818 1140.5 877 1140.5 752 1141.5 674 1141.5 842 1142.5 848 1142.5 786 1143.5 804 1143.5 758 1144.5 763 1144.5 815 1145.5 818 1145.5 747 1146.5 780 1146.5 852 1147.5 829 1147.5 782 1148.5 778 1148.5 816 1149.5 822 1149.5 737 1150.5 770 1150.5 803 1151.5 821 1151.5 743 1152.5 772 1152.5 840 1153.5 803 1153.5 763 1154.5 790 1154.5 859 1155.5 821 1155.5 720 1156.5 772 1156.5 816 1157.5 845 1157.5 769 1158.5 774 1158.5 871 1159.5 840 1159.5 775 1160.5 782 1160.5 806 1161.5 803 1161.5 838 1162.5 829 1162.5 797 1163.5 797 1163.5 834 1164.5 787 1164.5 894 1165.5 879 1165.5 800 1166.5 810 1166.5 860 1167.5 867 1167.5 799 1168.5 782 1168.5 817 1169.5 836 1169.5 791 1170.5 749 1170.5 841 1171.5 839 1171.5 740 1172.5 781 1172.5 824 1173.5 825 1173.5 772 1174.5 790 1174.5 813 1175.5 818 1175.5 780 1176.5 773 1176.5 814 1177.5 835 1177.5 751 1178.5 773 1178.5 816 1179.5 820 1179.5 772 1180.5 770 1180.5 819 1181.5 814 1181.5 749 1182.5 757 1182.5 827 1183.5 783 1183.5 764 1184.5 764 1184.5 803 1185.5 797 1185.5 730 1186.5 738 1186.5 789 1187.5 797 1187.5 737 1188.5 732 1188.5 776 1189.5 779 1189.5 729 1190.5 712 1190.5 794 1191.5 771 1191.5 697 1192.5 711 1192.5 774 1193.5 754 1193.5 735 1194.5 727 1194.5 769 1195.5 790 1195.5 733 1196.5 730 1196.5 773 1197.5 760 1197.5 743 1198.5 757 1198.5 702 1199.5 740 1199.5 818 1200.5 799 1200.5 741 1201.5 720 1201.5 779 1202.5 752 1202.5 812 1203.5 795 1203.5 745 1204.5 746 1204.5 832 1205.5 833 1205.5 772 1206.5 768 1206.5 804 1207.5 788 1207.5 742 1208.5 746 1208.5 801 1209.5 790 1209.5 755 1210.5 763 1210.5 780 1211.5 788 1211.5 754 1212.5 750 1212.5 781 1213.5 761 1213.5 813 1214.5 776 1214.5 758 1215.5 765 1215.5 800 1216.5 795 1216.5 695 1217.5 725 1217.5 770 1218.5 778 1218.5 725 1219.5 758 1219.5 831 1220.5 796 1220.5 748 1221.5 754 1221.5 817 1222.5 780 1222.5 733 1223.5 705 1223.5 768 1224.5 754 1224.5 716 1225.5 735 1225.5 786 1226.5 796 1226.5 706 1227.5 726 1227.5 765 1228.5 778 1228.5 752 1229.5 747 1229.5 798 1230.5 779 1230.5 737 1231.5 715 1231.5 763 1232.5 752 1232.5 787 1233.5 795 1233.5 754 1234.5 750 1234.5 786 1235.5 781 1235.5 749 1236.5 719 1236.5 836 1237.5 805 1237.5 744 1238.5 759 1238.5 687 1239.5 743 1239.5 767 1240.5 754 1240.5 795 1241.5 802 1241.5 748 1242.5 719 1242.5 780 1243.5 771 1243.5 796 1244.5 776 1244.5 743 1245.5 764 1245.5 716 1246.5 743 1246.5 797 1247.5 790 1247.5 736 1248.5 746 1248.5 796 1249.5 809 1249.5 752 1250.5 737 1250.5 841 1251.5 798 1251.5 746 1252.5 732 1252.5 790 1253.5 752 1253.5 724 1254.5 714 1254.5 758 1255.5 741 1255.5 787 1256.5 788 1256.5 731 1257.5 726 1257.5 805 1258.5 833 1258.5 757 1259.5 755 1259.5 772 1260.5 775 1260.5 746 1261.5 758 1261.5 794 1262.5 785 1262.5 749 1263.5 754 1263.5 809 1264.5 807 1264.5 743 1265.5 730 1265.5 818 1266.5 829 1266.5 747 1267.5 744 1267.5 820 1268.5 852 1268.5 769 1269.5 781 1269.5 850 1270.5 832 1270.5 793 1271.5 775 1271.5 835 1272.5 810 1272.5 762 1273.5 780 1273.5 817 1274.5 822 1274.5 780 1275.5 793 1275.5 856 1276.5 822 1276.5 785 1277.5 789 1277.5 826 1278.5 816 1278.5 779 1279.5 777 1279.5 801 1280.5 786 1280.5 828 1281.5 815 1281.5 781 1282.5 795 1282.5 827 1283.5 824 1283.5 758 1284.5 756 1284.5 818 1285.5 801 1285.5 758 1286.5 781 1286.5 828 1287.5 804 1287.5 768 1288.5 781 1288.5 812 1289.5 792 1289.5 766 1290.5 780 1290.5 803 1291.5 801 1291.5 778 1292.5 788 1292.5 817 1293.5 796 1293.5 853 1294.5 802 1294.5 786 1295.5 786 1295.5 826 1296.5 816 1296.5 792 1297.5 776 1297.5 841 1298.5 794 1298.5 780 1299.5 805 1299.5 750 1300.5 760 1300.5 807 1301.5 814 1301.5 754 1302.5 767 1302.5 804 1303.5 795 1303.5 753 1304.5 760 1304.5 812 1305.5 799 1305.5 745 1306.5 768 1306.5 781 1307.5 777 1307.5 823 1308.5 817 1308.5 799 1309.5 813 1309.5 778 1310.5 759 1310.5 805 1311.5 835 1311.5 767 1312.5 779 1312.5 817 1313.5 815 1313.5 789 1314.5 779 1314.5 820 1315.5 803 1315.5 786 1316.5 763 1316.5 834 1317.5 839 1317.5 788 1318.5 774 1318.5 832 1319.5 799 1319.5 759 1320.5 754 1320.5 811 1321.5 832 1321.5 768 1322.5 763 1322.5 823 1323.5 819 1323.5 777 1324.5 803 1324.5 848 1325.5 826 1325.5 783 1326.5 776 1326.5 851 1327.5 824 1327.5 753 1328.5 791 1328.5 818 1329.5 831 1329.5 792 1330.5 771 1330.5 835 1331.5 835 1331.5 804 1332.5 793 1332.5 823 1333.5 828 1333.5 771 1334.5 784 1334.5 836 1335.5 810 1335.5 776 1336.5 779 1336.5 817 1337.5 810 1337.5 758 1338.5 758 1338.5 797 1339.5 801 1339.5 769 1340.5 775 1340.5 794 1341.5 796 1341.5 714 1342.5 742 1342.5 838 1343.5 819 1343.5 761 1344.5 733 1344.5 816 1345.5 825 1345.5 778 1346.5 784 1346.5 801 1347.5 800 1347.5 737 1348.5 755 1348.5 794 1349.5 832 1349.5 720 1350.5 703 1350.5 802 1351.5 767 1351.5 711 1352.5 694 1352.5 751 1353.5 747 1353.5 806 1354.5 773 1354.5 737 1355.5 717 1355.5 813 1356.5 803 1356.5 766 1357.5 770 1357.5 738 1358.5 731 1358.5 800 1359.5 802 1359.5 771 1360.5 786 1360.5 725 1361.5 750 1361.5 774 1362.5 781 1362.5 759 1363.5 749 1363.5 807 1364.5 800 1364.5 709 1365.5 761 1365.5 821 1366.5 799 1366.5 740 1367.5 745 1367.5 807 1368.5 799 1368.5 749 1369.5 745 1369.5 820 1370.5 776 1370.5 741 1371.5 722 1371.5 819 1372.5 838 1372.5 762 1373.5 722 1373.5 825 1374.5 786 1374.5 749 1375.5 740 1375.5 778 1376.5 789 1376.5 739 1377.5 745 1377.5 775 1378.5 761 1378.5 805 1379.5 820 1379.5 760 1380.5 843 1380.5 637 1381.5 760 1381.5 793 1382.5 809 1382.5 767 1383.5 786 1383.5 710 1384.5 690 1384.5 780 1385.5 758 1385.5 804 1386.5 813 1386.5 709 1387.5 736 1387.5 827 1388.5 815 1388.5 717 1389.5 741 1389.5 830 1390.5 825 1390.5 770 1391.5 770 1391.5 727 1392.5 712 1392.5 748 1393.5 731 1393.5 806 1394.5 803 1394.5 728 1395.5 731 1395.5 686 1396.5 678 1396.5 792 1397.5 761 1397.5 682 1398.5 712 1398.5 743 1399.5 729 1399.5 652 1400.5 704 1400.5 761 1401.5 762 1401.5 692 1402.5 692 1402.5 726 1403.5 704 1403.5 755 1404.5 729 1404.5 662 1405.5 637 1405.5 696 1406.5 730 1406.5 640 1407.5 694 1407.5 748 1408.5 725 1408.5 816 1409.5 772 1409.5 666 1410.5 714 1410.5 781 1411.5 741 1411.5 707 1412.5 667 1412.5 792 1413.5 734 1413.5 707 1414.5 670 1414.5 763 1415.5 723 1415.5 654 1416.5 712 1416.5 731 1417.5 715 1417.5 779 1418.5 815 1418.5 703 1419.5 732 1419.5 792 1420.5 808 1420.5 725 1421.5 741 1421.5 800 1422.5 793 1422.5 733 1423.5 757 1423.5 793 1424.5 803 1424.5 733 1425.5 741 1425.5 777 1426.5 777 1426.5 764 1427.5 761 1427.5 780 1428.5 791 1428.5 763 1429.5 750 1429.5 786 1430.5 794 1430.5 764 1431.5 743 1431.5 790 1432.5 800 1432.5 770 1433.5 764 1433.5 803 1434.5 794 1434.5 736 1435.5 732 1435.5 809 1436.5 794 1436.5 761 1437.5 764 1437.5 798 1438.5 806 1438.5 773 1439.5 781 1439.5 741 1440.5 740 1440.5 806 1441.5 797 1441.5 752 1442.5 785 1442.5 717 1443.5 741 1443.5 784 1444.5 793 1444.5 761 1445.5 767 1445.5 736 1446.5 758 1446.5 800 1447.5 795 1447.5 722 1448.5 740 1448.5 797 1449.5 761 1449.5 717 1450.5 731 1450.5 767 1451.5 774 1451.5 718 1452.5 734 1452.5 775 1453.5 784 1453.5 737 1454.5 755 1454.5 801 1455.5 774 1455.5 732 1456.5 747 1456.5 686 1457.5 745 1457.5 768 1458.5 791 1458.5 690 1459.5 676 1459.5 735 1460.5 741 1460.5 641 1461.5 701 1461.5 767 1462.5 759 1462.5 727 1463.5 744 1463.5 666 1464.5 679 1464.5 804 1465.5 761 1465.5 723 1466.5 749 1466.5 653 1467.5 684 1467.5 733 1468.5 723 1468.5 765 1469.5 764 1469.5 721 1470.5 712 1470.5 755 1471.5 814 1471.5 694 1472.5 733 1472.5 765 1473.5 765 1473.5 710 1474.5 691 1474.5 733 1475.5 724 1475.5 771 1476.5 736 1476.5 702 1477.5 725 1477.5 743 1478.5 725 1478.5 707 1479.5 722 1479.5 753 1480.5 758 1480.5 713 1481.5 718 1481.5 795 1482.5 817 1482.5 677 1483.5 708 1483.5 781 1484.5 778 1484.5 716 1485.5 707 1485.5 798 1486.5 750 1486.5 697 1487.5 673 1487.5 776 1488.5 764 1488.5 688 1489.5 752 1489.5 800 1490.5 758 1490.5 740 1491.5 700 1491.5 788 1492.5 764 1492.5 709 1493.5 665 1493.5 763 1494.5 742 1494.5 712 1495.5 697 1495.5 776 1496.5 773 1496.5 722 1497.5 739 1497.5 753 1498.5 761 1498.5 705 1499.5 741 1499.5 799 1500.5 804 1500.5 706 1501.5 730 1501.5 815 1502.5 757 1502.5 698 1503.5 696 1503.5 782 1504.5 779 1504.5 701 1505.5 734 1505.5 786 1506.5 787 1506.5 713 1507.5 753 1507.5 621 1508.5 734 1508.5 773 1509.5 750 1509.5 829 1510.5 808 1510.5 708 1511.5 725 1511.5 789 1512.5 756 1512.5 831 1513.5 829 1513.5 742 1514.5 720 1514.5 776 1515.5 767 1515.5 733 1516.5 716 1516.5 795 1517.5 752 1517.5 678 1518.5 712 1518.5 738 1519.5 682 1519.5 799 1520.5 758 1520.5 720 1521.5 705 1521.5 738 1522.5 757 1522.5 704 1523.5 719 1523.5 768 1524.5 715 1524.5 686 1525.5 721 1525.5 735 1526.5 708 1526.5 763 1527.5 750 1527.5 696 1528.5 714 1528.5 764 1529.5 746 1529.5 687 1530.5 707 1530.5 730 1531.5 744 1531.5 697 1532.5 695 1532.5 755 1533.5 730 1533.5 708 1534.5 731 1534.5 677 1535.5 696 1535.5 745 1536.5 750 1536.5 699 1537.5 665 1537.5 756 1538.5 758 1538.5 698 1539.5 680 1539.5 736 1540.5 703 1540.5 783 1541.5 769 1541.5 721 1542.5 731 1542.5 771 1543.5 803 1543.5 721 1544.5 736 1544.5 792 1545.5 789 1545.5 773 1546.5 760 1546.5 803 1547.5 786 1547.5 747 1548.5 761 1548.5 806 1549.5 793 1549.5 753 1550.5 746 1550.5 770 1551.5 737 1551.5 816 1552.5 805 1552.5 758 1553.5 777 1553.5 689 1554.5 733 1554.5 796 1555.5 765 1555.5 735 1556.5 713 1556.5 777 1557.5 761 1557.5 713 1558.5 708 1558.5 736 1559.5 761 1559.5 663 1560.5 721 1560.5 773 1561.5 770 1561.5 720 1562.5 739 1562.5 774 1563.5 753 1563.5 723 1564.5 703 1564.5 769 1565.5 771 1565.5 725 1566.5 743 1566.5 761 1567.5 785 1567.5 730 1568.5 721 1568.5 776 1569.5 778 1569.5 754 1570.5 722 1570.5 810 1571.5 808 1571.5 729 1572.5 701 1572.5 801 1573.5 780 1573.5 736 1574.5 743 1574.5 793 1575.5 765 1575.5 738 1576.5 725 1576.5 768 1577.5 762 1577.5 733 1578.5 747 1578.5 775 1579.5 806 1579.5 732 1580.5 764 1580.5 691 1581.5 762 1581.5 792 1582.5 805 1582.5 750 1583.5 777 1583.5 850 1584.5 835 1584.5 720 1585.5 748 1585.5 796 1586.5 811 1586.5 724 1587.5 762 1587.5 791 1588.5 805 1588.5 755 1589.5 786 1589.5 719 1590.5 716 1590.5 768 1591.5 784 1591.5 738 1592.5 730 1592.5 781 1593.5 791 1593.5 700 1594.5 734 1594.5 767 1595.5 769 1595.5 710 1596.5 724 1596.5 767 1597.5 761 1597.5 727 1598.5 731 1598.5 798 1599.5 784 1599.5 737 1600.5 706 1600.5 775 1601.5 773 1601.5 698 1602.5 741 1602.5 778 1603.5 790 1603.5 698 1604.5 751 1604.5 818 1605.5 813 1605.5 724 1606.5 727 1606.5 774 1607.5 770 1607.5 728 1608.5 746 1608.5 802 1609.5 795 1609.5 756 1610.5 740 1610.5 786 1611.5 810 1611.5 742 1612.5 730 1612.5 772 1613.5 763 1613.5 801 1614.5 779 1614.5 763 1615.5 744 1615.5 795 1616.5 798 1616.5 754 1617.5 784 1617.5 717 1618.5 719 1618.5 782 1619.5 772 1619.5 759 1620.5 751 1620.5 783 1621.5 785 1621.5 732 1622.5 736 1622.5 771 1623.5 771 1623.5 760 1624.5 767 1624.5 789 1625.5 756 1625.5 824 1626.5 808 1626.5 766 1627.5 765 1627.5 800 1628.5 812 1628.5 733 1629.5 763 1629.5 810 1630.5 786 1630.5 764 1631.5 748 1631.5 804 1632.5 768 1632.5 752 1633.5 746 1633.5 807 1634.5 796 1634.5 736 1635.5 739 1635.5 775 1636.5 785 1636.5 756 1637.5 753 1637.5 771 1638.5 772 1638.5 729 1639.5 736 1639.5 781 1640.5 788 1640.5 766 1641.5 751 1641.5 781 1642.5 776 1642.5 741 1643.5 741 1643.5 758 1644.5 791 1644.5 695 1645.5 722 1645.5 754 1646.5 759 1646.5 728 1647.5 729 1647.5 777 1648.5 778 1648.5 729 1649.5 736 1649.5 787 1650.5 797 1650.5 737 1651.5 748 1651.5 791 1652.5 775 1652.5 751 1653.5 760 1653.5 731 1654.5 742 1654.5 755 1655.5 747 1655.5 778 1656.5 763 1656.5 742 1657.5 771 1657.5 694 1658.5 743 1658.5 768 1659.5 766 1659.5 742 1660.5 743 1660.5 760 1661.5 760 1661.5 782 1662.5 773 1662.5 751 1663.5 730 1663.5 775 1664.5 767 1664.5 723 1665.5 725 1665.5 759 1666.5 739 1666.5 787 1667.5 759 1667.5 732 1668.5 741 1668.5 766 1669.5 758 1669.5 818 1670.5 817 1670.5 731 1671.5 750 1671.5 772 1672.5 760 1672.5 729 1673.5 726 1673.5 766 1674.5 764 1674.5 720 1675.5 739 1675.5 776 1676.5 779 1676.5 744 1677.5 730 1677.5 792 1678.5 797 1678.5 689 1679.5 734 1679.5 760 1680.5 747 1680.5 824 1681.5 811 1681.5 707 1682.5 737 1682.5 793 1683.5 756 1683.5 710 1684.5 748 1684.5 832 1685.5 800 1685.5 743 1686.5 760 1686.5 802 1687.5 753 1687.5 746 1688.5 769 1688.5 723 1689.5 676 1689.5 774 1690.5 752 1690.5 673 1691.5 724 1691.5 760 1692.5 760 1692.5 715 1693.5 700 1693.5 741 1694.5 714 1694.5 693 1695.5 707 1695.5 737 1696.5 771 1696.5 670 1697.5 728 1697.5 762 1698.5 753 1698.5 720 1699.5 734 1699.5 777 1700.5 785 1700.5 688 1701.5 729 1701.5 821 1702.5 783 1702.5 723 1703.5 721 1703.5 759 1704.5 753 1704.5 740 1705.5 736 1705.5 771 1706.5 786 1706.5 730 1707.5 757 1707.5 694 1708.5 741 1708.5 804 1709.5 772 1709.5 686 1710.5 709 1710.5 796 1711.5 781 1711.5 687 1712.5 736 1712.5 793 1713.5 774 1713.5 724 1714.5 701 1714.5 791 1715.5 810 1715.5 755 1716.5 782 1716.5 722 1717.5 749 1717.5 771 1718.5 791 1718.5 732 1719.5 746 1719.5 760 1720.5 741 1720.5 782 1721.5 780 1721.5 758 1722.5 747 1722.5 776 1723.5 803 1723.5 732 1724.5 764 1724.5 801 1725.5 813 1725.5 770 1726.5 768 1726.5 784 1727.5 810 1727.5 746 1728.5 758 1728.5 811 1729.5 803 1729.5 770 1730.5 765 1730.5 799 1731.5 786 1731.5 832 1732.5 808 1732.5 765 1733.5 782 1733.5 801 1734.5 800 1734.5 779 1735.5 797 1735.5 762 1736.5 759 1736.5 837 1737.5 817 1737.5 757 1738.5 782 1738.5 726 1739.5 711 1739.5 791 1740.5 783 1740.5 752 1741.5 785 1741.5 816 1742.5 812 1742.5 735 1743.5 762 1743.5 814 1744.5 817 1744.5 786 1745.5 799 1745.5 763 1746.5 764 1746.5 814 1747.5 791 1747.5 766 1748.5 772 1748.5 834 1749.5 839 1749.5 737 1750.5 763 1750.5 854 1751.5 791 1751.5 755 1752.5 781 1752.5 804 1753.5 828 1753.5 772 1754.5 787 1754.5 814 1755.5 807 1755.5 780 1756.5 796 1756.5 760 1757.5 737 1757.5 794 1758.5 821 1758.5 763 1759.5 757 1759.5 807 1760.5 829 1760.5 752 1761.5 716 1761.5 795 1762.5 813 1762.5 765 1763.5 763 1763.5 818 1764.5 845 1764.5 764 1765.5 774 1765.5 717 1766.5 759 1766.5 786 1767.5 827 1767.5 737 1768.5 740 1768.5 791 1769.5 801 1769.5 713 1770.5 735 1770.5 821 1771.5 777 1771.5 718 1772.5 766 1772.5 811 1773.5 796 1773.5 722 1774.5 733 1774.5 756 1775.5 763 1775.5 698 1776.5 690 1776.5 744 1777.5 721 1777.5 773 1778.5 730 1778.5 694 1779.5 696 1779.5 740 1780.5 724 1780.5 799 1781.5 753 1781.5 705 1782.5 703 1782.5 776 1783.5 806 1783.5 718 1784.5 710 1784.5 753 1785.5 727 1785.5 779 1786.5 751 1786.5 716 1787.5 722 1787.5 801 1788.5 767 1788.5 713 1789.5 727 1789.5 760 1790.5 747 1790.5 718 1791.5 727 1791.5 745 1792.5 762 1792.5 708 1793.5 702 1793.5 752 1794.5 738 1794.5 679 1795.5 700 1795.5 743 1796.5 760 1796.5 711 1797.5 724 1797.5 753 1798.5 730 1798.5 689 1799.5 666 1799.5 761 1800.5 765 1800.5 708 1801.5 715 1801.5 743 1802.5 761 1802.5 722 1803.5 724 1803.5 747 1804.5 753 1804.5 705 1805.5 670 1805.5 739 1806.5 730 1806.5 679 1807.5 661 1807.5 703 1808.5 742 1808.5 658 1809.5 683 1809.5 711 1810.5 728 1810.5 635 1811.5 677 1811.5 767 1812.5 720 1812.5 672 1813.5 652 1813.5 712 1814.5 731 1814.5 688 1815.5 698 1815.5 733 1816.5 727 1816.5 695 1817.5 682 1817.5 751 1818.5 778 1818.5 717 1819.5 710 1819.5 789 1820.5 748 1820.5 735 1821.5 756 1821.5 706 1822.5 712 1822.5 750 1823.5 753 1823.5 698 1824.5 729 1824.5 809 1825.5 809 1825.5 700 1826.5 703 1826.5 752 1827.5 748 1827.5 730 1828.5 730 1828.5 757 1829.5 737 1829.5 811 1830.5 775 1830.5 732 1831.5 721 1831.5 771 1832.5 776 1832.5 744 1833.5 740 1833.5 775 1834.5 784 1834.5 746 1835.5 775 1835.5 695 1836.5 730 1836.5 755 1837.5 775 1837.5 714 1838.5 739 1838.5 661 1839.5 714 1839.5 744 1840.5 737 1840.5 679 1841.5 688 1841.5 719 1842.5 714 1842.5 676 1843.5 681 1843.5 715 1844.5 687 1844.5 768 1845.5 762 1845.5 686 1846.5 707 1846.5 766 1847.5 763 1847.5 719 1848.5 703 1848.5 762 1849.5 747 1849.5 690 1850.5 686 1850.5 749 1851.5 783 1851.5 703 1852.5 681 1852.5 773 1853.5 739 1853.5 687 1854.5 682 1854.5 749 1855.5 773 1855.5 702 1856.5 710 1856.5 736 1857.5 710 1857.5 803 1858.5 766 1858.5 719 1859.5 706 1859.5 777 1860.5 762 1860.5 667 1861.5 719 1861.5 758 1862.5 736 1862.5 684 1863.5 725 1863.5 749 1864.5 751 1864.5 702 1865.5 693 1865.5 768 1866.5 786 1866.5 719 1867.5 690 1867.5 750 1868.5 748 1868.5 704 1869.5 679 1869.5 752 1870.5 782 1870.5 707 1871.5 683 1871.5 748 1872.5 735 1872.5 700 1873.5 702 1873.5 734 1874.5 719 1874.5 775 1875.5 749 1875.5 713 1876.5 696 1876.5 753 1877.5 750 1877.5 711 1878.5 711 1878.5 755 1879.5 762 1879.5 708 1880.5 698 1880.5 747 1881.5 737 1881.5 688 1882.5 662 1882.5 720 1883.5 690 1883.5 755 1884.5 751 1884.5 731 1885.5 724 1885.5 784 1886.5 762 1886.5 721 1887.5 713 1887.5 754 1888.5 731 1888.5 807 1889.5 804 1889.5 741 1890.5 741 1890.5 791 1891.5 775 1891.5 717 1892.5 712 1892.5 755 1893.5 784 1893.5 716 1894.5 741 1894.5 768 1895.5 760 1895.5 678 1896.5 704 1896.5 772 1897.5 732 1897.5 694 1898.5 701 1898.5 763 1899.5 764 1899.5 701 1900.5 716 1900.5 757 1901.5 792 1901.5 700 1902.5 727 1902.5 666 1903.5 657 1903.5 738 1904.5 737 1904.5 669 1905.5 723 1905.5 744 1906.5 733 1906.5 704 1907.5 711 1907.5 730 1908.5 740 1908.5 678 1909.5 686 1909.5 763 1910.5 749 1910.5 690 1911.5 716 1911.5 761 1912.5 734 1912.5 679 1913.5 694 1913.5 746 1914.5 734 1914.5 697 1915.5 675 1915.5 738 1916.5 738 1916.5 691 1917.5 708 1917.5 749 1918.5 749 1918.5 707 1919.5 707 1919.5 767 1920.5 727 1920.5 679 1921.5 702 1921.5 732 1922.5 764 1922.5 696 1923.5 671 1923.5 732 1924.5 737 1924.5 655 1925.5 681 1925.5 626 1926.5 602 1926.5 671 1927.5 648 1927.5 695 1928.5 684 1928.5 632 1929.5 659 1929.5 727 1930.5 688 1930.5 656 1931.5 679 1931.5 715 1932.5 703 1932.5 658 1933.5 677 1933.5 744 1934.5 712 1934.5 648 1935.5 690 1935.5 764 1936.5 729 1936.5 683 1937.5 719 1937.5 633 1938.5 635 1938.5 735 1939.5 716 1939.5 676 1940.5 675 1940.5 738 1941.5 729 1941.5 642 1942.5 680 1942.5 714 1943.5 740 1943.5 677 1944.5 694 1944.5 730 1945.5 737 1945.5 693 1946.5 703 1946.5 753 1947.5 758 1947.5 705 1948.5 738 1948.5 656 1949.5 706 1949.5 736 1950.5 756 1950.5 704 1951.5 713 1951.5 752 1952.5 742 1952.5 733 1953.5 710 1953.5 763 1954.5 739 1954.5 663 1955.5 706 1955.5 744 1956.5 746 1956.5 711 1957.5 703 1957.5 786 1958.5 737 1958.5 713 1959.5 728 1959.5 760 1960.5 744 1960.5 664 1961.5 684 1961.5 755 1962.5 743 1962.5 723 1963.5 748 1963.5 675 1964.5 691 1964.5 737 1965.5 727 1965.5 699 1966.5 703 1966.5 725 1967.5 741 1967.5 689 1968.5 690 1968.5 744 1969.5 728 1969.5 665 1970.5 682 1970.5 780 1971.5 768 1971.5 666 1972.5 686 1972.5 742 1973.5 770 1973.5 684 1974.5 668 1974.5 720 1975.5 711 1975.5 638 1976.5 693 1976.5 766 1977.5 731 1977.5 705 1978.5 699 1978.5 761 1979.5 718 1979.5 691 1980.5 667 1980.5 744 1981.5 732 1981.5 677 1982.5 661 1982.5 743 1983.5 774 1983.5 667 1984.5 704 1984.5 724 1985.5 730 1985.5 708 1986.5 733 1986.5 733" fill="none" stroke="#00b06a" stroke-width="5.5" stroke-linejoin="round" stroke-linecap="round" shape-rendering="crispEdges"/></g><g fill="#000" shape-rendering="crispEdges"><rect x="310" y="42" width="1758" height="7"/><rect x="310" y="1459" width="1758" height="6"/><rect x="310" y="42" width="6" height="1423"/><rect x="2062" y="42" width="6" height="1423"/><rect x="285" y="1459" width="25" height="6"/><rect x="285" y="1257" width="25" height="6"/><rect x="285" y="1054" width="25" height="6"/><rect x="285" y="852" width="25" height="6"/><rect x="285" y="650" width="25" height="6"/><rect x="285" y="447" width="25" height="6"/><rect x="285" y="245" width="25" height="6"/><rect x="285" y="42" width="25" height="7"/><rect x="299" y="1358" width="11" height="6"/><rect x="299" y="1155" width="11" height="6"/><rect x="299" y="953" width="11" height="6"/><rect x="299" y="751" width="11" height="6"/><rect x="299" y="548" width="11" height="6"/><rect x="299" y="346" width="11" height="6"/><rect x="299" y="144" width="11" height="6"/><rect x="390" y="1465" width="6" height="25"/><rect x="708" y="1465" width="6" height="25"/><rect x="1027" y="1465" width="6" height="25"/><rect x="1346" y="1465" width="6" height="25"/><rect x="1664" y="1465" width="6" height="25"/><rect x="1983" y="1465" width="6" height="25"/><rect x="549" y="1465" width="6" height="11"/><rect x="868" y="1465" width="6" height="11"/><rect x="1186" y="1465" width="6" height="11"/><rect x="1505" y="1465" width="6" height="11"/><rect x="1824" y="1465" width="6" height="11"/></g><g font-family="Liberation Serif, serif" font-size="61.5" letter-spacing="-1.5" fill="#000"><text x="263" y="1479.0" text-anchor="end">0.00</text><text x="263" y="1276.6" text-anchor="end">0.05</text><text x="263" y="1074.3" text-anchor="end">0.10</text><text x="263" y="871.9" text-anchor="end">0.15</text><text x="263" y="669.6" text-anchor="end">0.20</text><text x="263" y="467.2" text-anchor="end">0.25</text><text x="263" y="264.8" text-anchor="end">0.30</text><text x="263" y="62.5" text-anchor="end">0.35</text><text x="392.5" y="1554" text-anchor="middle">0</text><text x="711.2" y="1554" text-anchor="middle">20</text><text x="1029.9" y="1554" text-anchor="middle">40</text><text x="1348.6" y="1554" text-anchor="middle">60</text><text x="1667.3" y="1554" text-anchor="middle">80</text><text x="1986.0" y="1554" text-anchor="middle">100</text></g><g font-family="Liberation Serif, serif" font-size="75" fill="#000"><text x="1188.5" y="1670" text-anchor="middle">Time(ns)</text><text transform="translate(79,722) rotate(-90)" text-anchor="middle">RMSD (nm)</text><line x1="355" y1="85" x2="521" y2="85" stroke="#747474" stroke-width="6" stroke-linecap="round"/><text x="540" y="110.5">WT</text><line x1="355" y1="175" x2="521" y2="175" stroke="#ff4040" stroke-width="6" stroke-linecap="round"/><text x="540" y="200.4">F115L_L118T</text><line x1="355" y1="266" x2="521" y2="266" stroke="#0070e6" stroke-width="6" stroke-linecap="round"/><text x="540" y="290.3">P1</text><line x1="355" y1="356" x2="521" y2="356" stroke="#00b06a" stroke-width="6" stroke-linecap="round"/><text x="540" y="381.5">P2</text></g></svg></body></html>
